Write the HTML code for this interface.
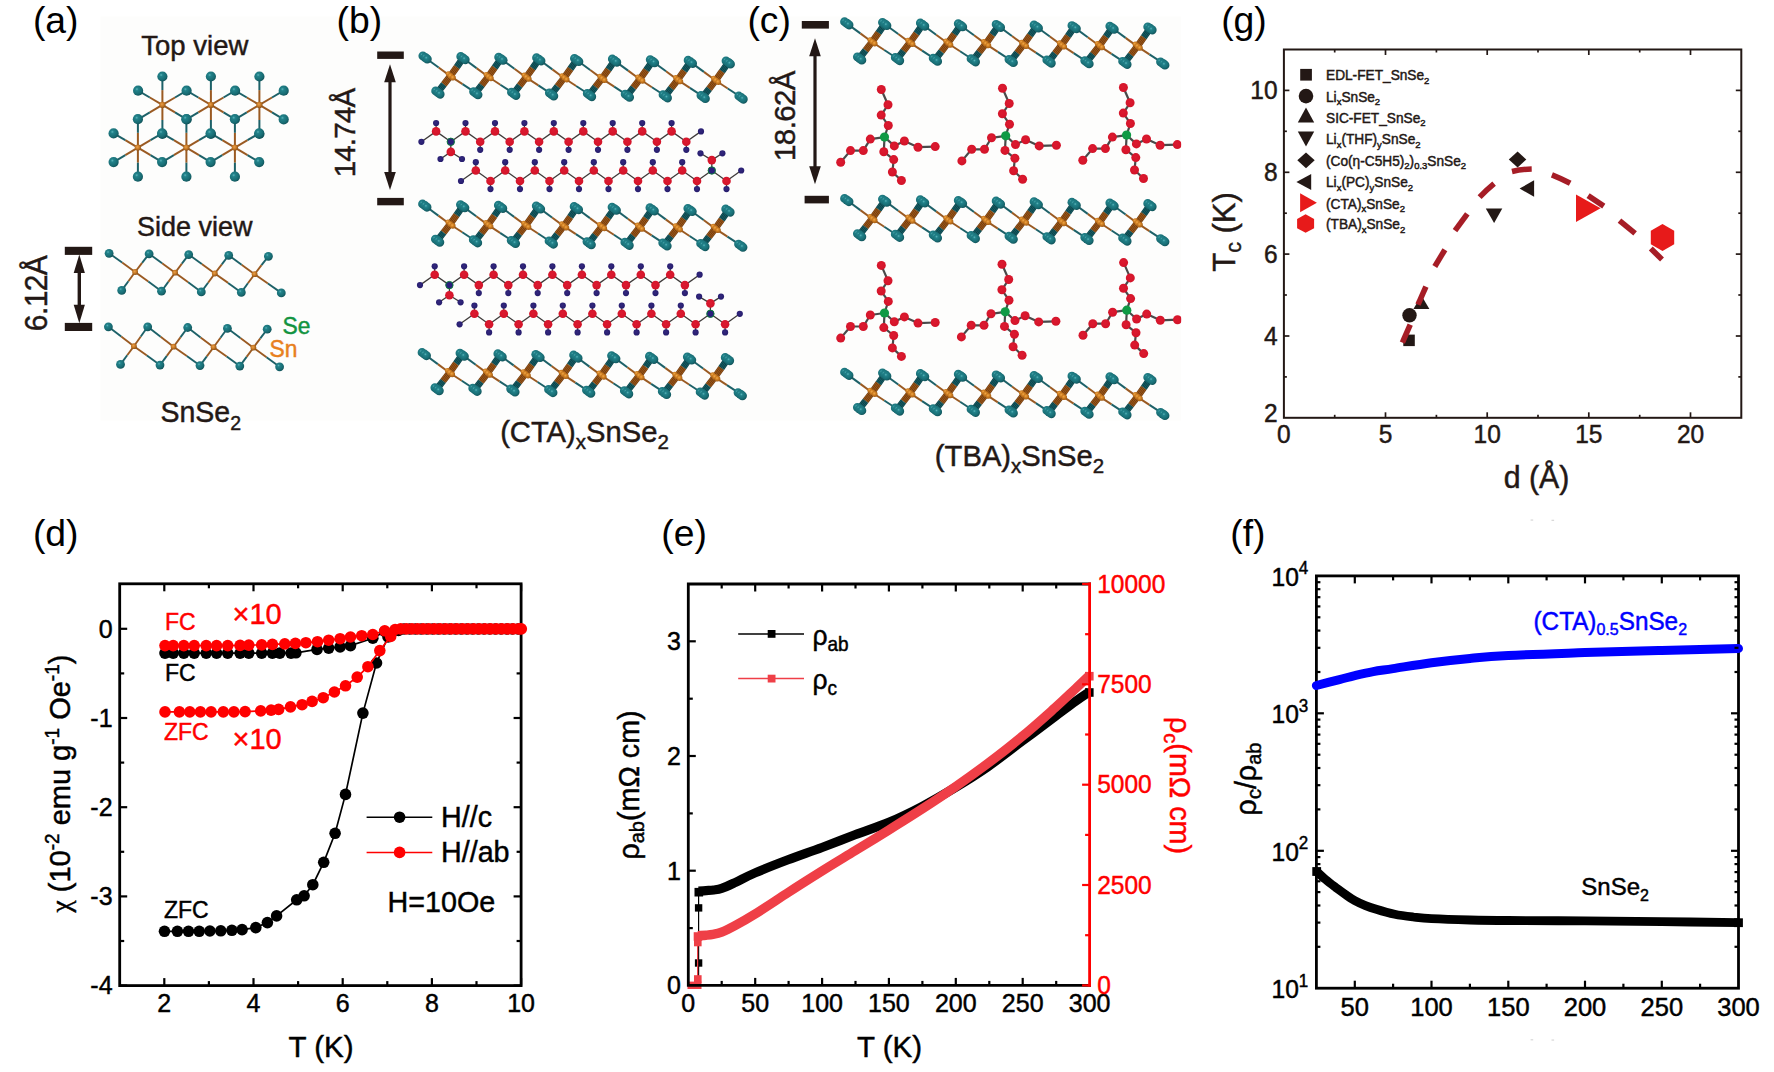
<!DOCTYPE html>
<html lang="en"><head><meta charset="utf-8"><title>Figure</title>
<style>
html,body{margin:0;padding:0;background:#fff;}
body{width:1774px;height:1072px;overflow:hidden;}
svg{display:block;font-family:"Liberation Sans",sans-serif;}
</style></head><body>
<svg width="1774" height="1072" viewBox="0 0 1774 1072">
<defs>
<radialGradient id="gSe" cx="0.38" cy="0.35" r="0.7"><stop offset="0" stop-color="#5ab4b9"/><stop offset="0.22" stop-color="#22828a"/><stop offset="0.7" stop-color="#186c73"/><stop offset="1" stop-color="#0f4e54"/></radialGradient>
<radialGradient id="gSn" cx="0.4" cy="0.38" r="0.7"><stop offset="0" stop-color="#f0a848"/><stop offset="0.4" stop-color="#d07f22"/><stop offset="1" stop-color="#9a5612"/></radialGradient>
<radialGradient id="gSn2" cx="0.42" cy="0.4" r="0.7"><stop offset="0" stop-color="#eaa04a"/><stop offset="0.45" stop-color="#c87a26"/><stop offset="1" stop-color="#7e4814"/></radialGradient>
<radialGradient id="gC" cx="0.45" cy="0.42" r="0.7"><stop offset="0" stop-color="#dc1a30"/><stop offset="0.8" stop-color="#d31429"/><stop offset="1" stop-color="#bd0f22"/></radialGradient>
<radialGradient id="gH" cx="0.45" cy="0.42" r="0.7"><stop offset="0" stop-color="#33287f"/><stop offset="1" stop-color="#231a68"/></radialGradient>
<clipPath id="clipABC"><rect x="100.5" y="16.5" width="1080.7" height="404"/></clipPath>
</defs>
<rect x="100.5" y="16.5" width="1080.7" height="404" fill="#fdfdfc"/>
<text class="pl" x="32.9" y="32.5" font-size="37.3" fill="#000">(a)</text>
<text class="pl" x="336.6" y="32.5" font-size="37.3" fill="#000">(b)</text>
<text class="pl" x="747.4" y="32.5" font-size="37.3" fill="#000">(c)</text>
<g id="a-top">
<line x1="162.4" y1="104.9" x2="162.4" y2="90.1" stroke="#9a5a22" stroke-width="2.0"/>
<line x1="162.4" y1="90.1" x2="162.4" y2="76.5" stroke="#1d6168" stroke-width="2.0"/>
<line x1="162.4" y1="104.9" x2="162.4" y2="120" stroke="#9a5a22" stroke-width="2.0"/>
<line x1="162.4" y1="120" x2="162.4" y2="134" stroke="#1d6168" stroke-width="2.0"/>
<line x1="162.4" y1="104.9" x2="149.8" y2="97.5" stroke="#9a5a22" stroke-width="2.0"/>
<line x1="149.8" y1="97.5" x2="138.1" y2="90.7" stroke="#1d6168" stroke-width="2.0"/>
<line x1="162.4" y1="104.9" x2="175" y2="97.5" stroke="#9a5a22" stroke-width="2.0"/>
<line x1="175" y1="97.5" x2="186.7" y2="90.7" stroke="#1d6168" stroke-width="2.0"/>
<line x1="162.4" y1="104.9" x2="149.8" y2="112.4" stroke="#9a5a22" stroke-width="2.0"/>
<line x1="149.8" y1="112.4" x2="138.1" y2="119.4" stroke="#1d6168" stroke-width="2.0"/>
<line x1="162.4" y1="104.9" x2="175" y2="112.4" stroke="#9a5a22" stroke-width="2.0"/>
<line x1="175" y1="112.4" x2="186.7" y2="119.4" stroke="#1d6168" stroke-width="2.0"/>
<line x1="210.9" y1="104.9" x2="210.9" y2="90.1" stroke="#9a5a22" stroke-width="2.0"/>
<line x1="210.9" y1="90.1" x2="210.9" y2="76.5" stroke="#1d6168" stroke-width="2.0"/>
<line x1="210.9" y1="104.9" x2="210.9" y2="120" stroke="#9a5a22" stroke-width="2.0"/>
<line x1="210.9" y1="120" x2="210.9" y2="134" stroke="#1d6168" stroke-width="2.0"/>
<line x1="210.9" y1="104.9" x2="198.3" y2="97.5" stroke="#9a5a22" stroke-width="2.0"/>
<line x1="198.3" y1="97.5" x2="186.6" y2="90.7" stroke="#1d6168" stroke-width="2.0"/>
<line x1="210.9" y1="104.9" x2="223.5" y2="97.5" stroke="#9a5a22" stroke-width="2.0"/>
<line x1="223.5" y1="97.5" x2="235.2" y2="90.7" stroke="#1d6168" stroke-width="2.0"/>
<line x1="210.9" y1="104.9" x2="198.3" y2="112.4" stroke="#9a5a22" stroke-width="2.0"/>
<line x1="198.3" y1="112.4" x2="186.6" y2="119.4" stroke="#1d6168" stroke-width="2.0"/>
<line x1="210.9" y1="104.9" x2="223.5" y2="112.4" stroke="#9a5a22" stroke-width="2.0"/>
<line x1="223.5" y1="112.4" x2="235.2" y2="119.4" stroke="#1d6168" stroke-width="2.0"/>
<line x1="259.4" y1="104.9" x2="259.4" y2="90.1" stroke="#9a5a22" stroke-width="2.0"/>
<line x1="259.4" y1="90.1" x2="259.4" y2="76.5" stroke="#1d6168" stroke-width="2.0"/>
<line x1="259.4" y1="104.9" x2="259.4" y2="120" stroke="#9a5a22" stroke-width="2.0"/>
<line x1="259.4" y1="120" x2="259.4" y2="134" stroke="#1d6168" stroke-width="2.0"/>
<line x1="259.4" y1="104.9" x2="246.8" y2="97.5" stroke="#9a5a22" stroke-width="2.0"/>
<line x1="246.8" y1="97.5" x2="235.1" y2="90.7" stroke="#1d6168" stroke-width="2.0"/>
<line x1="259.4" y1="104.9" x2="272" y2="97.5" stroke="#9a5a22" stroke-width="2.0"/>
<line x1="272" y1="97.5" x2="283.7" y2="90.7" stroke="#1d6168" stroke-width="2.0"/>
<line x1="259.4" y1="104.9" x2="246.8" y2="112.4" stroke="#9a5a22" stroke-width="2.0"/>
<line x1="246.8" y1="112.4" x2="235.1" y2="119.4" stroke="#1d6168" stroke-width="2.0"/>
<line x1="259.4" y1="104.9" x2="272" y2="112.4" stroke="#9a5a22" stroke-width="2.0"/>
<line x1="272" y1="112.4" x2="283.7" y2="119.4" stroke="#1d6168" stroke-width="2.0"/>
<line x1="137.9" y1="147.6" x2="137.9" y2="132.8" stroke="#9a5a22" stroke-width="2.0"/>
<line x1="137.9" y1="132.8" x2="137.9" y2="119.2" stroke="#1d6168" stroke-width="2.0"/>
<line x1="137.9" y1="147.6" x2="137.9" y2="162.7" stroke="#9a5a22" stroke-width="2.0"/>
<line x1="137.9" y1="162.7" x2="137.9" y2="176.7" stroke="#1d6168" stroke-width="2.0"/>
<line x1="137.9" y1="147.6" x2="125.3" y2="140.2" stroke="#9a5a22" stroke-width="2.0"/>
<line x1="125.3" y1="140.2" x2="113.6" y2="133.4" stroke="#1d6168" stroke-width="2.0"/>
<line x1="137.9" y1="147.6" x2="150.5" y2="140.2" stroke="#9a5a22" stroke-width="2.0"/>
<line x1="150.5" y1="140.2" x2="162.2" y2="133.4" stroke="#1d6168" stroke-width="2.0"/>
<line x1="137.9" y1="147.6" x2="125.3" y2="155.1" stroke="#9a5a22" stroke-width="2.0"/>
<line x1="125.3" y1="155.1" x2="113.6" y2="162.1" stroke="#1d6168" stroke-width="2.0"/>
<line x1="137.9" y1="147.6" x2="150.5" y2="155.1" stroke="#9a5a22" stroke-width="2.0"/>
<line x1="150.5" y1="155.1" x2="162.2" y2="162.1" stroke="#1d6168" stroke-width="2.0"/>
<line x1="186.4" y1="147.6" x2="186.4" y2="132.8" stroke="#9a5a22" stroke-width="2.0"/>
<line x1="186.4" y1="132.8" x2="186.4" y2="119.2" stroke="#1d6168" stroke-width="2.0"/>
<line x1="186.4" y1="147.6" x2="186.4" y2="162.7" stroke="#9a5a22" stroke-width="2.0"/>
<line x1="186.4" y1="162.7" x2="186.4" y2="176.7" stroke="#1d6168" stroke-width="2.0"/>
<line x1="186.4" y1="147.6" x2="173.8" y2="140.2" stroke="#9a5a22" stroke-width="2.0"/>
<line x1="173.8" y1="140.2" x2="162.1" y2="133.4" stroke="#1d6168" stroke-width="2.0"/>
<line x1="186.4" y1="147.6" x2="199" y2="140.2" stroke="#9a5a22" stroke-width="2.0"/>
<line x1="199" y1="140.2" x2="210.7" y2="133.4" stroke="#1d6168" stroke-width="2.0"/>
<line x1="186.4" y1="147.6" x2="173.8" y2="155.1" stroke="#9a5a22" stroke-width="2.0"/>
<line x1="173.8" y1="155.1" x2="162.1" y2="162.1" stroke="#1d6168" stroke-width="2.0"/>
<line x1="186.4" y1="147.6" x2="199" y2="155.1" stroke="#9a5a22" stroke-width="2.0"/>
<line x1="199" y1="155.1" x2="210.7" y2="162.1" stroke="#1d6168" stroke-width="2.0"/>
<line x1="234.9" y1="147.6" x2="234.9" y2="132.8" stroke="#9a5a22" stroke-width="2.0"/>
<line x1="234.9" y1="132.8" x2="234.9" y2="119.2" stroke="#1d6168" stroke-width="2.0"/>
<line x1="234.9" y1="147.6" x2="234.9" y2="162.7" stroke="#9a5a22" stroke-width="2.0"/>
<line x1="234.9" y1="162.7" x2="234.9" y2="176.7" stroke="#1d6168" stroke-width="2.0"/>
<line x1="234.9" y1="147.6" x2="222.3" y2="140.2" stroke="#9a5a22" stroke-width="2.0"/>
<line x1="222.3" y1="140.2" x2="210.6" y2="133.4" stroke="#1d6168" stroke-width="2.0"/>
<line x1="234.9" y1="147.6" x2="247.5" y2="140.2" stroke="#9a5a22" stroke-width="2.0"/>
<line x1="247.5" y1="140.2" x2="259.2" y2="133.4" stroke="#1d6168" stroke-width="2.0"/>
<line x1="234.9" y1="147.6" x2="222.3" y2="155.1" stroke="#9a5a22" stroke-width="2.0"/>
<line x1="222.3" y1="155.1" x2="210.6" y2="162.1" stroke="#1d6168" stroke-width="2.0"/>
<line x1="234.9" y1="147.6" x2="247.5" y2="155.1" stroke="#9a5a22" stroke-width="2.0"/>
<line x1="247.5" y1="155.1" x2="259.2" y2="162.1" stroke="#1d6168" stroke-width="2.0"/>
<circle cx="162.4" cy="76.5" r="5.1" fill="url(#gSe)"/>
<circle cx="162.4" cy="134" r="5.1" fill="url(#gSe)"/>
<circle cx="138.1" cy="90.7" r="5.1" fill="url(#gSe)"/>
<circle cx="186.6" cy="90.7" r="5.1" fill="url(#gSe)"/>
<circle cx="137.9" cy="119.2" r="5.1" fill="url(#gSe)"/>
<circle cx="186.6" cy="119.4" r="5.1" fill="url(#gSe)"/>
<circle cx="210.9" cy="76.5" r="5.1" fill="url(#gSe)"/>
<circle cx="210.9" cy="134" r="5.1" fill="url(#gSe)"/>
<circle cx="235.1" cy="90.7" r="5.1" fill="url(#gSe)"/>
<circle cx="234.9" cy="119.2" r="5.1" fill="url(#gSe)"/>
<circle cx="259.4" cy="76.5" r="5.1" fill="url(#gSe)"/>
<circle cx="259.4" cy="134" r="5.1" fill="url(#gSe)"/>
<circle cx="283.7" cy="90.7" r="5.1" fill="url(#gSe)"/>
<circle cx="283.7" cy="119.4" r="5.1" fill="url(#gSe)"/>
<circle cx="137.9" cy="176.7" r="5.1" fill="url(#gSe)"/>
<circle cx="113.6" cy="133.4" r="5.1" fill="url(#gSe)"/>
<circle cx="162.1" cy="133.4" r="5.1" fill="url(#gSe)"/>
<circle cx="113.6" cy="162.1" r="5.1" fill="url(#gSe)"/>
<circle cx="162.1" cy="162.1" r="5.1" fill="url(#gSe)"/>
<circle cx="186.4" cy="119.2" r="5.1" fill="url(#gSe)"/>
<circle cx="186.4" cy="176.7" r="5.1" fill="url(#gSe)"/>
<circle cx="210.6" cy="133.4" r="5.1" fill="url(#gSe)"/>
<circle cx="210.6" cy="162.1" r="5.1" fill="url(#gSe)"/>
<circle cx="234.9" cy="176.7" r="5.1" fill="url(#gSe)"/>
<circle cx="259.2" cy="133.4" r="5.1" fill="url(#gSe)"/>
<circle cx="259.2" cy="162.1" r="5.1" fill="url(#gSe)"/>
<circle cx="162.4" cy="104.9" r="3.1" fill="url(#gSn2)"/>
<circle cx="210.9" cy="104.9" r="3.1" fill="url(#gSn2)"/>
<circle cx="259.4" cy="104.9" r="3.1" fill="url(#gSn2)"/>
<circle cx="137.9" cy="147.6" r="3.1" fill="url(#gSn2)"/>
<circle cx="186.4" cy="147.6" r="3.1" fill="url(#gSn2)"/>
<circle cx="234.9" cy="147.6" r="3.1" fill="url(#gSn2)"/>
</g>
<text transform="translate(194.8 55.2) scale(1 1.03)" font-size="27.5" fill="#231815" stroke="#231815" stroke-width="0.45" text-anchor="middle">Top view</text>
<text transform="translate(194.8 235.7) scale(1 1.03)" font-size="27" fill="#231815" stroke="#231815" stroke-width="0.45" text-anchor="middle">Side view</text>
<text transform="translate(160.5 422.2) scale(1 1.03)" font-size="28.5" fill="#231815" stroke="#231815" stroke-width="0.45" text-anchor="start">SnSe<tspan font-size="19.5" dy="7.5">2</tspan></text>
<text transform="translate(282.5 333.9) scale(1 1.03)" font-size="22.8" fill="#12933f" stroke="#12933f" stroke-width="0.45" text-anchor="start">Se</text>
<text transform="translate(269.5 357.3) scale(1 1.03)" font-size="22.8" fill="#e8801c" stroke="#e8801c" stroke-width="0.45" text-anchor="start">Sn</text>
<g id="a-side">
<line x1="135.1" y1="272" x2="122.1" y2="262.6" stroke="#9a5a22" stroke-width="1.9"/>
<line x1="122.1" y1="262.6" x2="109.1" y2="253.3" stroke="#1d6168" stroke-width="1.9"/>
<line x1="135.1" y1="272" x2="142.1" y2="262.9" stroke="#9a5a22" stroke-width="1.9"/>
<line x1="142.1" y1="262.9" x2="149.1" y2="253.8" stroke="#1d6168" stroke-width="1.9"/>
<line x1="135.1" y1="272" x2="128.4" y2="281.2" stroke="#9a5a22" stroke-width="1.9"/>
<line x1="128.4" y1="281.2" x2="121.7" y2="290.4" stroke="#1d6168" stroke-width="1.9"/>
<line x1="135.1" y1="272" x2="148.3" y2="281.6" stroke="#9a5a22" stroke-width="1.9"/>
<line x1="148.3" y1="281.6" x2="161.5" y2="291.2" stroke="#1d6168" stroke-width="1.9"/>
<line x1="175.1" y1="272.7" x2="162.1" y2="263.2" stroke="#9a5a22" stroke-width="1.9"/>
<line x1="162.1" y1="263.2" x2="149.1" y2="253.8" stroke="#1d6168" stroke-width="1.9"/>
<line x1="175.1" y1="272.7" x2="181.9" y2="263.6" stroke="#9a5a22" stroke-width="1.9"/>
<line x1="181.9" y1="263.6" x2="188.7" y2="254.6" stroke="#1d6168" stroke-width="1.9"/>
<line x1="175.1" y1="272.7" x2="168.3" y2="281.9" stroke="#9a5a22" stroke-width="1.9"/>
<line x1="168.3" y1="281.9" x2="161.5" y2="291.2" stroke="#1d6168" stroke-width="1.9"/>
<line x1="175.1" y1="272.7" x2="188.2" y2="282.3" stroke="#9a5a22" stroke-width="1.9"/>
<line x1="188.2" y1="282.3" x2="201.3" y2="291.9" stroke="#1d6168" stroke-width="1.9"/>
<line x1="214.8" y1="273.5" x2="201.8" y2="264.1" stroke="#9a5a22" stroke-width="1.9"/>
<line x1="201.8" y1="264.1" x2="188.7" y2="254.6" stroke="#1d6168" stroke-width="1.9"/>
<line x1="214.8" y1="273.5" x2="221.8" y2="264.4" stroke="#9a5a22" stroke-width="1.9"/>
<line x1="221.8" y1="264.4" x2="228.7" y2="255.3" stroke="#1d6168" stroke-width="1.9"/>
<line x1="214.8" y1="273.5" x2="208.1" y2="282.7" stroke="#9a5a22" stroke-width="1.9"/>
<line x1="208.1" y1="282.7" x2="201.3" y2="291.9" stroke="#1d6168" stroke-width="1.9"/>
<line x1="214.8" y1="273.5" x2="228.1" y2="282.9" stroke="#9a5a22" stroke-width="1.9"/>
<line x1="228.1" y1="282.9" x2="241.3" y2="292.4" stroke="#1d6168" stroke-width="1.9"/>
<line x1="254.6" y1="274.2" x2="241.6" y2="264.8" stroke="#9a5a22" stroke-width="1.9"/>
<line x1="241.6" y1="264.8" x2="228.7" y2="255.3" stroke="#1d6168" stroke-width="1.9"/>
<line x1="254.6" y1="274.2" x2="261.5" y2="265.2" stroke="#9a5a22" stroke-width="1.9"/>
<line x1="261.5" y1="265.2" x2="268.4" y2="256.3" stroke="#1d6168" stroke-width="1.9"/>
<line x1="254.6" y1="274.2" x2="247.9" y2="283.3" stroke="#9a5a22" stroke-width="1.9"/>
<line x1="247.9" y1="283.3" x2="241.3" y2="292.4" stroke="#1d6168" stroke-width="1.9"/>
<line x1="254.6" y1="274.2" x2="267.9" y2="283.5" stroke="#9a5a22" stroke-width="1.9"/>
<line x1="267.9" y1="283.5" x2="281.3" y2="292.9" stroke="#1d6168" stroke-width="1.9"/>
<circle cx="109.1" cy="253.3" r="4.4" fill="url(#gSe)"/>
<circle cx="149.1" cy="253.8" r="4.4" fill="url(#gSe)"/>
<circle cx="188.7" cy="254.6" r="4.4" fill="url(#gSe)"/>
<circle cx="228.7" cy="255.3" r="4.4" fill="url(#gSe)"/>
<circle cx="268.4" cy="256.3" r="4.4" fill="url(#gSe)"/>
<circle cx="121.7" cy="290.4" r="4.4" fill="url(#gSe)"/>
<circle cx="161.5" cy="291.2" r="4.4" fill="url(#gSe)"/>
<circle cx="201.3" cy="291.9" r="4.4" fill="url(#gSe)"/>
<circle cx="241.3" cy="292.4" r="4.4" fill="url(#gSe)"/>
<circle cx="281.3" cy="292.9" r="4.4" fill="url(#gSe)"/>
<circle cx="135.1" cy="272" r="2.9" fill="url(#gSn2)"/>
<circle cx="175.1" cy="272.7" r="2.9" fill="url(#gSn2)"/>
<circle cx="214.8" cy="273.5" r="2.9" fill="url(#gSn2)"/>
<circle cx="254.6" cy="274.2" r="2.9" fill="url(#gSn2)"/>
<line x1="133.9" y1="346.2" x2="121.2" y2="336.5" stroke="#9a5a22" stroke-width="1.9"/>
<line x1="121.2" y1="336.5" x2="108.4" y2="326.8" stroke="#1d6168" stroke-width="1.9"/>
<line x1="133.9" y1="346.2" x2="140.8" y2="336.5" stroke="#9a5a22" stroke-width="1.9"/>
<line x1="140.8" y1="336.5" x2="147.7" y2="326.8" stroke="#1d6168" stroke-width="1.9"/>
<line x1="133.9" y1="346.2" x2="127.2" y2="355.3" stroke="#9a5a22" stroke-width="1.9"/>
<line x1="127.2" y1="355.3" x2="120.5" y2="364.4" stroke="#1d6168" stroke-width="1.9"/>
<line x1="133.9" y1="346.2" x2="146.9" y2="355.6" stroke="#9a5a22" stroke-width="1.9"/>
<line x1="146.9" y1="355.6" x2="160" y2="365.1" stroke="#1d6168" stroke-width="1.9"/>
<line x1="173.6" y1="346.7" x2="160.6" y2="336.8" stroke="#9a5a22" stroke-width="1.9"/>
<line x1="160.6" y1="336.8" x2="147.7" y2="326.8" stroke="#1d6168" stroke-width="1.9"/>
<line x1="173.6" y1="346.7" x2="180.6" y2="337.1" stroke="#9a5a22" stroke-width="1.9"/>
<line x1="180.6" y1="337.1" x2="187.7" y2="327.5" stroke="#1d6168" stroke-width="1.9"/>
<line x1="173.6" y1="346.7" x2="166.8" y2="355.9" stroke="#9a5a22" stroke-width="1.9"/>
<line x1="166.8" y1="355.9" x2="160" y2="365.1" stroke="#1d6168" stroke-width="1.9"/>
<line x1="173.6" y1="346.7" x2="186.8" y2="356.1" stroke="#9a5a22" stroke-width="1.9"/>
<line x1="186.8" y1="356.1" x2="200" y2="365.6" stroke="#1d6168" stroke-width="1.9"/>
<line x1="213.6" y1="347.2" x2="200.6" y2="337.4" stroke="#9a5a22" stroke-width="1.9"/>
<line x1="200.6" y1="337.4" x2="187.7" y2="327.5" stroke="#1d6168" stroke-width="1.9"/>
<line x1="213.6" y1="347.2" x2="220.5" y2="337.8" stroke="#9a5a22" stroke-width="1.9"/>
<line x1="220.5" y1="337.8" x2="227.4" y2="328.3" stroke="#1d6168" stroke-width="1.9"/>
<line x1="213.6" y1="347.2" x2="206.8" y2="356.4" stroke="#9a5a22" stroke-width="1.9"/>
<line x1="206.8" y1="356.4" x2="200" y2="365.6" stroke="#1d6168" stroke-width="1.9"/>
<line x1="213.6" y1="347.2" x2="226.7" y2="356.6" stroke="#9a5a22" stroke-width="1.9"/>
<line x1="226.7" y1="356.6" x2="239.8" y2="366.1" stroke="#1d6168" stroke-width="1.9"/>
<line x1="253.4" y1="347.7" x2="240.4" y2="338" stroke="#9a5a22" stroke-width="1.9"/>
<line x1="240.4" y1="338" x2="227.4" y2="328.3" stroke="#1d6168" stroke-width="1.9"/>
<line x1="253.4" y1="347.7" x2="260.3" y2="338.4" stroke="#9a5a22" stroke-width="1.9"/>
<line x1="260.3" y1="338.4" x2="267.2" y2="329.2" stroke="#1d6168" stroke-width="1.9"/>
<line x1="253.4" y1="347.7" x2="246.6" y2="356.9" stroke="#9a5a22" stroke-width="1.9"/>
<line x1="246.6" y1="356.9" x2="239.8" y2="366.1" stroke="#1d6168" stroke-width="1.9"/>
<line x1="253.4" y1="347.7" x2="266.5" y2="357.2" stroke="#9a5a22" stroke-width="1.9"/>
<line x1="266.5" y1="357.2" x2="279.6" y2="366.8" stroke="#1d6168" stroke-width="1.9"/>
<circle cx="108.4" cy="326.8" r="4.4" fill="url(#gSe)"/>
<circle cx="147.7" cy="326.8" r="4.4" fill="url(#gSe)"/>
<circle cx="187.7" cy="327.5" r="4.4" fill="url(#gSe)"/>
<circle cx="227.4" cy="328.3" r="4.4" fill="url(#gSe)"/>
<circle cx="267.2" cy="329.2" r="4.4" fill="url(#gSe)"/>
<circle cx="120.5" cy="364.4" r="4.4" fill="url(#gSe)"/>
<circle cx="160" cy="365.1" r="4.4" fill="url(#gSe)"/>
<circle cx="200" cy="365.6" r="4.4" fill="url(#gSe)"/>
<circle cx="239.8" cy="366.1" r="4.4" fill="url(#gSe)"/>
<circle cx="279.6" cy="366.8" r="4.4" fill="url(#gSe)"/>
<circle cx="133.9" cy="346.2" r="2.9" fill="url(#gSn2)"/>
<circle cx="173.6" cy="346.7" r="2.9" fill="url(#gSn2)"/>
<circle cx="213.6" cy="347.2" r="2.9" fill="url(#gSn2)"/>
<circle cx="253.4" cy="347.7" r="2.9" fill="url(#gSn2)"/>
</g>
<rect x="64.8" y="246.8" width="27.4" height="8.1" fill="#231815"/>
<rect x="64.8" y="322.9" width="27.4" height="8.1" fill="#231815"/>
<line x1="79.3" y1="262.6" x2="79.3" y2="315.2" stroke="#231815" stroke-width="3.4"/>
<path d="M79.3 254.6 L73.7 273.1 L84.9 273.1 Z" fill="#231815"/>
<path d="M79.3 323.2 L73.7 304.7 L84.9 304.7 Z" fill="#231815"/>
<text transform="translate(46.5 293.5) rotate(-90) scale(1 1.03)" font-size="30" fill="#231815" stroke="#231815" stroke-width="0.45" text-anchor="middle" letter-spacing="-0.6">6.12Å</text>
<g id="b-l1" transform="translate(425,57.4) rotate(0.95)">
<line x1="25.6" y1="18.3" x2="13.8" y2="9.9" stroke="#9a5a22" stroke-width="2.0"/>
<line x1="13.8" y1="9.9" x2="2" y2="1.5" stroke="#1d6168" stroke-width="2.0"/>
<line x1="25.6" y1="18.3" x2="38" y2="26.1" stroke="#9a5a22" stroke-width="2.0"/>
<line x1="38" y1="26.1" x2="50.3" y2="33.9" stroke="#1d6168" stroke-width="2.0"/>
<line x1="63.5" y1="18.3" x2="51.7" y2="9.9" stroke="#9a5a22" stroke-width="2.0"/>
<line x1="51.7" y1="9.9" x2="39.9" y2="1.5" stroke="#1d6168" stroke-width="2.0"/>
<line x1="63.5" y1="18.3" x2="75.8" y2="26.1" stroke="#9a5a22" stroke-width="2.0"/>
<line x1="75.8" y1="26.1" x2="88.2" y2="33.9" stroke="#1d6168" stroke-width="2.0"/>
<line x1="101.4" y1="18.3" x2="89.6" y2="9.9" stroke="#9a5a22" stroke-width="2.0"/>
<line x1="89.6" y1="9.9" x2="77.8" y2="1.5" stroke="#1d6168" stroke-width="2.0"/>
<line x1="101.4" y1="18.3" x2="113.8" y2="26.1" stroke="#9a5a22" stroke-width="2.0"/>
<line x1="113.8" y1="26.1" x2="126.1" y2="33.9" stroke="#1d6168" stroke-width="2.0"/>
<line x1="139.3" y1="18.3" x2="127.5" y2="9.9" stroke="#9a5a22" stroke-width="2.0"/>
<line x1="127.5" y1="9.9" x2="115.7" y2="1.5" stroke="#1d6168" stroke-width="2.0"/>
<line x1="139.3" y1="18.3" x2="151.6" y2="26.1" stroke="#9a5a22" stroke-width="2.0"/>
<line x1="151.6" y1="26.1" x2="164" y2="33.9" stroke="#1d6168" stroke-width="2.0"/>
<line x1="177.2" y1="18.3" x2="165.4" y2="9.9" stroke="#9a5a22" stroke-width="2.0"/>
<line x1="165.4" y1="9.9" x2="153.6" y2="1.5" stroke="#1d6168" stroke-width="2.0"/>
<line x1="177.2" y1="18.3" x2="189.6" y2="26.1" stroke="#9a5a22" stroke-width="2.0"/>
<line x1="189.6" y1="26.1" x2="201.9" y2="33.9" stroke="#1d6168" stroke-width="2.0"/>
<line x1="215.1" y1="18.3" x2="203.3" y2="9.9" stroke="#9a5a22" stroke-width="2.0"/>
<line x1="203.3" y1="9.9" x2="191.5" y2="1.5" stroke="#1d6168" stroke-width="2.0"/>
<line x1="215.1" y1="18.3" x2="227.4" y2="26.1" stroke="#9a5a22" stroke-width="2.0"/>
<line x1="227.4" y1="26.1" x2="239.8" y2="33.9" stroke="#1d6168" stroke-width="2.0"/>
<line x1="253" y1="18.3" x2="241.2" y2="9.9" stroke="#9a5a22" stroke-width="2.0"/>
<line x1="241.2" y1="9.9" x2="229.4" y2="1.5" stroke="#1d6168" stroke-width="2.0"/>
<line x1="253" y1="18.3" x2="265.3" y2="26.1" stroke="#9a5a22" stroke-width="2.0"/>
<line x1="265.3" y1="26.1" x2="277.7" y2="33.9" stroke="#1d6168" stroke-width="2.0"/>
<line x1="290.9" y1="18.3" x2="279.1" y2="9.9" stroke="#9a5a22" stroke-width="2.0"/>
<line x1="279.1" y1="9.9" x2="267.3" y2="1.5" stroke="#1d6168" stroke-width="2.0"/>
<line x1="290.9" y1="18.3" x2="303.2" y2="26.1" stroke="#9a5a22" stroke-width="2.0"/>
<line x1="303.2" y1="26.1" x2="315.6" y2="33.9" stroke="#1d6168" stroke-width="2.0"/>
<line x1="25.6" y1="18.3" x2="32" y2="9" stroke="#6e3c10" stroke-width="6.8"/>
<line x1="32" y1="9" x2="37.4" y2="1" stroke="#0c4046" stroke-width="6.8"/>
<line x1="23.7" y1="17" x2="30.1" y2="7.7" stroke="#a85c18" stroke-width="0.85"/>
<line x1="30.1" y1="7.7" x2="35.5" y2="-0.3" stroke="#17646b" stroke-width="0.85"/>
<line x1="25" y1="17.9" x2="31.4" y2="8.5" stroke="#a85c18" stroke-width="0.85"/>
<line x1="31.4" y1="8.5" x2="36.8" y2="0.6" stroke="#17646b" stroke-width="0.85"/>
<line x1="26.2" y1="18.7" x2="32.6" y2="9.4" stroke="#a85c18" stroke-width="0.85"/>
<line x1="32.6" y1="9.4" x2="38" y2="1.4" stroke="#17646b" stroke-width="0.85"/>
<line x1="27.5" y1="19.6" x2="33.9" y2="10.3" stroke="#a85c18" stroke-width="0.85"/>
<line x1="33.9" y1="10.3" x2="39.3" y2="2.3" stroke="#17646b" stroke-width="0.85"/>
<line x1="25.6" y1="18.3" x2="19.3" y2="26.7" stroke="#6e3c10" stroke-width="6.8"/>
<line x1="19.3" y1="26.7" x2="13.9" y2="33.9" stroke="#0c4046" stroke-width="6.8"/>
<line x1="27.4" y1="19.7" x2="21.1" y2="28.1" stroke="#a85c18" stroke-width="0.85"/>
<line x1="21.1" y1="28.1" x2="15.7" y2="35.3" stroke="#17646b" stroke-width="0.85"/>
<line x1="26.2" y1="18.8" x2="19.9" y2="27.2" stroke="#a85c18" stroke-width="0.85"/>
<line x1="19.9" y1="27.2" x2="14.5" y2="34.4" stroke="#17646b" stroke-width="0.85"/>
<line x1="25" y1="17.9" x2="18.7" y2="26.3" stroke="#a85c18" stroke-width="0.85"/>
<line x1="18.7" y1="26.3" x2="13.3" y2="33.4" stroke="#17646b" stroke-width="0.85"/>
<line x1="23.8" y1="16.9" x2="17.4" y2="25.3" stroke="#a85c18" stroke-width="0.85"/>
<line x1="17.4" y1="25.3" x2="12.1" y2="32.5" stroke="#17646b" stroke-width="0.85"/>
<line x1="63.5" y1="18.3" x2="69.9" y2="9" stroke="#6e3c10" stroke-width="6.8"/>
<line x1="69.9" y1="9" x2="75.3" y2="1" stroke="#0c4046" stroke-width="6.8"/>
<line x1="61.6" y1="17" x2="68" y2="7.7" stroke="#a85c18" stroke-width="0.85"/>
<line x1="68" y1="7.7" x2="73.4" y2="-0.3" stroke="#17646b" stroke-width="0.85"/>
<line x1="62.9" y1="17.9" x2="69.3" y2="8.5" stroke="#a85c18" stroke-width="0.85"/>
<line x1="69.3" y1="8.5" x2="74.7" y2="0.6" stroke="#17646b" stroke-width="0.85"/>
<line x1="64.1" y1="18.7" x2="70.5" y2="9.4" stroke="#a85c18" stroke-width="0.85"/>
<line x1="70.5" y1="9.4" x2="75.9" y2="1.4" stroke="#17646b" stroke-width="0.85"/>
<line x1="65.4" y1="19.6" x2="71.8" y2="10.3" stroke="#a85c18" stroke-width="0.85"/>
<line x1="71.8" y1="10.3" x2="77.2" y2="2.3" stroke="#17646b" stroke-width="0.85"/>
<line x1="63.5" y1="18.3" x2="57.2" y2="26.7" stroke="#6e3c10" stroke-width="6.8"/>
<line x1="57.2" y1="26.7" x2="51.8" y2="33.9" stroke="#0c4046" stroke-width="6.8"/>
<line x1="65.3" y1="19.7" x2="59" y2="28.1" stroke="#a85c18" stroke-width="0.85"/>
<line x1="59" y1="28.1" x2="53.6" y2="35.3" stroke="#17646b" stroke-width="0.85"/>
<line x1="64.1" y1="18.8" x2="57.8" y2="27.2" stroke="#a85c18" stroke-width="0.85"/>
<line x1="57.8" y1="27.2" x2="52.4" y2="34.4" stroke="#17646b" stroke-width="0.85"/>
<line x1="62.9" y1="17.9" x2="56.6" y2="26.3" stroke="#a85c18" stroke-width="0.85"/>
<line x1="56.6" y1="26.3" x2="51.2" y2="33.4" stroke="#17646b" stroke-width="0.85"/>
<line x1="61.7" y1="16.9" x2="55.3" y2="25.3" stroke="#a85c18" stroke-width="0.85"/>
<line x1="55.3" y1="25.3" x2="50" y2="32.5" stroke="#17646b" stroke-width="0.85"/>
<line x1="101.4" y1="18.3" x2="107.8" y2="9" stroke="#6e3c10" stroke-width="6.8"/>
<line x1="107.8" y1="9" x2="113.2" y2="1" stroke="#0c4046" stroke-width="6.8"/>
<line x1="99.5" y1="17" x2="105.9" y2="7.7" stroke="#a85c18" stroke-width="0.85"/>
<line x1="105.9" y1="7.7" x2="111.3" y2="-0.3" stroke="#17646b" stroke-width="0.85"/>
<line x1="100.8" y1="17.9" x2="107.2" y2="8.5" stroke="#a85c18" stroke-width="0.85"/>
<line x1="107.2" y1="8.5" x2="112.6" y2="0.6" stroke="#17646b" stroke-width="0.85"/>
<line x1="102" y1="18.7" x2="108.4" y2="9.4" stroke="#a85c18" stroke-width="0.85"/>
<line x1="108.4" y1="9.4" x2="113.8" y2="1.4" stroke="#17646b" stroke-width="0.85"/>
<line x1="103.3" y1="19.6" x2="109.7" y2="10.3" stroke="#a85c18" stroke-width="0.85"/>
<line x1="109.7" y1="10.3" x2="115.1" y2="2.3" stroke="#17646b" stroke-width="0.85"/>
<line x1="101.4" y1="18.3" x2="95.1" y2="26.7" stroke="#6e3c10" stroke-width="6.8"/>
<line x1="95.1" y1="26.7" x2="89.7" y2="33.9" stroke="#0c4046" stroke-width="6.8"/>
<line x1="103.2" y1="19.7" x2="96.9" y2="28.1" stroke="#a85c18" stroke-width="0.85"/>
<line x1="96.9" y1="28.1" x2="91.5" y2="35.3" stroke="#17646b" stroke-width="0.85"/>
<line x1="102" y1="18.8" x2="95.7" y2="27.2" stroke="#a85c18" stroke-width="0.85"/>
<line x1="95.7" y1="27.2" x2="90.3" y2="34.4" stroke="#17646b" stroke-width="0.85"/>
<line x1="100.8" y1="17.9" x2="94.5" y2="26.3" stroke="#a85c18" stroke-width="0.85"/>
<line x1="94.5" y1="26.3" x2="89.1" y2="33.4" stroke="#17646b" stroke-width="0.85"/>
<line x1="99.6" y1="16.9" x2="93.2" y2="25.3" stroke="#a85c18" stroke-width="0.85"/>
<line x1="93.2" y1="25.3" x2="87.9" y2="32.5" stroke="#17646b" stroke-width="0.85"/>
<line x1="139.3" y1="18.3" x2="145.7" y2="9" stroke="#6e3c10" stroke-width="6.8"/>
<line x1="145.7" y1="9" x2="151.1" y2="1" stroke="#0c4046" stroke-width="6.8"/>
<line x1="137.4" y1="17" x2="143.8" y2="7.7" stroke="#a85c18" stroke-width="0.85"/>
<line x1="143.8" y1="7.7" x2="149.2" y2="-0.3" stroke="#17646b" stroke-width="0.85"/>
<line x1="138.7" y1="17.9" x2="145.1" y2="8.5" stroke="#a85c18" stroke-width="0.85"/>
<line x1="145.1" y1="8.5" x2="150.5" y2="0.6" stroke="#17646b" stroke-width="0.85"/>
<line x1="139.9" y1="18.7" x2="146.3" y2="9.4" stroke="#a85c18" stroke-width="0.85"/>
<line x1="146.3" y1="9.4" x2="151.7" y2="1.4" stroke="#17646b" stroke-width="0.85"/>
<line x1="141.2" y1="19.6" x2="147.6" y2="10.3" stroke="#a85c18" stroke-width="0.85"/>
<line x1="147.6" y1="10.3" x2="153" y2="2.3" stroke="#17646b" stroke-width="0.85"/>
<line x1="139.3" y1="18.3" x2="133" y2="26.7" stroke="#6e3c10" stroke-width="6.8"/>
<line x1="133" y1="26.7" x2="127.6" y2="33.9" stroke="#0c4046" stroke-width="6.8"/>
<line x1="141.1" y1="19.7" x2="134.8" y2="28.1" stroke="#a85c18" stroke-width="0.85"/>
<line x1="134.8" y1="28.1" x2="129.4" y2="35.3" stroke="#17646b" stroke-width="0.85"/>
<line x1="139.9" y1="18.8" x2="133.6" y2="27.2" stroke="#a85c18" stroke-width="0.85"/>
<line x1="133.6" y1="27.2" x2="128.2" y2="34.4" stroke="#17646b" stroke-width="0.85"/>
<line x1="138.7" y1="17.9" x2="132.4" y2="26.3" stroke="#a85c18" stroke-width="0.85"/>
<line x1="132.4" y1="26.3" x2="127" y2="33.4" stroke="#17646b" stroke-width="0.85"/>
<line x1="137.5" y1="16.9" x2="131.1" y2="25.3" stroke="#a85c18" stroke-width="0.85"/>
<line x1="131.1" y1="25.3" x2="125.8" y2="32.5" stroke="#17646b" stroke-width="0.85"/>
<line x1="177.2" y1="18.3" x2="183.6" y2="9" stroke="#6e3c10" stroke-width="6.8"/>
<line x1="183.6" y1="9" x2="189" y2="1" stroke="#0c4046" stroke-width="6.8"/>
<line x1="175.3" y1="17" x2="181.7" y2="7.7" stroke="#a85c18" stroke-width="0.85"/>
<line x1="181.7" y1="7.7" x2="187.1" y2="-0.3" stroke="#17646b" stroke-width="0.85"/>
<line x1="176.6" y1="17.9" x2="183" y2="8.5" stroke="#a85c18" stroke-width="0.85"/>
<line x1="183" y1="8.5" x2="188.4" y2="0.6" stroke="#17646b" stroke-width="0.85"/>
<line x1="177.8" y1="18.7" x2="184.2" y2="9.4" stroke="#a85c18" stroke-width="0.85"/>
<line x1="184.2" y1="9.4" x2="189.6" y2="1.4" stroke="#17646b" stroke-width="0.85"/>
<line x1="179.1" y1="19.6" x2="185.5" y2="10.3" stroke="#a85c18" stroke-width="0.85"/>
<line x1="185.5" y1="10.3" x2="190.9" y2="2.3" stroke="#17646b" stroke-width="0.85"/>
<line x1="177.2" y1="18.3" x2="170.9" y2="26.7" stroke="#6e3c10" stroke-width="6.8"/>
<line x1="170.9" y1="26.7" x2="165.5" y2="33.9" stroke="#0c4046" stroke-width="6.8"/>
<line x1="179" y1="19.7" x2="172.7" y2="28.1" stroke="#a85c18" stroke-width="0.85"/>
<line x1="172.7" y1="28.1" x2="167.3" y2="35.3" stroke="#17646b" stroke-width="0.85"/>
<line x1="177.8" y1="18.8" x2="171.5" y2="27.2" stroke="#a85c18" stroke-width="0.85"/>
<line x1="171.5" y1="27.2" x2="166.1" y2="34.4" stroke="#17646b" stroke-width="0.85"/>
<line x1="176.6" y1="17.9" x2="170.3" y2="26.3" stroke="#a85c18" stroke-width="0.85"/>
<line x1="170.3" y1="26.3" x2="164.9" y2="33.4" stroke="#17646b" stroke-width="0.85"/>
<line x1="175.4" y1="16.9" x2="169" y2="25.3" stroke="#a85c18" stroke-width="0.85"/>
<line x1="169" y1="25.3" x2="163.7" y2="32.5" stroke="#17646b" stroke-width="0.85"/>
<line x1="215.1" y1="18.3" x2="221.5" y2="9" stroke="#6e3c10" stroke-width="6.8"/>
<line x1="221.5" y1="9" x2="226.9" y2="1" stroke="#0c4046" stroke-width="6.8"/>
<line x1="213.2" y1="17" x2="219.6" y2="7.7" stroke="#a85c18" stroke-width="0.85"/>
<line x1="219.6" y1="7.7" x2="225" y2="-0.3" stroke="#17646b" stroke-width="0.85"/>
<line x1="214.5" y1="17.9" x2="220.9" y2="8.5" stroke="#a85c18" stroke-width="0.85"/>
<line x1="220.9" y1="8.5" x2="226.3" y2="0.6" stroke="#17646b" stroke-width="0.85"/>
<line x1="215.7" y1="18.7" x2="222.1" y2="9.4" stroke="#a85c18" stroke-width="0.85"/>
<line x1="222.1" y1="9.4" x2="227.5" y2="1.4" stroke="#17646b" stroke-width="0.85"/>
<line x1="217" y1="19.6" x2="223.4" y2="10.3" stroke="#a85c18" stroke-width="0.85"/>
<line x1="223.4" y1="10.3" x2="228.8" y2="2.3" stroke="#17646b" stroke-width="0.85"/>
<line x1="215.1" y1="18.3" x2="208.8" y2="26.7" stroke="#6e3c10" stroke-width="6.8"/>
<line x1="208.8" y1="26.7" x2="203.4" y2="33.9" stroke="#0c4046" stroke-width="6.8"/>
<line x1="216.9" y1="19.7" x2="210.6" y2="28.1" stroke="#a85c18" stroke-width="0.85"/>
<line x1="210.6" y1="28.1" x2="205.2" y2="35.3" stroke="#17646b" stroke-width="0.85"/>
<line x1="215.7" y1="18.8" x2="209.4" y2="27.2" stroke="#a85c18" stroke-width="0.85"/>
<line x1="209.4" y1="27.2" x2="204" y2="34.4" stroke="#17646b" stroke-width="0.85"/>
<line x1="214.5" y1="17.9" x2="208.2" y2="26.3" stroke="#a85c18" stroke-width="0.85"/>
<line x1="208.2" y1="26.3" x2="202.8" y2="33.4" stroke="#17646b" stroke-width="0.85"/>
<line x1="213.3" y1="16.9" x2="206.9" y2="25.3" stroke="#a85c18" stroke-width="0.85"/>
<line x1="206.9" y1="25.3" x2="201.6" y2="32.5" stroke="#17646b" stroke-width="0.85"/>
<line x1="253" y1="18.3" x2="259.4" y2="9" stroke="#6e3c10" stroke-width="6.8"/>
<line x1="259.4" y1="9" x2="264.8" y2="1" stroke="#0c4046" stroke-width="6.8"/>
<line x1="251.1" y1="17" x2="257.5" y2="7.7" stroke="#a85c18" stroke-width="0.85"/>
<line x1="257.5" y1="7.7" x2="262.9" y2="-0.3" stroke="#17646b" stroke-width="0.85"/>
<line x1="252.4" y1="17.9" x2="258.8" y2="8.5" stroke="#a85c18" stroke-width="0.85"/>
<line x1="258.8" y1="8.5" x2="264.2" y2="0.6" stroke="#17646b" stroke-width="0.85"/>
<line x1="253.6" y1="18.7" x2="260" y2="9.4" stroke="#a85c18" stroke-width="0.85"/>
<line x1="260" y1="9.4" x2="265.4" y2="1.4" stroke="#17646b" stroke-width="0.85"/>
<line x1="254.9" y1="19.6" x2="261.3" y2="10.3" stroke="#a85c18" stroke-width="0.85"/>
<line x1="261.3" y1="10.3" x2="266.7" y2="2.3" stroke="#17646b" stroke-width="0.85"/>
<line x1="253" y1="18.3" x2="246.7" y2="26.7" stroke="#6e3c10" stroke-width="6.8"/>
<line x1="246.7" y1="26.7" x2="241.3" y2="33.9" stroke="#0c4046" stroke-width="6.8"/>
<line x1="254.8" y1="19.7" x2="248.5" y2="28.1" stroke="#a85c18" stroke-width="0.85"/>
<line x1="248.5" y1="28.1" x2="243.1" y2="35.3" stroke="#17646b" stroke-width="0.85"/>
<line x1="253.6" y1="18.8" x2="247.3" y2="27.2" stroke="#a85c18" stroke-width="0.85"/>
<line x1="247.3" y1="27.2" x2="241.9" y2="34.4" stroke="#17646b" stroke-width="0.85"/>
<line x1="252.4" y1="17.9" x2="246.1" y2="26.3" stroke="#a85c18" stroke-width="0.85"/>
<line x1="246.1" y1="26.3" x2="240.7" y2="33.4" stroke="#17646b" stroke-width="0.85"/>
<line x1="251.2" y1="16.9" x2="244.8" y2="25.3" stroke="#a85c18" stroke-width="0.85"/>
<line x1="244.8" y1="25.3" x2="239.5" y2="32.5" stroke="#17646b" stroke-width="0.85"/>
<line x1="290.9" y1="18.3" x2="297.3" y2="9" stroke="#6e3c10" stroke-width="6.8"/>
<line x1="297.3" y1="9" x2="302.7" y2="1" stroke="#0c4046" stroke-width="6.8"/>
<line x1="289" y1="17" x2="295.4" y2="7.7" stroke="#a85c18" stroke-width="0.85"/>
<line x1="295.4" y1="7.7" x2="300.8" y2="-0.3" stroke="#17646b" stroke-width="0.85"/>
<line x1="290.3" y1="17.9" x2="296.7" y2="8.5" stroke="#a85c18" stroke-width="0.85"/>
<line x1="296.7" y1="8.5" x2="302.1" y2="0.6" stroke="#17646b" stroke-width="0.85"/>
<line x1="291.5" y1="18.7" x2="297.9" y2="9.4" stroke="#a85c18" stroke-width="0.85"/>
<line x1="297.9" y1="9.4" x2="303.3" y2="1.4" stroke="#17646b" stroke-width="0.85"/>
<line x1="292.8" y1="19.6" x2="299.2" y2="10.3" stroke="#a85c18" stroke-width="0.85"/>
<line x1="299.2" y1="10.3" x2="304.6" y2="2.3" stroke="#17646b" stroke-width="0.85"/>
<line x1="290.9" y1="18.3" x2="284.6" y2="26.7" stroke="#6e3c10" stroke-width="6.8"/>
<line x1="284.6" y1="26.7" x2="279.2" y2="33.9" stroke="#0c4046" stroke-width="6.8"/>
<line x1="292.7" y1="19.7" x2="286.4" y2="28.1" stroke="#a85c18" stroke-width="0.85"/>
<line x1="286.4" y1="28.1" x2="281" y2="35.3" stroke="#17646b" stroke-width="0.85"/>
<line x1="291.5" y1="18.8" x2="285.2" y2="27.2" stroke="#a85c18" stroke-width="0.85"/>
<line x1="285.2" y1="27.2" x2="279.8" y2="34.4" stroke="#17646b" stroke-width="0.85"/>
<line x1="290.3" y1="17.8" x2="284" y2="26.3" stroke="#a85c18" stroke-width="0.85"/>
<line x1="284" y1="26.3" x2="278.6" y2="33.4" stroke="#17646b" stroke-width="0.85"/>
<line x1="289.1" y1="16.9" x2="282.7" y2="25.3" stroke="#a85c18" stroke-width="0.85"/>
<line x1="282.7" y1="25.3" x2="277.4" y2="32.5" stroke="#17646b" stroke-width="0.85"/>
<circle cx="-2.2" cy="-1.5" r="4.4" fill="url(#gSe)"/>
<circle cx="0.2" cy="0.1" r="4.6" fill="url(#gSe)"/>
<circle cx="2.3" cy="1.6" r="4.5" fill="url(#gSe)"/>
<circle cx="35.7" cy="-1.5" r="4.4" fill="url(#gSe)"/>
<circle cx="38.1" cy="0.1" r="4.6" fill="url(#gSe)"/>
<circle cx="40.2" cy="1.6" r="4.5" fill="url(#gSe)"/>
<circle cx="73.6" cy="-1.5" r="4.4" fill="url(#gSe)"/>
<circle cx="76" cy="0.1" r="4.6" fill="url(#gSe)"/>
<circle cx="78.1" cy="1.6" r="4.5" fill="url(#gSe)"/>
<circle cx="111.5" cy="-1.5" r="4.4" fill="url(#gSe)"/>
<circle cx="113.9" cy="0.1" r="4.6" fill="url(#gSe)"/>
<circle cx="116" cy="1.6" r="4.5" fill="url(#gSe)"/>
<circle cx="149.4" cy="-1.5" r="4.4" fill="url(#gSe)"/>
<circle cx="151.8" cy="0.1" r="4.6" fill="url(#gSe)"/>
<circle cx="153.9" cy="1.6" r="4.5" fill="url(#gSe)"/>
<circle cx="187.3" cy="-1.5" r="4.4" fill="url(#gSe)"/>
<circle cx="189.7" cy="0.1" r="4.6" fill="url(#gSe)"/>
<circle cx="191.8" cy="1.6" r="4.5" fill="url(#gSe)"/>
<circle cx="225.2" cy="-1.5" r="4.4" fill="url(#gSe)"/>
<circle cx="227.6" cy="0.1" r="4.6" fill="url(#gSe)"/>
<circle cx="229.7" cy="1.6" r="4.5" fill="url(#gSe)"/>
<circle cx="263.1" cy="-1.5" r="4.4" fill="url(#gSe)"/>
<circle cx="265.5" cy="0.1" r="4.6" fill="url(#gSe)"/>
<circle cx="267.6" cy="1.6" r="4.5" fill="url(#gSe)"/>
<circle cx="301" cy="-1.5" r="4.4" fill="url(#gSe)"/>
<circle cx="303.4" cy="0.1" r="4.6" fill="url(#gSe)"/>
<circle cx="305.5" cy="1.6" r="4.5" fill="url(#gSe)"/>
<circle cx="11.2" cy="33.4" r="4.4" fill="url(#gSe)"/>
<circle cx="13.6" cy="35" r="4.6" fill="url(#gSe)"/>
<circle cx="15.7" cy="36.5" r="4.5" fill="url(#gSe)"/>
<circle cx="49.1" cy="33.4" r="4.4" fill="url(#gSe)"/>
<circle cx="51.5" cy="35" r="4.6" fill="url(#gSe)"/>
<circle cx="53.6" cy="36.5" r="4.5" fill="url(#gSe)"/>
<circle cx="87" cy="33.4" r="4.4" fill="url(#gSe)"/>
<circle cx="89.4" cy="35" r="4.6" fill="url(#gSe)"/>
<circle cx="91.5" cy="36.5" r="4.5" fill="url(#gSe)"/>
<circle cx="124.9" cy="33.4" r="4.4" fill="url(#gSe)"/>
<circle cx="127.3" cy="35" r="4.6" fill="url(#gSe)"/>
<circle cx="129.4" cy="36.5" r="4.5" fill="url(#gSe)"/>
<circle cx="162.8" cy="33.4" r="4.4" fill="url(#gSe)"/>
<circle cx="165.2" cy="35" r="4.6" fill="url(#gSe)"/>
<circle cx="167.3" cy="36.5" r="4.5" fill="url(#gSe)"/>
<circle cx="200.7" cy="33.4" r="4.4" fill="url(#gSe)"/>
<circle cx="203.1" cy="35" r="4.6" fill="url(#gSe)"/>
<circle cx="205.2" cy="36.5" r="4.5" fill="url(#gSe)"/>
<circle cx="238.6" cy="33.4" r="4.4" fill="url(#gSe)"/>
<circle cx="241" cy="35" r="4.6" fill="url(#gSe)"/>
<circle cx="243.1" cy="36.5" r="4.5" fill="url(#gSe)"/>
<circle cx="276.5" cy="33.4" r="4.4" fill="url(#gSe)"/>
<circle cx="278.9" cy="35" r="4.6" fill="url(#gSe)"/>
<circle cx="281" cy="36.5" r="4.5" fill="url(#gSe)"/>
<circle cx="314.4" cy="33.4" r="4.4" fill="url(#gSe)"/>
<circle cx="316.8" cy="35" r="4.6" fill="url(#gSe)"/>
<circle cx="318.9" cy="36.5" r="4.5" fill="url(#gSe)"/>
<circle cx="23.6" cy="16.1" r="2.6" fill="url(#gSn)"/>
<circle cx="25.9" cy="18.1" r="2.9" fill="url(#gSn)"/>
<circle cx="28.4" cy="19.9" r="2.8" fill="url(#gSn)"/>
<circle cx="61.5" cy="16.1" r="2.6" fill="url(#gSn)"/>
<circle cx="63.8" cy="18.1" r="2.9" fill="url(#gSn)"/>
<circle cx="66.3" cy="19.9" r="2.8" fill="url(#gSn)"/>
<circle cx="99.4" cy="16.1" r="2.6" fill="url(#gSn)"/>
<circle cx="101.7" cy="18.1" r="2.9" fill="url(#gSn)"/>
<circle cx="104.2" cy="19.9" r="2.8" fill="url(#gSn)"/>
<circle cx="137.3" cy="16.1" r="2.6" fill="url(#gSn)"/>
<circle cx="139.6" cy="18.1" r="2.9" fill="url(#gSn)"/>
<circle cx="142.1" cy="19.9" r="2.8" fill="url(#gSn)"/>
<circle cx="175.2" cy="16.1" r="2.6" fill="url(#gSn)"/>
<circle cx="177.5" cy="18.1" r="2.9" fill="url(#gSn)"/>
<circle cx="180" cy="19.9" r="2.8" fill="url(#gSn)"/>
<circle cx="213.1" cy="16.1" r="2.6" fill="url(#gSn)"/>
<circle cx="215.4" cy="18.1" r="2.9" fill="url(#gSn)"/>
<circle cx="217.9" cy="19.9" r="2.8" fill="url(#gSn)"/>
<circle cx="251" cy="16.1" r="2.6" fill="url(#gSn)"/>
<circle cx="253.3" cy="18.1" r="2.9" fill="url(#gSn)"/>
<circle cx="255.8" cy="19.9" r="2.8" fill="url(#gSn)"/>
<circle cx="288.9" cy="16.1" r="2.6" fill="url(#gSn)"/>
<circle cx="291.2" cy="18.1" r="2.9" fill="url(#gSn)"/>
<circle cx="293.7" cy="19.9" r="2.8" fill="url(#gSn)"/>
</g>
<g id="b-l2" transform="translate(424.7,205.5) rotate(0.95)">
<line x1="25.6" y1="18.3" x2="13.8" y2="9.9" stroke="#9a5a22" stroke-width="2.0"/>
<line x1="13.8" y1="9.9" x2="2" y2="1.5" stroke="#1d6168" stroke-width="2.0"/>
<line x1="25.6" y1="18.3" x2="38" y2="26.1" stroke="#9a5a22" stroke-width="2.0"/>
<line x1="38" y1="26.1" x2="50.3" y2="33.9" stroke="#1d6168" stroke-width="2.0"/>
<line x1="63.5" y1="18.3" x2="51.7" y2="9.9" stroke="#9a5a22" stroke-width="2.0"/>
<line x1="51.7" y1="9.9" x2="39.9" y2="1.5" stroke="#1d6168" stroke-width="2.0"/>
<line x1="63.5" y1="18.3" x2="75.8" y2="26.1" stroke="#9a5a22" stroke-width="2.0"/>
<line x1="75.8" y1="26.1" x2="88.2" y2="33.9" stroke="#1d6168" stroke-width="2.0"/>
<line x1="101.4" y1="18.3" x2="89.6" y2="9.9" stroke="#9a5a22" stroke-width="2.0"/>
<line x1="89.6" y1="9.9" x2="77.8" y2="1.5" stroke="#1d6168" stroke-width="2.0"/>
<line x1="101.4" y1="18.3" x2="113.8" y2="26.1" stroke="#9a5a22" stroke-width="2.0"/>
<line x1="113.8" y1="26.1" x2="126.1" y2="33.9" stroke="#1d6168" stroke-width="2.0"/>
<line x1="139.3" y1="18.3" x2="127.5" y2="9.9" stroke="#9a5a22" stroke-width="2.0"/>
<line x1="127.5" y1="9.9" x2="115.7" y2="1.5" stroke="#1d6168" stroke-width="2.0"/>
<line x1="139.3" y1="18.3" x2="151.6" y2="26.1" stroke="#9a5a22" stroke-width="2.0"/>
<line x1="151.6" y1="26.1" x2="164" y2="33.9" stroke="#1d6168" stroke-width="2.0"/>
<line x1="177.2" y1="18.3" x2="165.4" y2="9.9" stroke="#9a5a22" stroke-width="2.0"/>
<line x1="165.4" y1="9.9" x2="153.6" y2="1.5" stroke="#1d6168" stroke-width="2.0"/>
<line x1="177.2" y1="18.3" x2="189.6" y2="26.1" stroke="#9a5a22" stroke-width="2.0"/>
<line x1="189.6" y1="26.1" x2="201.9" y2="33.9" stroke="#1d6168" stroke-width="2.0"/>
<line x1="215.1" y1="18.3" x2="203.3" y2="9.9" stroke="#9a5a22" stroke-width="2.0"/>
<line x1="203.3" y1="9.9" x2="191.5" y2="1.5" stroke="#1d6168" stroke-width="2.0"/>
<line x1="215.1" y1="18.3" x2="227.4" y2="26.1" stroke="#9a5a22" stroke-width="2.0"/>
<line x1="227.4" y1="26.1" x2="239.8" y2="33.9" stroke="#1d6168" stroke-width="2.0"/>
<line x1="253" y1="18.3" x2="241.2" y2="9.9" stroke="#9a5a22" stroke-width="2.0"/>
<line x1="241.2" y1="9.9" x2="229.4" y2="1.5" stroke="#1d6168" stroke-width="2.0"/>
<line x1="253" y1="18.3" x2="265.3" y2="26.1" stroke="#9a5a22" stroke-width="2.0"/>
<line x1="265.3" y1="26.1" x2="277.7" y2="33.9" stroke="#1d6168" stroke-width="2.0"/>
<line x1="290.9" y1="18.3" x2="279.1" y2="9.9" stroke="#9a5a22" stroke-width="2.0"/>
<line x1="279.1" y1="9.9" x2="267.3" y2="1.5" stroke="#1d6168" stroke-width="2.0"/>
<line x1="290.9" y1="18.3" x2="303.2" y2="26.1" stroke="#9a5a22" stroke-width="2.0"/>
<line x1="303.2" y1="26.1" x2="315.6" y2="33.9" stroke="#1d6168" stroke-width="2.0"/>
<line x1="25.6" y1="18.3" x2="32" y2="9" stroke="#6e3c10" stroke-width="6.8"/>
<line x1="32" y1="9" x2="37.4" y2="1" stroke="#0c4046" stroke-width="6.8"/>
<line x1="23.7" y1="17" x2="30.1" y2="7.7" stroke="#a85c18" stroke-width="0.85"/>
<line x1="30.1" y1="7.7" x2="35.5" y2="-0.3" stroke="#17646b" stroke-width="0.85"/>
<line x1="25" y1="17.9" x2="31.4" y2="8.5" stroke="#a85c18" stroke-width="0.85"/>
<line x1="31.4" y1="8.5" x2="36.8" y2="0.6" stroke="#17646b" stroke-width="0.85"/>
<line x1="26.2" y1="18.7" x2="32.6" y2="9.4" stroke="#a85c18" stroke-width="0.85"/>
<line x1="32.6" y1="9.4" x2="38" y2="1.4" stroke="#17646b" stroke-width="0.85"/>
<line x1="27.5" y1="19.6" x2="33.9" y2="10.3" stroke="#a85c18" stroke-width="0.85"/>
<line x1="33.9" y1="10.3" x2="39.3" y2="2.3" stroke="#17646b" stroke-width="0.85"/>
<line x1="25.6" y1="18.3" x2="19.3" y2="26.7" stroke="#6e3c10" stroke-width="6.8"/>
<line x1="19.3" y1="26.7" x2="13.9" y2="33.9" stroke="#0c4046" stroke-width="6.8"/>
<line x1="27.4" y1="19.7" x2="21.1" y2="28.1" stroke="#a85c18" stroke-width="0.85"/>
<line x1="21.1" y1="28.1" x2="15.7" y2="35.3" stroke="#17646b" stroke-width="0.85"/>
<line x1="26.2" y1="18.8" x2="19.9" y2="27.2" stroke="#a85c18" stroke-width="0.85"/>
<line x1="19.9" y1="27.2" x2="14.5" y2="34.4" stroke="#17646b" stroke-width="0.85"/>
<line x1="25" y1="17.9" x2="18.7" y2="26.3" stroke="#a85c18" stroke-width="0.85"/>
<line x1="18.7" y1="26.3" x2="13.3" y2="33.4" stroke="#17646b" stroke-width="0.85"/>
<line x1="23.8" y1="16.9" x2="17.4" y2="25.3" stroke="#a85c18" stroke-width="0.85"/>
<line x1="17.4" y1="25.3" x2="12.1" y2="32.5" stroke="#17646b" stroke-width="0.85"/>
<line x1="63.5" y1="18.3" x2="69.9" y2="9" stroke="#6e3c10" stroke-width="6.8"/>
<line x1="69.9" y1="9" x2="75.3" y2="1" stroke="#0c4046" stroke-width="6.8"/>
<line x1="61.6" y1="17" x2="68" y2="7.7" stroke="#a85c18" stroke-width="0.85"/>
<line x1="68" y1="7.7" x2="73.4" y2="-0.3" stroke="#17646b" stroke-width="0.85"/>
<line x1="62.9" y1="17.9" x2="69.3" y2="8.5" stroke="#a85c18" stroke-width="0.85"/>
<line x1="69.3" y1="8.5" x2="74.7" y2="0.6" stroke="#17646b" stroke-width="0.85"/>
<line x1="64.1" y1="18.7" x2="70.5" y2="9.4" stroke="#a85c18" stroke-width="0.85"/>
<line x1="70.5" y1="9.4" x2="75.9" y2="1.4" stroke="#17646b" stroke-width="0.85"/>
<line x1="65.4" y1="19.6" x2="71.8" y2="10.3" stroke="#a85c18" stroke-width="0.85"/>
<line x1="71.8" y1="10.3" x2="77.2" y2="2.3" stroke="#17646b" stroke-width="0.85"/>
<line x1="63.5" y1="18.3" x2="57.2" y2="26.7" stroke="#6e3c10" stroke-width="6.8"/>
<line x1="57.2" y1="26.7" x2="51.8" y2="33.9" stroke="#0c4046" stroke-width="6.8"/>
<line x1="65.3" y1="19.7" x2="59" y2="28.1" stroke="#a85c18" stroke-width="0.85"/>
<line x1="59" y1="28.1" x2="53.6" y2="35.3" stroke="#17646b" stroke-width="0.85"/>
<line x1="64.1" y1="18.8" x2="57.8" y2="27.2" stroke="#a85c18" stroke-width="0.85"/>
<line x1="57.8" y1="27.2" x2="52.4" y2="34.4" stroke="#17646b" stroke-width="0.85"/>
<line x1="62.9" y1="17.9" x2="56.6" y2="26.3" stroke="#a85c18" stroke-width="0.85"/>
<line x1="56.6" y1="26.3" x2="51.2" y2="33.4" stroke="#17646b" stroke-width="0.85"/>
<line x1="61.7" y1="16.9" x2="55.3" y2="25.3" stroke="#a85c18" stroke-width="0.85"/>
<line x1="55.3" y1="25.3" x2="50" y2="32.5" stroke="#17646b" stroke-width="0.85"/>
<line x1="101.4" y1="18.3" x2="107.8" y2="9" stroke="#6e3c10" stroke-width="6.8"/>
<line x1="107.8" y1="9" x2="113.2" y2="1" stroke="#0c4046" stroke-width="6.8"/>
<line x1="99.5" y1="17" x2="105.9" y2="7.7" stroke="#a85c18" stroke-width="0.85"/>
<line x1="105.9" y1="7.7" x2="111.3" y2="-0.3" stroke="#17646b" stroke-width="0.85"/>
<line x1="100.8" y1="17.9" x2="107.2" y2="8.5" stroke="#a85c18" stroke-width="0.85"/>
<line x1="107.2" y1="8.5" x2="112.6" y2="0.6" stroke="#17646b" stroke-width="0.85"/>
<line x1="102" y1="18.7" x2="108.4" y2="9.4" stroke="#a85c18" stroke-width="0.85"/>
<line x1="108.4" y1="9.4" x2="113.8" y2="1.4" stroke="#17646b" stroke-width="0.85"/>
<line x1="103.3" y1="19.6" x2="109.7" y2="10.3" stroke="#a85c18" stroke-width="0.85"/>
<line x1="109.7" y1="10.3" x2="115.1" y2="2.3" stroke="#17646b" stroke-width="0.85"/>
<line x1="101.4" y1="18.3" x2="95.1" y2="26.7" stroke="#6e3c10" stroke-width="6.8"/>
<line x1="95.1" y1="26.7" x2="89.7" y2="33.9" stroke="#0c4046" stroke-width="6.8"/>
<line x1="103.2" y1="19.7" x2="96.9" y2="28.1" stroke="#a85c18" stroke-width="0.85"/>
<line x1="96.9" y1="28.1" x2="91.5" y2="35.3" stroke="#17646b" stroke-width="0.85"/>
<line x1="102" y1="18.8" x2="95.7" y2="27.2" stroke="#a85c18" stroke-width="0.85"/>
<line x1="95.7" y1="27.2" x2="90.3" y2="34.4" stroke="#17646b" stroke-width="0.85"/>
<line x1="100.8" y1="17.9" x2="94.5" y2="26.3" stroke="#a85c18" stroke-width="0.85"/>
<line x1="94.5" y1="26.3" x2="89.1" y2="33.4" stroke="#17646b" stroke-width="0.85"/>
<line x1="99.6" y1="16.9" x2="93.2" y2="25.3" stroke="#a85c18" stroke-width="0.85"/>
<line x1="93.2" y1="25.3" x2="87.9" y2="32.5" stroke="#17646b" stroke-width="0.85"/>
<line x1="139.3" y1="18.3" x2="145.7" y2="9" stroke="#6e3c10" stroke-width="6.8"/>
<line x1="145.7" y1="9" x2="151.1" y2="1" stroke="#0c4046" stroke-width="6.8"/>
<line x1="137.4" y1="17" x2="143.8" y2="7.7" stroke="#a85c18" stroke-width="0.85"/>
<line x1="143.8" y1="7.7" x2="149.2" y2="-0.3" stroke="#17646b" stroke-width="0.85"/>
<line x1="138.7" y1="17.9" x2="145.1" y2="8.5" stroke="#a85c18" stroke-width="0.85"/>
<line x1="145.1" y1="8.5" x2="150.5" y2="0.6" stroke="#17646b" stroke-width="0.85"/>
<line x1="139.9" y1="18.7" x2="146.3" y2="9.4" stroke="#a85c18" stroke-width="0.85"/>
<line x1="146.3" y1="9.4" x2="151.7" y2="1.4" stroke="#17646b" stroke-width="0.85"/>
<line x1="141.2" y1="19.6" x2="147.6" y2="10.3" stroke="#a85c18" stroke-width="0.85"/>
<line x1="147.6" y1="10.3" x2="153" y2="2.3" stroke="#17646b" stroke-width="0.85"/>
<line x1="139.3" y1="18.3" x2="133" y2="26.7" stroke="#6e3c10" stroke-width="6.8"/>
<line x1="133" y1="26.7" x2="127.6" y2="33.9" stroke="#0c4046" stroke-width="6.8"/>
<line x1="141.1" y1="19.7" x2="134.8" y2="28.1" stroke="#a85c18" stroke-width="0.85"/>
<line x1="134.8" y1="28.1" x2="129.4" y2="35.3" stroke="#17646b" stroke-width="0.85"/>
<line x1="139.9" y1="18.8" x2="133.6" y2="27.2" stroke="#a85c18" stroke-width="0.85"/>
<line x1="133.6" y1="27.2" x2="128.2" y2="34.4" stroke="#17646b" stroke-width="0.85"/>
<line x1="138.7" y1="17.9" x2="132.4" y2="26.3" stroke="#a85c18" stroke-width="0.85"/>
<line x1="132.4" y1="26.3" x2="127" y2="33.4" stroke="#17646b" stroke-width="0.85"/>
<line x1="137.5" y1="16.9" x2="131.1" y2="25.3" stroke="#a85c18" stroke-width="0.85"/>
<line x1="131.1" y1="25.3" x2="125.8" y2="32.5" stroke="#17646b" stroke-width="0.85"/>
<line x1="177.2" y1="18.3" x2="183.6" y2="9" stroke="#6e3c10" stroke-width="6.8"/>
<line x1="183.6" y1="9" x2="189" y2="1" stroke="#0c4046" stroke-width="6.8"/>
<line x1="175.3" y1="17" x2="181.7" y2="7.7" stroke="#a85c18" stroke-width="0.85"/>
<line x1="181.7" y1="7.7" x2="187.1" y2="-0.3" stroke="#17646b" stroke-width="0.85"/>
<line x1="176.6" y1="17.9" x2="183" y2="8.5" stroke="#a85c18" stroke-width="0.85"/>
<line x1="183" y1="8.5" x2="188.4" y2="0.6" stroke="#17646b" stroke-width="0.85"/>
<line x1="177.8" y1="18.7" x2="184.2" y2="9.4" stroke="#a85c18" stroke-width="0.85"/>
<line x1="184.2" y1="9.4" x2="189.6" y2="1.4" stroke="#17646b" stroke-width="0.85"/>
<line x1="179.1" y1="19.6" x2="185.5" y2="10.3" stroke="#a85c18" stroke-width="0.85"/>
<line x1="185.5" y1="10.3" x2="190.9" y2="2.3" stroke="#17646b" stroke-width="0.85"/>
<line x1="177.2" y1="18.3" x2="170.9" y2="26.7" stroke="#6e3c10" stroke-width="6.8"/>
<line x1="170.9" y1="26.7" x2="165.5" y2="33.9" stroke="#0c4046" stroke-width="6.8"/>
<line x1="179" y1="19.7" x2="172.7" y2="28.1" stroke="#a85c18" stroke-width="0.85"/>
<line x1="172.7" y1="28.1" x2="167.3" y2="35.3" stroke="#17646b" stroke-width="0.85"/>
<line x1="177.8" y1="18.8" x2="171.5" y2="27.2" stroke="#a85c18" stroke-width="0.85"/>
<line x1="171.5" y1="27.2" x2="166.1" y2="34.4" stroke="#17646b" stroke-width="0.85"/>
<line x1="176.6" y1="17.9" x2="170.3" y2="26.3" stroke="#a85c18" stroke-width="0.85"/>
<line x1="170.3" y1="26.3" x2="164.9" y2="33.4" stroke="#17646b" stroke-width="0.85"/>
<line x1="175.4" y1="16.9" x2="169" y2="25.3" stroke="#a85c18" stroke-width="0.85"/>
<line x1="169" y1="25.3" x2="163.7" y2="32.5" stroke="#17646b" stroke-width="0.85"/>
<line x1="215.1" y1="18.3" x2="221.5" y2="9" stroke="#6e3c10" stroke-width="6.8"/>
<line x1="221.5" y1="9" x2="226.9" y2="1" stroke="#0c4046" stroke-width="6.8"/>
<line x1="213.2" y1="17" x2="219.6" y2="7.7" stroke="#a85c18" stroke-width="0.85"/>
<line x1="219.6" y1="7.7" x2="225" y2="-0.3" stroke="#17646b" stroke-width="0.85"/>
<line x1="214.5" y1="17.9" x2="220.9" y2="8.5" stroke="#a85c18" stroke-width="0.85"/>
<line x1="220.9" y1="8.5" x2="226.3" y2="0.6" stroke="#17646b" stroke-width="0.85"/>
<line x1="215.7" y1="18.7" x2="222.1" y2="9.4" stroke="#a85c18" stroke-width="0.85"/>
<line x1="222.1" y1="9.4" x2="227.5" y2="1.4" stroke="#17646b" stroke-width="0.85"/>
<line x1="217" y1="19.6" x2="223.4" y2="10.3" stroke="#a85c18" stroke-width="0.85"/>
<line x1="223.4" y1="10.3" x2="228.8" y2="2.3" stroke="#17646b" stroke-width="0.85"/>
<line x1="215.1" y1="18.3" x2="208.8" y2="26.7" stroke="#6e3c10" stroke-width="6.8"/>
<line x1="208.8" y1="26.7" x2="203.4" y2="33.9" stroke="#0c4046" stroke-width="6.8"/>
<line x1="216.9" y1="19.7" x2="210.6" y2="28.1" stroke="#a85c18" stroke-width="0.85"/>
<line x1="210.6" y1="28.1" x2="205.2" y2="35.3" stroke="#17646b" stroke-width="0.85"/>
<line x1="215.7" y1="18.8" x2="209.4" y2="27.2" stroke="#a85c18" stroke-width="0.85"/>
<line x1="209.4" y1="27.2" x2="204" y2="34.4" stroke="#17646b" stroke-width="0.85"/>
<line x1="214.5" y1="17.9" x2="208.2" y2="26.3" stroke="#a85c18" stroke-width="0.85"/>
<line x1="208.2" y1="26.3" x2="202.8" y2="33.4" stroke="#17646b" stroke-width="0.85"/>
<line x1="213.3" y1="16.9" x2="206.9" y2="25.3" stroke="#a85c18" stroke-width="0.85"/>
<line x1="206.9" y1="25.3" x2="201.6" y2="32.5" stroke="#17646b" stroke-width="0.85"/>
<line x1="253" y1="18.3" x2="259.4" y2="9" stroke="#6e3c10" stroke-width="6.8"/>
<line x1="259.4" y1="9" x2="264.8" y2="1" stroke="#0c4046" stroke-width="6.8"/>
<line x1="251.1" y1="17" x2="257.5" y2="7.7" stroke="#a85c18" stroke-width="0.85"/>
<line x1="257.5" y1="7.7" x2="262.9" y2="-0.3" stroke="#17646b" stroke-width="0.85"/>
<line x1="252.4" y1="17.9" x2="258.8" y2="8.5" stroke="#a85c18" stroke-width="0.85"/>
<line x1="258.8" y1="8.5" x2="264.2" y2="0.6" stroke="#17646b" stroke-width="0.85"/>
<line x1="253.6" y1="18.7" x2="260" y2="9.4" stroke="#a85c18" stroke-width="0.85"/>
<line x1="260" y1="9.4" x2="265.4" y2="1.4" stroke="#17646b" stroke-width="0.85"/>
<line x1="254.9" y1="19.6" x2="261.3" y2="10.3" stroke="#a85c18" stroke-width="0.85"/>
<line x1="261.3" y1="10.3" x2="266.7" y2="2.3" stroke="#17646b" stroke-width="0.85"/>
<line x1="253" y1="18.3" x2="246.7" y2="26.7" stroke="#6e3c10" stroke-width="6.8"/>
<line x1="246.7" y1="26.7" x2="241.3" y2="33.9" stroke="#0c4046" stroke-width="6.8"/>
<line x1="254.8" y1="19.7" x2="248.5" y2="28.1" stroke="#a85c18" stroke-width="0.85"/>
<line x1="248.5" y1="28.1" x2="243.1" y2="35.3" stroke="#17646b" stroke-width="0.85"/>
<line x1="253.6" y1="18.8" x2="247.3" y2="27.2" stroke="#a85c18" stroke-width="0.85"/>
<line x1="247.3" y1="27.2" x2="241.9" y2="34.4" stroke="#17646b" stroke-width="0.85"/>
<line x1="252.4" y1="17.9" x2="246.1" y2="26.3" stroke="#a85c18" stroke-width="0.85"/>
<line x1="246.1" y1="26.3" x2="240.7" y2="33.4" stroke="#17646b" stroke-width="0.85"/>
<line x1="251.2" y1="16.9" x2="244.8" y2="25.3" stroke="#a85c18" stroke-width="0.85"/>
<line x1="244.8" y1="25.3" x2="239.5" y2="32.5" stroke="#17646b" stroke-width="0.85"/>
<line x1="290.9" y1="18.3" x2="297.3" y2="9" stroke="#6e3c10" stroke-width="6.8"/>
<line x1="297.3" y1="9" x2="302.7" y2="1" stroke="#0c4046" stroke-width="6.8"/>
<line x1="289" y1="17" x2="295.4" y2="7.7" stroke="#a85c18" stroke-width="0.85"/>
<line x1="295.4" y1="7.7" x2="300.8" y2="-0.3" stroke="#17646b" stroke-width="0.85"/>
<line x1="290.3" y1="17.9" x2="296.7" y2="8.5" stroke="#a85c18" stroke-width="0.85"/>
<line x1="296.7" y1="8.5" x2="302.1" y2="0.6" stroke="#17646b" stroke-width="0.85"/>
<line x1="291.5" y1="18.7" x2="297.9" y2="9.4" stroke="#a85c18" stroke-width="0.85"/>
<line x1="297.9" y1="9.4" x2="303.3" y2="1.4" stroke="#17646b" stroke-width="0.85"/>
<line x1="292.8" y1="19.6" x2="299.2" y2="10.3" stroke="#a85c18" stroke-width="0.85"/>
<line x1="299.2" y1="10.3" x2="304.6" y2="2.3" stroke="#17646b" stroke-width="0.85"/>
<line x1="290.9" y1="18.3" x2="284.6" y2="26.7" stroke="#6e3c10" stroke-width="6.8"/>
<line x1="284.6" y1="26.7" x2="279.2" y2="33.9" stroke="#0c4046" stroke-width="6.8"/>
<line x1="292.7" y1="19.7" x2="286.4" y2="28.1" stroke="#a85c18" stroke-width="0.85"/>
<line x1="286.4" y1="28.1" x2="281" y2="35.3" stroke="#17646b" stroke-width="0.85"/>
<line x1="291.5" y1="18.8" x2="285.2" y2="27.2" stroke="#a85c18" stroke-width="0.85"/>
<line x1="285.2" y1="27.2" x2="279.8" y2="34.4" stroke="#17646b" stroke-width="0.85"/>
<line x1="290.3" y1="17.8" x2="284" y2="26.3" stroke="#a85c18" stroke-width="0.85"/>
<line x1="284" y1="26.3" x2="278.6" y2="33.4" stroke="#17646b" stroke-width="0.85"/>
<line x1="289.1" y1="16.9" x2="282.7" y2="25.3" stroke="#a85c18" stroke-width="0.85"/>
<line x1="282.7" y1="25.3" x2="277.4" y2="32.5" stroke="#17646b" stroke-width="0.85"/>
<circle cx="-2.2" cy="-1.5" r="4.4" fill="url(#gSe)"/>
<circle cx="0.2" cy="0.1" r="4.6" fill="url(#gSe)"/>
<circle cx="2.3" cy="1.6" r="4.5" fill="url(#gSe)"/>
<circle cx="35.7" cy="-1.5" r="4.4" fill="url(#gSe)"/>
<circle cx="38.1" cy="0.1" r="4.6" fill="url(#gSe)"/>
<circle cx="40.2" cy="1.6" r="4.5" fill="url(#gSe)"/>
<circle cx="73.6" cy="-1.5" r="4.4" fill="url(#gSe)"/>
<circle cx="76" cy="0.1" r="4.6" fill="url(#gSe)"/>
<circle cx="78.1" cy="1.6" r="4.5" fill="url(#gSe)"/>
<circle cx="111.5" cy="-1.5" r="4.4" fill="url(#gSe)"/>
<circle cx="113.9" cy="0.1" r="4.6" fill="url(#gSe)"/>
<circle cx="116" cy="1.6" r="4.5" fill="url(#gSe)"/>
<circle cx="149.4" cy="-1.5" r="4.4" fill="url(#gSe)"/>
<circle cx="151.8" cy="0.1" r="4.6" fill="url(#gSe)"/>
<circle cx="153.9" cy="1.6" r="4.5" fill="url(#gSe)"/>
<circle cx="187.3" cy="-1.5" r="4.4" fill="url(#gSe)"/>
<circle cx="189.7" cy="0.1" r="4.6" fill="url(#gSe)"/>
<circle cx="191.8" cy="1.6" r="4.5" fill="url(#gSe)"/>
<circle cx="225.2" cy="-1.5" r="4.4" fill="url(#gSe)"/>
<circle cx="227.6" cy="0.1" r="4.6" fill="url(#gSe)"/>
<circle cx="229.7" cy="1.6" r="4.5" fill="url(#gSe)"/>
<circle cx="263.1" cy="-1.5" r="4.4" fill="url(#gSe)"/>
<circle cx="265.5" cy="0.1" r="4.6" fill="url(#gSe)"/>
<circle cx="267.6" cy="1.6" r="4.5" fill="url(#gSe)"/>
<circle cx="301" cy="-1.5" r="4.4" fill="url(#gSe)"/>
<circle cx="303.4" cy="0.1" r="4.6" fill="url(#gSe)"/>
<circle cx="305.5" cy="1.6" r="4.5" fill="url(#gSe)"/>
<circle cx="11.2" cy="33.4" r="4.4" fill="url(#gSe)"/>
<circle cx="13.6" cy="35" r="4.6" fill="url(#gSe)"/>
<circle cx="15.7" cy="36.5" r="4.5" fill="url(#gSe)"/>
<circle cx="49.1" cy="33.4" r="4.4" fill="url(#gSe)"/>
<circle cx="51.5" cy="35" r="4.6" fill="url(#gSe)"/>
<circle cx="53.6" cy="36.5" r="4.5" fill="url(#gSe)"/>
<circle cx="87" cy="33.4" r="4.4" fill="url(#gSe)"/>
<circle cx="89.4" cy="35" r="4.6" fill="url(#gSe)"/>
<circle cx="91.5" cy="36.5" r="4.5" fill="url(#gSe)"/>
<circle cx="124.9" cy="33.4" r="4.4" fill="url(#gSe)"/>
<circle cx="127.3" cy="35" r="4.6" fill="url(#gSe)"/>
<circle cx="129.4" cy="36.5" r="4.5" fill="url(#gSe)"/>
<circle cx="162.8" cy="33.4" r="4.4" fill="url(#gSe)"/>
<circle cx="165.2" cy="35" r="4.6" fill="url(#gSe)"/>
<circle cx="167.3" cy="36.5" r="4.5" fill="url(#gSe)"/>
<circle cx="200.7" cy="33.4" r="4.4" fill="url(#gSe)"/>
<circle cx="203.1" cy="35" r="4.6" fill="url(#gSe)"/>
<circle cx="205.2" cy="36.5" r="4.5" fill="url(#gSe)"/>
<circle cx="238.6" cy="33.4" r="4.4" fill="url(#gSe)"/>
<circle cx="241" cy="35" r="4.6" fill="url(#gSe)"/>
<circle cx="243.1" cy="36.5" r="4.5" fill="url(#gSe)"/>
<circle cx="276.5" cy="33.4" r="4.4" fill="url(#gSe)"/>
<circle cx="278.9" cy="35" r="4.6" fill="url(#gSe)"/>
<circle cx="281" cy="36.5" r="4.5" fill="url(#gSe)"/>
<circle cx="314.4" cy="33.4" r="4.4" fill="url(#gSe)"/>
<circle cx="316.8" cy="35" r="4.6" fill="url(#gSe)"/>
<circle cx="318.9" cy="36.5" r="4.5" fill="url(#gSe)"/>
<circle cx="23.6" cy="16.1" r="2.6" fill="url(#gSn)"/>
<circle cx="25.9" cy="18.1" r="2.9" fill="url(#gSn)"/>
<circle cx="28.4" cy="19.9" r="2.8" fill="url(#gSn)"/>
<circle cx="61.5" cy="16.1" r="2.6" fill="url(#gSn)"/>
<circle cx="63.8" cy="18.1" r="2.9" fill="url(#gSn)"/>
<circle cx="66.3" cy="19.9" r="2.8" fill="url(#gSn)"/>
<circle cx="99.4" cy="16.1" r="2.6" fill="url(#gSn)"/>
<circle cx="101.7" cy="18.1" r="2.9" fill="url(#gSn)"/>
<circle cx="104.2" cy="19.9" r="2.8" fill="url(#gSn)"/>
<circle cx="137.3" cy="16.1" r="2.6" fill="url(#gSn)"/>
<circle cx="139.6" cy="18.1" r="2.9" fill="url(#gSn)"/>
<circle cx="142.1" cy="19.9" r="2.8" fill="url(#gSn)"/>
<circle cx="175.2" cy="16.1" r="2.6" fill="url(#gSn)"/>
<circle cx="177.5" cy="18.1" r="2.9" fill="url(#gSn)"/>
<circle cx="180" cy="19.9" r="2.8" fill="url(#gSn)"/>
<circle cx="213.1" cy="16.1" r="2.6" fill="url(#gSn)"/>
<circle cx="215.4" cy="18.1" r="2.9" fill="url(#gSn)"/>
<circle cx="217.9" cy="19.9" r="2.8" fill="url(#gSn)"/>
<circle cx="251" cy="16.1" r="2.6" fill="url(#gSn)"/>
<circle cx="253.3" cy="18.1" r="2.9" fill="url(#gSn)"/>
<circle cx="255.8" cy="19.9" r="2.8" fill="url(#gSn)"/>
<circle cx="288.9" cy="16.1" r="2.6" fill="url(#gSn)"/>
<circle cx="291.2" cy="18.1" r="2.9" fill="url(#gSn)"/>
<circle cx="293.7" cy="19.9" r="2.8" fill="url(#gSn)"/>
</g>
<g id="b-l3" transform="translate(424.2,354) rotate(0.95)">
<line x1="25.6" y1="18.3" x2="13.8" y2="9.9" stroke="#9a5a22" stroke-width="2.0"/>
<line x1="13.8" y1="9.9" x2="2" y2="1.5" stroke="#1d6168" stroke-width="2.0"/>
<line x1="25.6" y1="18.3" x2="38" y2="26.1" stroke="#9a5a22" stroke-width="2.0"/>
<line x1="38" y1="26.1" x2="50.3" y2="33.9" stroke="#1d6168" stroke-width="2.0"/>
<line x1="63.5" y1="18.3" x2="51.7" y2="9.9" stroke="#9a5a22" stroke-width="2.0"/>
<line x1="51.7" y1="9.9" x2="39.9" y2="1.5" stroke="#1d6168" stroke-width="2.0"/>
<line x1="63.5" y1="18.3" x2="75.8" y2="26.1" stroke="#9a5a22" stroke-width="2.0"/>
<line x1="75.8" y1="26.1" x2="88.2" y2="33.9" stroke="#1d6168" stroke-width="2.0"/>
<line x1="101.4" y1="18.3" x2="89.6" y2="9.9" stroke="#9a5a22" stroke-width="2.0"/>
<line x1="89.6" y1="9.9" x2="77.8" y2="1.5" stroke="#1d6168" stroke-width="2.0"/>
<line x1="101.4" y1="18.3" x2="113.8" y2="26.1" stroke="#9a5a22" stroke-width="2.0"/>
<line x1="113.8" y1="26.1" x2="126.1" y2="33.9" stroke="#1d6168" stroke-width="2.0"/>
<line x1="139.3" y1="18.3" x2="127.5" y2="9.9" stroke="#9a5a22" stroke-width="2.0"/>
<line x1="127.5" y1="9.9" x2="115.7" y2="1.5" stroke="#1d6168" stroke-width="2.0"/>
<line x1="139.3" y1="18.3" x2="151.6" y2="26.1" stroke="#9a5a22" stroke-width="2.0"/>
<line x1="151.6" y1="26.1" x2="164" y2="33.9" stroke="#1d6168" stroke-width="2.0"/>
<line x1="177.2" y1="18.3" x2="165.4" y2="9.9" stroke="#9a5a22" stroke-width="2.0"/>
<line x1="165.4" y1="9.9" x2="153.6" y2="1.5" stroke="#1d6168" stroke-width="2.0"/>
<line x1="177.2" y1="18.3" x2="189.6" y2="26.1" stroke="#9a5a22" stroke-width="2.0"/>
<line x1="189.6" y1="26.1" x2="201.9" y2="33.9" stroke="#1d6168" stroke-width="2.0"/>
<line x1="215.1" y1="18.3" x2="203.3" y2="9.9" stroke="#9a5a22" stroke-width="2.0"/>
<line x1="203.3" y1="9.9" x2="191.5" y2="1.5" stroke="#1d6168" stroke-width="2.0"/>
<line x1="215.1" y1="18.3" x2="227.4" y2="26.1" stroke="#9a5a22" stroke-width="2.0"/>
<line x1="227.4" y1="26.1" x2="239.8" y2="33.9" stroke="#1d6168" stroke-width="2.0"/>
<line x1="253" y1="18.3" x2="241.2" y2="9.9" stroke="#9a5a22" stroke-width="2.0"/>
<line x1="241.2" y1="9.9" x2="229.4" y2="1.5" stroke="#1d6168" stroke-width="2.0"/>
<line x1="253" y1="18.3" x2="265.3" y2="26.1" stroke="#9a5a22" stroke-width="2.0"/>
<line x1="265.3" y1="26.1" x2="277.7" y2="33.9" stroke="#1d6168" stroke-width="2.0"/>
<line x1="290.9" y1="18.3" x2="279.1" y2="9.9" stroke="#9a5a22" stroke-width="2.0"/>
<line x1="279.1" y1="9.9" x2="267.3" y2="1.5" stroke="#1d6168" stroke-width="2.0"/>
<line x1="290.9" y1="18.3" x2="303.2" y2="26.1" stroke="#9a5a22" stroke-width="2.0"/>
<line x1="303.2" y1="26.1" x2="315.6" y2="33.9" stroke="#1d6168" stroke-width="2.0"/>
<line x1="25.6" y1="18.3" x2="32" y2="9" stroke="#6e3c10" stroke-width="6.8"/>
<line x1="32" y1="9" x2="37.4" y2="1" stroke="#0c4046" stroke-width="6.8"/>
<line x1="23.7" y1="17" x2="30.1" y2="7.7" stroke="#a85c18" stroke-width="0.85"/>
<line x1="30.1" y1="7.7" x2="35.5" y2="-0.3" stroke="#17646b" stroke-width="0.85"/>
<line x1="25" y1="17.9" x2="31.4" y2="8.5" stroke="#a85c18" stroke-width="0.85"/>
<line x1="31.4" y1="8.5" x2="36.8" y2="0.6" stroke="#17646b" stroke-width="0.85"/>
<line x1="26.2" y1="18.7" x2="32.6" y2="9.4" stroke="#a85c18" stroke-width="0.85"/>
<line x1="32.6" y1="9.4" x2="38" y2="1.4" stroke="#17646b" stroke-width="0.85"/>
<line x1="27.5" y1="19.6" x2="33.9" y2="10.3" stroke="#a85c18" stroke-width="0.85"/>
<line x1="33.9" y1="10.3" x2="39.3" y2="2.3" stroke="#17646b" stroke-width="0.85"/>
<line x1="25.6" y1="18.3" x2="19.3" y2="26.7" stroke="#6e3c10" stroke-width="6.8"/>
<line x1="19.3" y1="26.7" x2="13.9" y2="33.9" stroke="#0c4046" stroke-width="6.8"/>
<line x1="27.4" y1="19.7" x2="21.1" y2="28.1" stroke="#a85c18" stroke-width="0.85"/>
<line x1="21.1" y1="28.1" x2="15.7" y2="35.3" stroke="#17646b" stroke-width="0.85"/>
<line x1="26.2" y1="18.8" x2="19.9" y2="27.2" stroke="#a85c18" stroke-width="0.85"/>
<line x1="19.9" y1="27.2" x2="14.5" y2="34.4" stroke="#17646b" stroke-width="0.85"/>
<line x1="25" y1="17.9" x2="18.7" y2="26.3" stroke="#a85c18" stroke-width="0.85"/>
<line x1="18.7" y1="26.3" x2="13.3" y2="33.4" stroke="#17646b" stroke-width="0.85"/>
<line x1="23.8" y1="16.9" x2="17.4" y2="25.3" stroke="#a85c18" stroke-width="0.85"/>
<line x1="17.4" y1="25.3" x2="12.1" y2="32.5" stroke="#17646b" stroke-width="0.85"/>
<line x1="63.5" y1="18.3" x2="69.9" y2="9" stroke="#6e3c10" stroke-width="6.8"/>
<line x1="69.9" y1="9" x2="75.3" y2="1" stroke="#0c4046" stroke-width="6.8"/>
<line x1="61.6" y1="17" x2="68" y2="7.7" stroke="#a85c18" stroke-width="0.85"/>
<line x1="68" y1="7.7" x2="73.4" y2="-0.3" stroke="#17646b" stroke-width="0.85"/>
<line x1="62.9" y1="17.9" x2="69.3" y2="8.5" stroke="#a85c18" stroke-width="0.85"/>
<line x1="69.3" y1="8.5" x2="74.7" y2="0.6" stroke="#17646b" stroke-width="0.85"/>
<line x1="64.1" y1="18.7" x2="70.5" y2="9.4" stroke="#a85c18" stroke-width="0.85"/>
<line x1="70.5" y1="9.4" x2="75.9" y2="1.4" stroke="#17646b" stroke-width="0.85"/>
<line x1="65.4" y1="19.6" x2="71.8" y2="10.3" stroke="#a85c18" stroke-width="0.85"/>
<line x1="71.8" y1="10.3" x2="77.2" y2="2.3" stroke="#17646b" stroke-width="0.85"/>
<line x1="63.5" y1="18.3" x2="57.2" y2="26.7" stroke="#6e3c10" stroke-width="6.8"/>
<line x1="57.2" y1="26.7" x2="51.8" y2="33.9" stroke="#0c4046" stroke-width="6.8"/>
<line x1="65.3" y1="19.7" x2="59" y2="28.1" stroke="#a85c18" stroke-width="0.85"/>
<line x1="59" y1="28.1" x2="53.6" y2="35.3" stroke="#17646b" stroke-width="0.85"/>
<line x1="64.1" y1="18.8" x2="57.8" y2="27.2" stroke="#a85c18" stroke-width="0.85"/>
<line x1="57.8" y1="27.2" x2="52.4" y2="34.4" stroke="#17646b" stroke-width="0.85"/>
<line x1="62.9" y1="17.9" x2="56.6" y2="26.3" stroke="#a85c18" stroke-width="0.85"/>
<line x1="56.6" y1="26.3" x2="51.2" y2="33.4" stroke="#17646b" stroke-width="0.85"/>
<line x1="61.7" y1="16.9" x2="55.3" y2="25.3" stroke="#a85c18" stroke-width="0.85"/>
<line x1="55.3" y1="25.3" x2="50" y2="32.5" stroke="#17646b" stroke-width="0.85"/>
<line x1="101.4" y1="18.3" x2="107.8" y2="9" stroke="#6e3c10" stroke-width="6.8"/>
<line x1="107.8" y1="9" x2="113.2" y2="1" stroke="#0c4046" stroke-width="6.8"/>
<line x1="99.5" y1="17" x2="105.9" y2="7.7" stroke="#a85c18" stroke-width="0.85"/>
<line x1="105.9" y1="7.7" x2="111.3" y2="-0.3" stroke="#17646b" stroke-width="0.85"/>
<line x1="100.8" y1="17.9" x2="107.2" y2="8.5" stroke="#a85c18" stroke-width="0.85"/>
<line x1="107.2" y1="8.5" x2="112.6" y2="0.6" stroke="#17646b" stroke-width="0.85"/>
<line x1="102" y1="18.7" x2="108.4" y2="9.4" stroke="#a85c18" stroke-width="0.85"/>
<line x1="108.4" y1="9.4" x2="113.8" y2="1.4" stroke="#17646b" stroke-width="0.85"/>
<line x1="103.3" y1="19.6" x2="109.7" y2="10.3" stroke="#a85c18" stroke-width="0.85"/>
<line x1="109.7" y1="10.3" x2="115.1" y2="2.3" stroke="#17646b" stroke-width="0.85"/>
<line x1="101.4" y1="18.3" x2="95.1" y2="26.7" stroke="#6e3c10" stroke-width="6.8"/>
<line x1="95.1" y1="26.7" x2="89.7" y2="33.9" stroke="#0c4046" stroke-width="6.8"/>
<line x1="103.2" y1="19.7" x2="96.9" y2="28.1" stroke="#a85c18" stroke-width="0.85"/>
<line x1="96.9" y1="28.1" x2="91.5" y2="35.3" stroke="#17646b" stroke-width="0.85"/>
<line x1="102" y1="18.8" x2="95.7" y2="27.2" stroke="#a85c18" stroke-width="0.85"/>
<line x1="95.7" y1="27.2" x2="90.3" y2="34.4" stroke="#17646b" stroke-width="0.85"/>
<line x1="100.8" y1="17.9" x2="94.5" y2="26.3" stroke="#a85c18" stroke-width="0.85"/>
<line x1="94.5" y1="26.3" x2="89.1" y2="33.4" stroke="#17646b" stroke-width="0.85"/>
<line x1="99.6" y1="16.9" x2="93.2" y2="25.3" stroke="#a85c18" stroke-width="0.85"/>
<line x1="93.2" y1="25.3" x2="87.9" y2="32.5" stroke="#17646b" stroke-width="0.85"/>
<line x1="139.3" y1="18.3" x2="145.7" y2="9" stroke="#6e3c10" stroke-width="6.8"/>
<line x1="145.7" y1="9" x2="151.1" y2="1" stroke="#0c4046" stroke-width="6.8"/>
<line x1="137.4" y1="17" x2="143.8" y2="7.7" stroke="#a85c18" stroke-width="0.85"/>
<line x1="143.8" y1="7.7" x2="149.2" y2="-0.3" stroke="#17646b" stroke-width="0.85"/>
<line x1="138.7" y1="17.9" x2="145.1" y2="8.5" stroke="#a85c18" stroke-width="0.85"/>
<line x1="145.1" y1="8.5" x2="150.5" y2="0.6" stroke="#17646b" stroke-width="0.85"/>
<line x1="139.9" y1="18.7" x2="146.3" y2="9.4" stroke="#a85c18" stroke-width="0.85"/>
<line x1="146.3" y1="9.4" x2="151.7" y2="1.4" stroke="#17646b" stroke-width="0.85"/>
<line x1="141.2" y1="19.6" x2="147.6" y2="10.3" stroke="#a85c18" stroke-width="0.85"/>
<line x1="147.6" y1="10.3" x2="153" y2="2.3" stroke="#17646b" stroke-width="0.85"/>
<line x1="139.3" y1="18.3" x2="133" y2="26.7" stroke="#6e3c10" stroke-width="6.8"/>
<line x1="133" y1="26.7" x2="127.6" y2="33.9" stroke="#0c4046" stroke-width="6.8"/>
<line x1="141.1" y1="19.7" x2="134.8" y2="28.1" stroke="#a85c18" stroke-width="0.85"/>
<line x1="134.8" y1="28.1" x2="129.4" y2="35.3" stroke="#17646b" stroke-width="0.85"/>
<line x1="139.9" y1="18.8" x2="133.6" y2="27.2" stroke="#a85c18" stroke-width="0.85"/>
<line x1="133.6" y1="27.2" x2="128.2" y2="34.4" stroke="#17646b" stroke-width="0.85"/>
<line x1="138.7" y1="17.9" x2="132.4" y2="26.3" stroke="#a85c18" stroke-width="0.85"/>
<line x1="132.4" y1="26.3" x2="127" y2="33.4" stroke="#17646b" stroke-width="0.85"/>
<line x1="137.5" y1="16.9" x2="131.1" y2="25.3" stroke="#a85c18" stroke-width="0.85"/>
<line x1="131.1" y1="25.3" x2="125.8" y2="32.5" stroke="#17646b" stroke-width="0.85"/>
<line x1="177.2" y1="18.3" x2="183.6" y2="9" stroke="#6e3c10" stroke-width="6.8"/>
<line x1="183.6" y1="9" x2="189" y2="1" stroke="#0c4046" stroke-width="6.8"/>
<line x1="175.3" y1="17" x2="181.7" y2="7.7" stroke="#a85c18" stroke-width="0.85"/>
<line x1="181.7" y1="7.7" x2="187.1" y2="-0.3" stroke="#17646b" stroke-width="0.85"/>
<line x1="176.6" y1="17.9" x2="183" y2="8.5" stroke="#a85c18" stroke-width="0.85"/>
<line x1="183" y1="8.5" x2="188.4" y2="0.6" stroke="#17646b" stroke-width="0.85"/>
<line x1="177.8" y1="18.7" x2="184.2" y2="9.4" stroke="#a85c18" stroke-width="0.85"/>
<line x1="184.2" y1="9.4" x2="189.6" y2="1.4" stroke="#17646b" stroke-width="0.85"/>
<line x1="179.1" y1="19.6" x2="185.5" y2="10.3" stroke="#a85c18" stroke-width="0.85"/>
<line x1="185.5" y1="10.3" x2="190.9" y2="2.3" stroke="#17646b" stroke-width="0.85"/>
<line x1="177.2" y1="18.3" x2="170.9" y2="26.7" stroke="#6e3c10" stroke-width="6.8"/>
<line x1="170.9" y1="26.7" x2="165.5" y2="33.9" stroke="#0c4046" stroke-width="6.8"/>
<line x1="179" y1="19.7" x2="172.7" y2="28.1" stroke="#a85c18" stroke-width="0.85"/>
<line x1="172.7" y1="28.1" x2="167.3" y2="35.3" stroke="#17646b" stroke-width="0.85"/>
<line x1="177.8" y1="18.8" x2="171.5" y2="27.2" stroke="#a85c18" stroke-width="0.85"/>
<line x1="171.5" y1="27.2" x2="166.1" y2="34.4" stroke="#17646b" stroke-width="0.85"/>
<line x1="176.6" y1="17.9" x2="170.3" y2="26.3" stroke="#a85c18" stroke-width="0.85"/>
<line x1="170.3" y1="26.3" x2="164.9" y2="33.4" stroke="#17646b" stroke-width="0.85"/>
<line x1="175.4" y1="16.9" x2="169" y2="25.3" stroke="#a85c18" stroke-width="0.85"/>
<line x1="169" y1="25.3" x2="163.7" y2="32.5" stroke="#17646b" stroke-width="0.85"/>
<line x1="215.1" y1="18.3" x2="221.5" y2="9" stroke="#6e3c10" stroke-width="6.8"/>
<line x1="221.5" y1="9" x2="226.9" y2="1" stroke="#0c4046" stroke-width="6.8"/>
<line x1="213.2" y1="17" x2="219.6" y2="7.7" stroke="#a85c18" stroke-width="0.85"/>
<line x1="219.6" y1="7.7" x2="225" y2="-0.3" stroke="#17646b" stroke-width="0.85"/>
<line x1="214.5" y1="17.9" x2="220.9" y2="8.5" stroke="#a85c18" stroke-width="0.85"/>
<line x1="220.9" y1="8.5" x2="226.3" y2="0.6" stroke="#17646b" stroke-width="0.85"/>
<line x1="215.7" y1="18.7" x2="222.1" y2="9.4" stroke="#a85c18" stroke-width="0.85"/>
<line x1="222.1" y1="9.4" x2="227.5" y2="1.4" stroke="#17646b" stroke-width="0.85"/>
<line x1="217" y1="19.6" x2="223.4" y2="10.3" stroke="#a85c18" stroke-width="0.85"/>
<line x1="223.4" y1="10.3" x2="228.8" y2="2.3" stroke="#17646b" stroke-width="0.85"/>
<line x1="215.1" y1="18.3" x2="208.8" y2="26.7" stroke="#6e3c10" stroke-width="6.8"/>
<line x1="208.8" y1="26.7" x2="203.4" y2="33.9" stroke="#0c4046" stroke-width="6.8"/>
<line x1="216.9" y1="19.7" x2="210.6" y2="28.1" stroke="#a85c18" stroke-width="0.85"/>
<line x1="210.6" y1="28.1" x2="205.2" y2="35.3" stroke="#17646b" stroke-width="0.85"/>
<line x1="215.7" y1="18.8" x2="209.4" y2="27.2" stroke="#a85c18" stroke-width="0.85"/>
<line x1="209.4" y1="27.2" x2="204" y2="34.4" stroke="#17646b" stroke-width="0.85"/>
<line x1="214.5" y1="17.9" x2="208.2" y2="26.3" stroke="#a85c18" stroke-width="0.85"/>
<line x1="208.2" y1="26.3" x2="202.8" y2="33.4" stroke="#17646b" stroke-width="0.85"/>
<line x1="213.3" y1="16.9" x2="206.9" y2="25.3" stroke="#a85c18" stroke-width="0.85"/>
<line x1="206.9" y1="25.3" x2="201.6" y2="32.5" stroke="#17646b" stroke-width="0.85"/>
<line x1="253" y1="18.3" x2="259.4" y2="9" stroke="#6e3c10" stroke-width="6.8"/>
<line x1="259.4" y1="9" x2="264.8" y2="1" stroke="#0c4046" stroke-width="6.8"/>
<line x1="251.1" y1="17" x2="257.5" y2="7.7" stroke="#a85c18" stroke-width="0.85"/>
<line x1="257.5" y1="7.7" x2="262.9" y2="-0.3" stroke="#17646b" stroke-width="0.85"/>
<line x1="252.4" y1="17.9" x2="258.8" y2="8.5" stroke="#a85c18" stroke-width="0.85"/>
<line x1="258.8" y1="8.5" x2="264.2" y2="0.6" stroke="#17646b" stroke-width="0.85"/>
<line x1="253.6" y1="18.7" x2="260" y2="9.4" stroke="#a85c18" stroke-width="0.85"/>
<line x1="260" y1="9.4" x2="265.4" y2="1.4" stroke="#17646b" stroke-width="0.85"/>
<line x1="254.9" y1="19.6" x2="261.3" y2="10.3" stroke="#a85c18" stroke-width="0.85"/>
<line x1="261.3" y1="10.3" x2="266.7" y2="2.3" stroke="#17646b" stroke-width="0.85"/>
<line x1="253" y1="18.3" x2="246.7" y2="26.7" stroke="#6e3c10" stroke-width="6.8"/>
<line x1="246.7" y1="26.7" x2="241.3" y2="33.9" stroke="#0c4046" stroke-width="6.8"/>
<line x1="254.8" y1="19.7" x2="248.5" y2="28.1" stroke="#a85c18" stroke-width="0.85"/>
<line x1="248.5" y1="28.1" x2="243.1" y2="35.3" stroke="#17646b" stroke-width="0.85"/>
<line x1="253.6" y1="18.8" x2="247.3" y2="27.2" stroke="#a85c18" stroke-width="0.85"/>
<line x1="247.3" y1="27.2" x2="241.9" y2="34.4" stroke="#17646b" stroke-width="0.85"/>
<line x1="252.4" y1="17.9" x2="246.1" y2="26.3" stroke="#a85c18" stroke-width="0.85"/>
<line x1="246.1" y1="26.3" x2="240.7" y2="33.4" stroke="#17646b" stroke-width="0.85"/>
<line x1="251.2" y1="16.9" x2="244.8" y2="25.3" stroke="#a85c18" stroke-width="0.85"/>
<line x1="244.8" y1="25.3" x2="239.5" y2="32.5" stroke="#17646b" stroke-width="0.85"/>
<line x1="290.9" y1="18.3" x2="297.3" y2="9" stroke="#6e3c10" stroke-width="6.8"/>
<line x1="297.3" y1="9" x2="302.7" y2="1" stroke="#0c4046" stroke-width="6.8"/>
<line x1="289" y1="17" x2="295.4" y2="7.7" stroke="#a85c18" stroke-width="0.85"/>
<line x1="295.4" y1="7.7" x2="300.8" y2="-0.3" stroke="#17646b" stroke-width="0.85"/>
<line x1="290.3" y1="17.9" x2="296.7" y2="8.5" stroke="#a85c18" stroke-width="0.85"/>
<line x1="296.7" y1="8.5" x2="302.1" y2="0.6" stroke="#17646b" stroke-width="0.85"/>
<line x1="291.5" y1="18.7" x2="297.9" y2="9.4" stroke="#a85c18" stroke-width="0.85"/>
<line x1="297.9" y1="9.4" x2="303.3" y2="1.4" stroke="#17646b" stroke-width="0.85"/>
<line x1="292.8" y1="19.6" x2="299.2" y2="10.3" stroke="#a85c18" stroke-width="0.85"/>
<line x1="299.2" y1="10.3" x2="304.6" y2="2.3" stroke="#17646b" stroke-width="0.85"/>
<line x1="290.9" y1="18.3" x2="284.6" y2="26.7" stroke="#6e3c10" stroke-width="6.8"/>
<line x1="284.6" y1="26.7" x2="279.2" y2="33.9" stroke="#0c4046" stroke-width="6.8"/>
<line x1="292.7" y1="19.7" x2="286.4" y2="28.1" stroke="#a85c18" stroke-width="0.85"/>
<line x1="286.4" y1="28.1" x2="281" y2="35.3" stroke="#17646b" stroke-width="0.85"/>
<line x1="291.5" y1="18.8" x2="285.2" y2="27.2" stroke="#a85c18" stroke-width="0.85"/>
<line x1="285.2" y1="27.2" x2="279.8" y2="34.4" stroke="#17646b" stroke-width="0.85"/>
<line x1="290.3" y1="17.8" x2="284" y2="26.3" stroke="#a85c18" stroke-width="0.85"/>
<line x1="284" y1="26.3" x2="278.6" y2="33.4" stroke="#17646b" stroke-width="0.85"/>
<line x1="289.1" y1="16.9" x2="282.7" y2="25.3" stroke="#a85c18" stroke-width="0.85"/>
<line x1="282.7" y1="25.3" x2="277.4" y2="32.5" stroke="#17646b" stroke-width="0.85"/>
<circle cx="-2.2" cy="-1.5" r="4.4" fill="url(#gSe)"/>
<circle cx="0.2" cy="0.1" r="4.6" fill="url(#gSe)"/>
<circle cx="2.3" cy="1.6" r="4.5" fill="url(#gSe)"/>
<circle cx="35.7" cy="-1.5" r="4.4" fill="url(#gSe)"/>
<circle cx="38.1" cy="0.1" r="4.6" fill="url(#gSe)"/>
<circle cx="40.2" cy="1.6" r="4.5" fill="url(#gSe)"/>
<circle cx="73.6" cy="-1.5" r="4.4" fill="url(#gSe)"/>
<circle cx="76" cy="0.1" r="4.6" fill="url(#gSe)"/>
<circle cx="78.1" cy="1.6" r="4.5" fill="url(#gSe)"/>
<circle cx="111.5" cy="-1.5" r="4.4" fill="url(#gSe)"/>
<circle cx="113.9" cy="0.1" r="4.6" fill="url(#gSe)"/>
<circle cx="116" cy="1.6" r="4.5" fill="url(#gSe)"/>
<circle cx="149.4" cy="-1.5" r="4.4" fill="url(#gSe)"/>
<circle cx="151.8" cy="0.1" r="4.6" fill="url(#gSe)"/>
<circle cx="153.9" cy="1.6" r="4.5" fill="url(#gSe)"/>
<circle cx="187.3" cy="-1.5" r="4.4" fill="url(#gSe)"/>
<circle cx="189.7" cy="0.1" r="4.6" fill="url(#gSe)"/>
<circle cx="191.8" cy="1.6" r="4.5" fill="url(#gSe)"/>
<circle cx="225.2" cy="-1.5" r="4.4" fill="url(#gSe)"/>
<circle cx="227.6" cy="0.1" r="4.6" fill="url(#gSe)"/>
<circle cx="229.7" cy="1.6" r="4.5" fill="url(#gSe)"/>
<circle cx="263.1" cy="-1.5" r="4.4" fill="url(#gSe)"/>
<circle cx="265.5" cy="0.1" r="4.6" fill="url(#gSe)"/>
<circle cx="267.6" cy="1.6" r="4.5" fill="url(#gSe)"/>
<circle cx="301" cy="-1.5" r="4.4" fill="url(#gSe)"/>
<circle cx="303.4" cy="0.1" r="4.6" fill="url(#gSe)"/>
<circle cx="305.5" cy="1.6" r="4.5" fill="url(#gSe)"/>
<circle cx="11.2" cy="33.4" r="4.4" fill="url(#gSe)"/>
<circle cx="13.6" cy="35" r="4.6" fill="url(#gSe)"/>
<circle cx="15.7" cy="36.5" r="4.5" fill="url(#gSe)"/>
<circle cx="49.1" cy="33.4" r="4.4" fill="url(#gSe)"/>
<circle cx="51.5" cy="35" r="4.6" fill="url(#gSe)"/>
<circle cx="53.6" cy="36.5" r="4.5" fill="url(#gSe)"/>
<circle cx="87" cy="33.4" r="4.4" fill="url(#gSe)"/>
<circle cx="89.4" cy="35" r="4.6" fill="url(#gSe)"/>
<circle cx="91.5" cy="36.5" r="4.5" fill="url(#gSe)"/>
<circle cx="124.9" cy="33.4" r="4.4" fill="url(#gSe)"/>
<circle cx="127.3" cy="35" r="4.6" fill="url(#gSe)"/>
<circle cx="129.4" cy="36.5" r="4.5" fill="url(#gSe)"/>
<circle cx="162.8" cy="33.4" r="4.4" fill="url(#gSe)"/>
<circle cx="165.2" cy="35" r="4.6" fill="url(#gSe)"/>
<circle cx="167.3" cy="36.5" r="4.5" fill="url(#gSe)"/>
<circle cx="200.7" cy="33.4" r="4.4" fill="url(#gSe)"/>
<circle cx="203.1" cy="35" r="4.6" fill="url(#gSe)"/>
<circle cx="205.2" cy="36.5" r="4.5" fill="url(#gSe)"/>
<circle cx="238.6" cy="33.4" r="4.4" fill="url(#gSe)"/>
<circle cx="241" cy="35" r="4.6" fill="url(#gSe)"/>
<circle cx="243.1" cy="36.5" r="4.5" fill="url(#gSe)"/>
<circle cx="276.5" cy="33.4" r="4.4" fill="url(#gSe)"/>
<circle cx="278.9" cy="35" r="4.6" fill="url(#gSe)"/>
<circle cx="281" cy="36.5" r="4.5" fill="url(#gSe)"/>
<circle cx="314.4" cy="33.4" r="4.4" fill="url(#gSe)"/>
<circle cx="316.8" cy="35" r="4.6" fill="url(#gSe)"/>
<circle cx="318.9" cy="36.5" r="4.5" fill="url(#gSe)"/>
<circle cx="23.6" cy="16.1" r="2.6" fill="url(#gSn)"/>
<circle cx="25.9" cy="18.1" r="2.9" fill="url(#gSn)"/>
<circle cx="28.4" cy="19.9" r="2.8" fill="url(#gSn)"/>
<circle cx="61.5" cy="16.1" r="2.6" fill="url(#gSn)"/>
<circle cx="63.8" cy="18.1" r="2.9" fill="url(#gSn)"/>
<circle cx="66.3" cy="19.9" r="2.8" fill="url(#gSn)"/>
<circle cx="99.4" cy="16.1" r="2.6" fill="url(#gSn)"/>
<circle cx="101.7" cy="18.1" r="2.9" fill="url(#gSn)"/>
<circle cx="104.2" cy="19.9" r="2.8" fill="url(#gSn)"/>
<circle cx="137.3" cy="16.1" r="2.6" fill="url(#gSn)"/>
<circle cx="139.6" cy="18.1" r="2.9" fill="url(#gSn)"/>
<circle cx="142.1" cy="19.9" r="2.8" fill="url(#gSn)"/>
<circle cx="175.2" cy="16.1" r="2.6" fill="url(#gSn)"/>
<circle cx="177.5" cy="18.1" r="2.9" fill="url(#gSn)"/>
<circle cx="180" cy="19.9" r="2.8" fill="url(#gSn)"/>
<circle cx="213.1" cy="16.1" r="2.6" fill="url(#gSn)"/>
<circle cx="215.4" cy="18.1" r="2.9" fill="url(#gSn)"/>
<circle cx="217.9" cy="19.9" r="2.8" fill="url(#gSn)"/>
<circle cx="251" cy="16.1" r="2.6" fill="url(#gSn)"/>
<circle cx="253.3" cy="18.1" r="2.9" fill="url(#gSn)"/>
<circle cx="255.8" cy="19.9" r="2.8" fill="url(#gSn)"/>
<circle cx="288.9" cy="16.1" r="2.6" fill="url(#gSn)"/>
<circle cx="291.2" cy="18.1" r="2.9" fill="url(#gSn)"/>
<circle cx="293.7" cy="19.9" r="2.8" fill="url(#gSn)"/>
</g>
<g id="cta1" transform="translate(0,0)">
<line x1="421.4" y1="141.8" x2="436.1" y2="131.4" stroke="#3e3a39" stroke-width="1.3"/>
<line x1="436.1" y1="131.4" x2="450.8" y2="141.8" stroke="#3e3a39" stroke-width="1.3"/>
<line x1="450.8" y1="141.8" x2="465.5" y2="131.4" stroke="#3e3a39" stroke-width="1.3"/>
<line x1="465.5" y1="131.4" x2="480.2" y2="141.8" stroke="#3e3a39" stroke-width="1.3"/>
<line x1="480.2" y1="141.8" x2="495" y2="131.4" stroke="#3e3a39" stroke-width="1.3"/>
<line x1="495" y1="131.4" x2="509.7" y2="141.8" stroke="#3e3a39" stroke-width="1.3"/>
<line x1="509.7" y1="141.8" x2="524.4" y2="131.4" stroke="#3e3a39" stroke-width="1.3"/>
<line x1="524.4" y1="131.4" x2="539.1" y2="141.8" stroke="#3e3a39" stroke-width="1.3"/>
<line x1="539.1" y1="141.8" x2="553.8" y2="131.4" stroke="#3e3a39" stroke-width="1.3"/>
<line x1="553.8" y1="131.4" x2="568.6" y2="141.8" stroke="#3e3a39" stroke-width="1.3"/>
<line x1="568.6" y1="141.8" x2="583.3" y2="131.4" stroke="#3e3a39" stroke-width="1.3"/>
<line x1="583.3" y1="131.4" x2="598" y2="141.8" stroke="#3e3a39" stroke-width="1.3"/>
<line x1="598" y1="141.8" x2="612.7" y2="131.4" stroke="#3e3a39" stroke-width="1.3"/>
<line x1="612.7" y1="131.4" x2="627.4" y2="141.8" stroke="#3e3a39" stroke-width="1.3"/>
<line x1="627.4" y1="141.8" x2="642.2" y2="131.4" stroke="#3e3a39" stroke-width="1.3"/>
<line x1="642.2" y1="131.4" x2="656.9" y2="141.8" stroke="#3e3a39" stroke-width="1.3"/>
<line x1="656.9" y1="141.8" x2="671.6" y2="131.4" stroke="#3e3a39" stroke-width="1.3"/>
<line x1="671.6" y1="131.4" x2="686.3" y2="141.8" stroke="#3e3a39" stroke-width="1.3"/>
<line x1="686.3" y1="141.8" x2="701" y2="131.4" stroke="#3e3a39" stroke-width="1.3"/>
<line x1="436.1" y1="131.4" x2="436.1" y2="123" stroke="#3e3a39" stroke-width="1.3"/>
<line x1="465.5" y1="131.4" x2="465.5" y2="123" stroke="#3e3a39" stroke-width="1.3"/>
<line x1="480.2" y1="141.8" x2="480.2" y2="149.8" stroke="#3e3a39" stroke-width="1.3"/>
<line x1="495" y1="131.4" x2="495" y2="123" stroke="#3e3a39" stroke-width="1.3"/>
<line x1="509.7" y1="141.8" x2="509.7" y2="149.8" stroke="#3e3a39" stroke-width="1.3"/>
<line x1="524.4" y1="131.4" x2="524.4" y2="123" stroke="#3e3a39" stroke-width="1.3"/>
<line x1="539.1" y1="141.8" x2="539.1" y2="149.8" stroke="#3e3a39" stroke-width="1.3"/>
<line x1="553.8" y1="131.4" x2="553.8" y2="123" stroke="#3e3a39" stroke-width="1.3"/>
<line x1="568.6" y1="141.8" x2="568.6" y2="149.8" stroke="#3e3a39" stroke-width="1.3"/>
<line x1="583.3" y1="131.4" x2="583.3" y2="123" stroke="#3e3a39" stroke-width="1.3"/>
<line x1="598" y1="141.8" x2="598" y2="149.8" stroke="#3e3a39" stroke-width="1.3"/>
<line x1="612.7" y1="131.4" x2="612.7" y2="123" stroke="#3e3a39" stroke-width="1.3"/>
<line x1="627.4" y1="141.8" x2="627.4" y2="149.8" stroke="#3e3a39" stroke-width="1.3"/>
<line x1="642.2" y1="131.4" x2="642.2" y2="123" stroke="#3e3a39" stroke-width="1.3"/>
<line x1="656.9" y1="141.8" x2="656.9" y2="149.8" stroke="#3e3a39" stroke-width="1.3"/>
<line x1="671.6" y1="131.4" x2="671.6" y2="123" stroke="#3e3a39" stroke-width="1.3"/>
<line x1="686.3" y1="141.8" x2="686.3" y2="149.8" stroke="#3e3a39" stroke-width="1.3"/>
<line x1="450.8" y1="141.8" x2="450.8" y2="151.9" stroke="#3e3a39" stroke-width="1.3"/>
<line x1="450.8" y1="151.9" x2="440.5" y2="159" stroke="#3e3a39" stroke-width="1.3"/>
<line x1="450.8" y1="151.9" x2="462" y2="159" stroke="#3e3a39" stroke-width="1.3"/>
<line x1="461" y1="181" x2="475.8" y2="170.5" stroke="#3e3a39" stroke-width="1.3"/>
<line x1="475.8" y1="170.5" x2="490.5" y2="181" stroke="#3e3a39" stroke-width="1.3"/>
<line x1="490.5" y1="181" x2="505.2" y2="170.5" stroke="#3e3a39" stroke-width="1.3"/>
<line x1="505.2" y1="170.5" x2="520" y2="181" stroke="#3e3a39" stroke-width="1.3"/>
<line x1="520" y1="181" x2="534.8" y2="170.5" stroke="#3e3a39" stroke-width="1.3"/>
<line x1="534.8" y1="170.5" x2="549.5" y2="181" stroke="#3e3a39" stroke-width="1.3"/>
<line x1="549.5" y1="181" x2="564.2" y2="170.5" stroke="#3e3a39" stroke-width="1.3"/>
<line x1="564.2" y1="170.5" x2="579" y2="181" stroke="#3e3a39" stroke-width="1.3"/>
<line x1="579" y1="181" x2="593.8" y2="170.5" stroke="#3e3a39" stroke-width="1.3"/>
<line x1="593.8" y1="170.5" x2="608.5" y2="181" stroke="#3e3a39" stroke-width="1.3"/>
<line x1="608.5" y1="181" x2="623.2" y2="170.5" stroke="#3e3a39" stroke-width="1.3"/>
<line x1="623.2" y1="170.5" x2="638" y2="181" stroke="#3e3a39" stroke-width="1.3"/>
<line x1="638" y1="181" x2="652.8" y2="170.5" stroke="#3e3a39" stroke-width="1.3"/>
<line x1="652.8" y1="170.5" x2="667.5" y2="181" stroke="#3e3a39" stroke-width="1.3"/>
<line x1="667.5" y1="181" x2="682.2" y2="170.5" stroke="#3e3a39" stroke-width="1.3"/>
<line x1="682.2" y1="170.5" x2="697" y2="181" stroke="#3e3a39" stroke-width="1.3"/>
<line x1="697" y1="181" x2="711.8" y2="170.5" stroke="#3e3a39" stroke-width="1.3"/>
<line x1="711.8" y1="170.5" x2="726.5" y2="181" stroke="#3e3a39" stroke-width="1.3"/>
<line x1="726.5" y1="181" x2="741.2" y2="170.5" stroke="#3e3a39" stroke-width="1.3"/>
<line x1="475.8" y1="170.5" x2="475.8" y2="162.2" stroke="#3e3a39" stroke-width="1.3"/>
<line x1="490.5" y1="181" x2="490.5" y2="189.1" stroke="#3e3a39" stroke-width="1.3"/>
<line x1="505.2" y1="170.5" x2="505.2" y2="162.2" stroke="#3e3a39" stroke-width="1.3"/>
<line x1="520" y1="181" x2="520" y2="189.1" stroke="#3e3a39" stroke-width="1.3"/>
<line x1="534.8" y1="170.5" x2="534.8" y2="162.2" stroke="#3e3a39" stroke-width="1.3"/>
<line x1="549.5" y1="181" x2="549.5" y2="189.1" stroke="#3e3a39" stroke-width="1.3"/>
<line x1="564.2" y1="170.5" x2="564.2" y2="162.2" stroke="#3e3a39" stroke-width="1.3"/>
<line x1="579" y1="181" x2="579" y2="189.1" stroke="#3e3a39" stroke-width="1.3"/>
<line x1="593.8" y1="170.5" x2="593.8" y2="162.2" stroke="#3e3a39" stroke-width="1.3"/>
<line x1="608.5" y1="181" x2="608.5" y2="189.1" stroke="#3e3a39" stroke-width="1.3"/>
<line x1="623.2" y1="170.5" x2="623.2" y2="162.2" stroke="#3e3a39" stroke-width="1.3"/>
<line x1="638" y1="181" x2="638" y2="189.1" stroke="#3e3a39" stroke-width="1.3"/>
<line x1="652.8" y1="170.5" x2="652.8" y2="162.2" stroke="#3e3a39" stroke-width="1.3"/>
<line x1="667.5" y1="181" x2="667.5" y2="189.1" stroke="#3e3a39" stroke-width="1.3"/>
<line x1="682.2" y1="170.5" x2="682.2" y2="162.2" stroke="#3e3a39" stroke-width="1.3"/>
<line x1="697" y1="181" x2="697" y2="189.1" stroke="#3e3a39" stroke-width="1.3"/>
<line x1="726.5" y1="181" x2="726.5" y2="189.1" stroke="#3e3a39" stroke-width="1.3"/>
<line x1="711.8" y1="170.5" x2="711.8" y2="160.1" stroke="#3e3a39" stroke-width="1.3"/>
<line x1="711.8" y1="160.1" x2="700.5" y2="153.3" stroke="#3e3a39" stroke-width="1.3"/>
<line x1="711.8" y1="160.1" x2="722.4" y2="153.3" stroke="#3e3a39" stroke-width="1.3"/>
<circle cx="436.1" cy="123" r="3.1" fill="url(#gH)"/>
<circle cx="465.5" cy="123" r="3.1" fill="url(#gH)"/>
<circle cx="480.2" cy="149.8" r="3.1" fill="url(#gH)"/>
<circle cx="495" cy="123" r="3.1" fill="url(#gH)"/>
<circle cx="509.7" cy="149.8" r="3.1" fill="url(#gH)"/>
<circle cx="524.4" cy="123" r="3.1" fill="url(#gH)"/>
<circle cx="539.1" cy="149.8" r="3.1" fill="url(#gH)"/>
<circle cx="553.8" cy="123" r="3.1" fill="url(#gH)"/>
<circle cx="568.6" cy="149.8" r="3.1" fill="url(#gH)"/>
<circle cx="583.3" cy="123" r="3.1" fill="url(#gH)"/>
<circle cx="598" cy="149.8" r="3.1" fill="url(#gH)"/>
<circle cx="612.7" cy="123" r="3.1" fill="url(#gH)"/>
<circle cx="627.4" cy="149.8" r="3.1" fill="url(#gH)"/>
<circle cx="642.2" cy="123" r="3.1" fill="url(#gH)"/>
<circle cx="656.9" cy="149.8" r="3.1" fill="url(#gH)"/>
<circle cx="671.6" cy="123" r="3.1" fill="url(#gH)"/>
<circle cx="686.3" cy="149.8" r="3.1" fill="url(#gH)"/>
<circle cx="421.4" cy="141.8" r="3.1" fill="url(#gH)"/>
<circle cx="701" cy="131.4" r="3.1" fill="url(#gH)"/>
<circle cx="440.5" cy="159" r="3.1" fill="url(#gH)"/>
<circle cx="462" cy="159" r="3.1" fill="url(#gH)"/>
<circle cx="475.8" cy="162.2" r="3.1" fill="url(#gH)"/>
<circle cx="490.5" cy="189.1" r="3.1" fill="url(#gH)"/>
<circle cx="505.2" cy="162.2" r="3.1" fill="url(#gH)"/>
<circle cx="520" cy="189.1" r="3.1" fill="url(#gH)"/>
<circle cx="534.8" cy="162.2" r="3.1" fill="url(#gH)"/>
<circle cx="549.5" cy="189.1" r="3.1" fill="url(#gH)"/>
<circle cx="564.2" cy="162.2" r="3.1" fill="url(#gH)"/>
<circle cx="579" cy="189.1" r="3.1" fill="url(#gH)"/>
<circle cx="593.8" cy="162.2" r="3.1" fill="url(#gH)"/>
<circle cx="608.5" cy="189.1" r="3.1" fill="url(#gH)"/>
<circle cx="623.2" cy="162.2" r="3.1" fill="url(#gH)"/>
<circle cx="638" cy="189.1" r="3.1" fill="url(#gH)"/>
<circle cx="652.8" cy="162.2" r="3.1" fill="url(#gH)"/>
<circle cx="667.5" cy="189.1" r="3.1" fill="url(#gH)"/>
<circle cx="682.2" cy="162.2" r="3.1" fill="url(#gH)"/>
<circle cx="697" cy="189.1" r="3.1" fill="url(#gH)"/>
<circle cx="726.5" cy="189.1" r="3.1" fill="url(#gH)"/>
<circle cx="461" cy="181" r="3.1" fill="url(#gH)"/>
<circle cx="741.2" cy="170.5" r="3.1" fill="url(#gH)"/>
<circle cx="700.5" cy="153.3" r="3.1" fill="url(#gH)"/>
<circle cx="722.4" cy="153.3" r="3.1" fill="url(#gH)"/>
<circle cx="436.1" cy="131.4" r="4.3" fill="url(#gC)"/>
<circle cx="465.5" cy="131.4" r="4.3" fill="url(#gC)"/>
<circle cx="480.2" cy="141.8" r="4.3" fill="url(#gC)"/>
<circle cx="495" cy="131.4" r="4.3" fill="url(#gC)"/>
<circle cx="509.7" cy="141.8" r="4.3" fill="url(#gC)"/>
<circle cx="524.4" cy="131.4" r="4.3" fill="url(#gC)"/>
<circle cx="539.1" cy="141.8" r="4.3" fill="url(#gC)"/>
<circle cx="553.8" cy="131.4" r="4.3" fill="url(#gC)"/>
<circle cx="568.6" cy="141.8" r="4.3" fill="url(#gC)"/>
<circle cx="583.3" cy="131.4" r="4.3" fill="url(#gC)"/>
<circle cx="598" cy="141.8" r="4.3" fill="url(#gC)"/>
<circle cx="612.7" cy="131.4" r="4.3" fill="url(#gC)"/>
<circle cx="627.4" cy="141.8" r="4.3" fill="url(#gC)"/>
<circle cx="642.2" cy="131.4" r="4.3" fill="url(#gC)"/>
<circle cx="656.9" cy="141.8" r="4.3" fill="url(#gC)"/>
<circle cx="671.6" cy="131.4" r="4.3" fill="url(#gC)"/>
<circle cx="686.3" cy="141.8" r="4.3" fill="url(#gC)"/>
<circle cx="450.8" cy="151.9" r="4.3" fill="url(#gC)"/>
<circle cx="475.8" cy="170.5" r="4.3" fill="url(#gC)"/>
<circle cx="490.5" cy="181" r="4.3" fill="url(#gC)"/>
<circle cx="505.2" cy="170.5" r="4.3" fill="url(#gC)"/>
<circle cx="520" cy="181" r="4.3" fill="url(#gC)"/>
<circle cx="534.8" cy="170.5" r="4.3" fill="url(#gC)"/>
<circle cx="549.5" cy="181" r="4.3" fill="url(#gC)"/>
<circle cx="564.2" cy="170.5" r="4.3" fill="url(#gC)"/>
<circle cx="579" cy="181" r="4.3" fill="url(#gC)"/>
<circle cx="593.8" cy="170.5" r="4.3" fill="url(#gC)"/>
<circle cx="608.5" cy="181" r="4.3" fill="url(#gC)"/>
<circle cx="623.2" cy="170.5" r="4.3" fill="url(#gC)"/>
<circle cx="638" cy="181" r="4.3" fill="url(#gC)"/>
<circle cx="652.8" cy="170.5" r="4.3" fill="url(#gC)"/>
<circle cx="667.5" cy="181" r="4.3" fill="url(#gC)"/>
<circle cx="682.2" cy="170.5" r="4.3" fill="url(#gC)"/>
<circle cx="697" cy="181" r="4.3" fill="url(#gC)"/>
<circle cx="726.5" cy="181" r="4.3" fill="url(#gC)"/>
<circle cx="711.8" cy="160.1" r="4.3" fill="url(#gC)"/>
<circle cx="450.8" cy="141.8" r="3.7" fill="#2a1f7c" stroke="#0a7a3a" stroke-width="1"/>
<circle cx="711.8" cy="170.5" r="3.7" fill="#2a1f7c" stroke="#0a7a3a" stroke-width="1"/>
</g>
<g id="cta2" transform="translate(-1.4,143.3)">
<line x1="421.4" y1="141.8" x2="436.1" y2="131.4" stroke="#3e3a39" stroke-width="1.3"/>
<line x1="436.1" y1="131.4" x2="450.8" y2="141.8" stroke="#3e3a39" stroke-width="1.3"/>
<line x1="450.8" y1="141.8" x2="465.5" y2="131.4" stroke="#3e3a39" stroke-width="1.3"/>
<line x1="465.5" y1="131.4" x2="480.2" y2="141.8" stroke="#3e3a39" stroke-width="1.3"/>
<line x1="480.2" y1="141.8" x2="495" y2="131.4" stroke="#3e3a39" stroke-width="1.3"/>
<line x1="495" y1="131.4" x2="509.7" y2="141.8" stroke="#3e3a39" stroke-width="1.3"/>
<line x1="509.7" y1="141.8" x2="524.4" y2="131.4" stroke="#3e3a39" stroke-width="1.3"/>
<line x1="524.4" y1="131.4" x2="539.1" y2="141.8" stroke="#3e3a39" stroke-width="1.3"/>
<line x1="539.1" y1="141.8" x2="553.8" y2="131.4" stroke="#3e3a39" stroke-width="1.3"/>
<line x1="553.8" y1="131.4" x2="568.6" y2="141.8" stroke="#3e3a39" stroke-width="1.3"/>
<line x1="568.6" y1="141.8" x2="583.3" y2="131.4" stroke="#3e3a39" stroke-width="1.3"/>
<line x1="583.3" y1="131.4" x2="598" y2="141.8" stroke="#3e3a39" stroke-width="1.3"/>
<line x1="598" y1="141.8" x2="612.7" y2="131.4" stroke="#3e3a39" stroke-width="1.3"/>
<line x1="612.7" y1="131.4" x2="627.4" y2="141.8" stroke="#3e3a39" stroke-width="1.3"/>
<line x1="627.4" y1="141.8" x2="642.2" y2="131.4" stroke="#3e3a39" stroke-width="1.3"/>
<line x1="642.2" y1="131.4" x2="656.9" y2="141.8" stroke="#3e3a39" stroke-width="1.3"/>
<line x1="656.9" y1="141.8" x2="671.6" y2="131.4" stroke="#3e3a39" stroke-width="1.3"/>
<line x1="671.6" y1="131.4" x2="686.3" y2="141.8" stroke="#3e3a39" stroke-width="1.3"/>
<line x1="686.3" y1="141.8" x2="701" y2="131.4" stroke="#3e3a39" stroke-width="1.3"/>
<line x1="436.1" y1="131.4" x2="436.1" y2="123" stroke="#3e3a39" stroke-width="1.3"/>
<line x1="465.5" y1="131.4" x2="465.5" y2="123" stroke="#3e3a39" stroke-width="1.3"/>
<line x1="480.2" y1="141.8" x2="480.2" y2="149.8" stroke="#3e3a39" stroke-width="1.3"/>
<line x1="495" y1="131.4" x2="495" y2="123" stroke="#3e3a39" stroke-width="1.3"/>
<line x1="509.7" y1="141.8" x2="509.7" y2="149.8" stroke="#3e3a39" stroke-width="1.3"/>
<line x1="524.4" y1="131.4" x2="524.4" y2="123" stroke="#3e3a39" stroke-width="1.3"/>
<line x1="539.1" y1="141.8" x2="539.1" y2="149.8" stroke="#3e3a39" stroke-width="1.3"/>
<line x1="553.8" y1="131.4" x2="553.8" y2="123" stroke="#3e3a39" stroke-width="1.3"/>
<line x1="568.6" y1="141.8" x2="568.6" y2="149.8" stroke="#3e3a39" stroke-width="1.3"/>
<line x1="583.3" y1="131.4" x2="583.3" y2="123" stroke="#3e3a39" stroke-width="1.3"/>
<line x1="598" y1="141.8" x2="598" y2="149.8" stroke="#3e3a39" stroke-width="1.3"/>
<line x1="612.7" y1="131.4" x2="612.7" y2="123" stroke="#3e3a39" stroke-width="1.3"/>
<line x1="627.4" y1="141.8" x2="627.4" y2="149.8" stroke="#3e3a39" stroke-width="1.3"/>
<line x1="642.2" y1="131.4" x2="642.2" y2="123" stroke="#3e3a39" stroke-width="1.3"/>
<line x1="656.9" y1="141.8" x2="656.9" y2="149.8" stroke="#3e3a39" stroke-width="1.3"/>
<line x1="671.6" y1="131.4" x2="671.6" y2="123" stroke="#3e3a39" stroke-width="1.3"/>
<line x1="686.3" y1="141.8" x2="686.3" y2="149.8" stroke="#3e3a39" stroke-width="1.3"/>
<line x1="450.8" y1="141.8" x2="450.8" y2="151.9" stroke="#3e3a39" stroke-width="1.3"/>
<line x1="450.8" y1="151.9" x2="440.5" y2="159" stroke="#3e3a39" stroke-width="1.3"/>
<line x1="450.8" y1="151.9" x2="462" y2="159" stroke="#3e3a39" stroke-width="1.3"/>
<line x1="461" y1="181" x2="475.8" y2="170.5" stroke="#3e3a39" stroke-width="1.3"/>
<line x1="475.8" y1="170.5" x2="490.5" y2="181" stroke="#3e3a39" stroke-width="1.3"/>
<line x1="490.5" y1="181" x2="505.2" y2="170.5" stroke="#3e3a39" stroke-width="1.3"/>
<line x1="505.2" y1="170.5" x2="520" y2="181" stroke="#3e3a39" stroke-width="1.3"/>
<line x1="520" y1="181" x2="534.8" y2="170.5" stroke="#3e3a39" stroke-width="1.3"/>
<line x1="534.8" y1="170.5" x2="549.5" y2="181" stroke="#3e3a39" stroke-width="1.3"/>
<line x1="549.5" y1="181" x2="564.2" y2="170.5" stroke="#3e3a39" stroke-width="1.3"/>
<line x1="564.2" y1="170.5" x2="579" y2="181" stroke="#3e3a39" stroke-width="1.3"/>
<line x1="579" y1="181" x2="593.8" y2="170.5" stroke="#3e3a39" stroke-width="1.3"/>
<line x1="593.8" y1="170.5" x2="608.5" y2="181" stroke="#3e3a39" stroke-width="1.3"/>
<line x1="608.5" y1="181" x2="623.2" y2="170.5" stroke="#3e3a39" stroke-width="1.3"/>
<line x1="623.2" y1="170.5" x2="638" y2="181" stroke="#3e3a39" stroke-width="1.3"/>
<line x1="638" y1="181" x2="652.8" y2="170.5" stroke="#3e3a39" stroke-width="1.3"/>
<line x1="652.8" y1="170.5" x2="667.5" y2="181" stroke="#3e3a39" stroke-width="1.3"/>
<line x1="667.5" y1="181" x2="682.2" y2="170.5" stroke="#3e3a39" stroke-width="1.3"/>
<line x1="682.2" y1="170.5" x2="697" y2="181" stroke="#3e3a39" stroke-width="1.3"/>
<line x1="697" y1="181" x2="711.8" y2="170.5" stroke="#3e3a39" stroke-width="1.3"/>
<line x1="711.8" y1="170.5" x2="726.5" y2="181" stroke="#3e3a39" stroke-width="1.3"/>
<line x1="726.5" y1="181" x2="741.2" y2="170.5" stroke="#3e3a39" stroke-width="1.3"/>
<line x1="475.8" y1="170.5" x2="475.8" y2="162.2" stroke="#3e3a39" stroke-width="1.3"/>
<line x1="490.5" y1="181" x2="490.5" y2="189.1" stroke="#3e3a39" stroke-width="1.3"/>
<line x1="505.2" y1="170.5" x2="505.2" y2="162.2" stroke="#3e3a39" stroke-width="1.3"/>
<line x1="520" y1="181" x2="520" y2="189.1" stroke="#3e3a39" stroke-width="1.3"/>
<line x1="534.8" y1="170.5" x2="534.8" y2="162.2" stroke="#3e3a39" stroke-width="1.3"/>
<line x1="549.5" y1="181" x2="549.5" y2="189.1" stroke="#3e3a39" stroke-width="1.3"/>
<line x1="564.2" y1="170.5" x2="564.2" y2="162.2" stroke="#3e3a39" stroke-width="1.3"/>
<line x1="579" y1="181" x2="579" y2="189.1" stroke="#3e3a39" stroke-width="1.3"/>
<line x1="593.8" y1="170.5" x2="593.8" y2="162.2" stroke="#3e3a39" stroke-width="1.3"/>
<line x1="608.5" y1="181" x2="608.5" y2="189.1" stroke="#3e3a39" stroke-width="1.3"/>
<line x1="623.2" y1="170.5" x2="623.2" y2="162.2" stroke="#3e3a39" stroke-width="1.3"/>
<line x1="638" y1="181" x2="638" y2="189.1" stroke="#3e3a39" stroke-width="1.3"/>
<line x1="652.8" y1="170.5" x2="652.8" y2="162.2" stroke="#3e3a39" stroke-width="1.3"/>
<line x1="667.5" y1="181" x2="667.5" y2="189.1" stroke="#3e3a39" stroke-width="1.3"/>
<line x1="682.2" y1="170.5" x2="682.2" y2="162.2" stroke="#3e3a39" stroke-width="1.3"/>
<line x1="697" y1="181" x2="697" y2="189.1" stroke="#3e3a39" stroke-width="1.3"/>
<line x1="726.5" y1="181" x2="726.5" y2="189.1" stroke="#3e3a39" stroke-width="1.3"/>
<line x1="711.8" y1="170.5" x2="711.8" y2="160.1" stroke="#3e3a39" stroke-width="1.3"/>
<line x1="711.8" y1="160.1" x2="700.5" y2="153.3" stroke="#3e3a39" stroke-width="1.3"/>
<line x1="711.8" y1="160.1" x2="722.4" y2="153.3" stroke="#3e3a39" stroke-width="1.3"/>
<circle cx="436.1" cy="123" r="3.1" fill="url(#gH)"/>
<circle cx="465.5" cy="123" r="3.1" fill="url(#gH)"/>
<circle cx="480.2" cy="149.8" r="3.1" fill="url(#gH)"/>
<circle cx="495" cy="123" r="3.1" fill="url(#gH)"/>
<circle cx="509.7" cy="149.8" r="3.1" fill="url(#gH)"/>
<circle cx="524.4" cy="123" r="3.1" fill="url(#gH)"/>
<circle cx="539.1" cy="149.8" r="3.1" fill="url(#gH)"/>
<circle cx="553.8" cy="123" r="3.1" fill="url(#gH)"/>
<circle cx="568.6" cy="149.8" r="3.1" fill="url(#gH)"/>
<circle cx="583.3" cy="123" r="3.1" fill="url(#gH)"/>
<circle cx="598" cy="149.8" r="3.1" fill="url(#gH)"/>
<circle cx="612.7" cy="123" r="3.1" fill="url(#gH)"/>
<circle cx="627.4" cy="149.8" r="3.1" fill="url(#gH)"/>
<circle cx="642.2" cy="123" r="3.1" fill="url(#gH)"/>
<circle cx="656.9" cy="149.8" r="3.1" fill="url(#gH)"/>
<circle cx="671.6" cy="123" r="3.1" fill="url(#gH)"/>
<circle cx="686.3" cy="149.8" r="3.1" fill="url(#gH)"/>
<circle cx="421.4" cy="141.8" r="3.1" fill="url(#gH)"/>
<circle cx="701" cy="131.4" r="3.1" fill="url(#gH)"/>
<circle cx="440.5" cy="159" r="3.1" fill="url(#gH)"/>
<circle cx="462" cy="159" r="3.1" fill="url(#gH)"/>
<circle cx="475.8" cy="162.2" r="3.1" fill="url(#gH)"/>
<circle cx="490.5" cy="189.1" r="3.1" fill="url(#gH)"/>
<circle cx="505.2" cy="162.2" r="3.1" fill="url(#gH)"/>
<circle cx="520" cy="189.1" r="3.1" fill="url(#gH)"/>
<circle cx="534.8" cy="162.2" r="3.1" fill="url(#gH)"/>
<circle cx="549.5" cy="189.1" r="3.1" fill="url(#gH)"/>
<circle cx="564.2" cy="162.2" r="3.1" fill="url(#gH)"/>
<circle cx="579" cy="189.1" r="3.1" fill="url(#gH)"/>
<circle cx="593.8" cy="162.2" r="3.1" fill="url(#gH)"/>
<circle cx="608.5" cy="189.1" r="3.1" fill="url(#gH)"/>
<circle cx="623.2" cy="162.2" r="3.1" fill="url(#gH)"/>
<circle cx="638" cy="189.1" r="3.1" fill="url(#gH)"/>
<circle cx="652.8" cy="162.2" r="3.1" fill="url(#gH)"/>
<circle cx="667.5" cy="189.1" r="3.1" fill="url(#gH)"/>
<circle cx="682.2" cy="162.2" r="3.1" fill="url(#gH)"/>
<circle cx="697" cy="189.1" r="3.1" fill="url(#gH)"/>
<circle cx="726.5" cy="189.1" r="3.1" fill="url(#gH)"/>
<circle cx="461" cy="181" r="3.1" fill="url(#gH)"/>
<circle cx="741.2" cy="170.5" r="3.1" fill="url(#gH)"/>
<circle cx="700.5" cy="153.3" r="3.1" fill="url(#gH)"/>
<circle cx="722.4" cy="153.3" r="3.1" fill="url(#gH)"/>
<circle cx="436.1" cy="131.4" r="4.3" fill="url(#gC)"/>
<circle cx="465.5" cy="131.4" r="4.3" fill="url(#gC)"/>
<circle cx="480.2" cy="141.8" r="4.3" fill="url(#gC)"/>
<circle cx="495" cy="131.4" r="4.3" fill="url(#gC)"/>
<circle cx="509.7" cy="141.8" r="4.3" fill="url(#gC)"/>
<circle cx="524.4" cy="131.4" r="4.3" fill="url(#gC)"/>
<circle cx="539.1" cy="141.8" r="4.3" fill="url(#gC)"/>
<circle cx="553.8" cy="131.4" r="4.3" fill="url(#gC)"/>
<circle cx="568.6" cy="141.8" r="4.3" fill="url(#gC)"/>
<circle cx="583.3" cy="131.4" r="4.3" fill="url(#gC)"/>
<circle cx="598" cy="141.8" r="4.3" fill="url(#gC)"/>
<circle cx="612.7" cy="131.4" r="4.3" fill="url(#gC)"/>
<circle cx="627.4" cy="141.8" r="4.3" fill="url(#gC)"/>
<circle cx="642.2" cy="131.4" r="4.3" fill="url(#gC)"/>
<circle cx="656.9" cy="141.8" r="4.3" fill="url(#gC)"/>
<circle cx="671.6" cy="131.4" r="4.3" fill="url(#gC)"/>
<circle cx="686.3" cy="141.8" r="4.3" fill="url(#gC)"/>
<circle cx="450.8" cy="151.9" r="4.3" fill="url(#gC)"/>
<circle cx="475.8" cy="170.5" r="4.3" fill="url(#gC)"/>
<circle cx="490.5" cy="181" r="4.3" fill="url(#gC)"/>
<circle cx="505.2" cy="170.5" r="4.3" fill="url(#gC)"/>
<circle cx="520" cy="181" r="4.3" fill="url(#gC)"/>
<circle cx="534.8" cy="170.5" r="4.3" fill="url(#gC)"/>
<circle cx="549.5" cy="181" r="4.3" fill="url(#gC)"/>
<circle cx="564.2" cy="170.5" r="4.3" fill="url(#gC)"/>
<circle cx="579" cy="181" r="4.3" fill="url(#gC)"/>
<circle cx="593.8" cy="170.5" r="4.3" fill="url(#gC)"/>
<circle cx="608.5" cy="181" r="4.3" fill="url(#gC)"/>
<circle cx="623.2" cy="170.5" r="4.3" fill="url(#gC)"/>
<circle cx="638" cy="181" r="4.3" fill="url(#gC)"/>
<circle cx="652.8" cy="170.5" r="4.3" fill="url(#gC)"/>
<circle cx="667.5" cy="181" r="4.3" fill="url(#gC)"/>
<circle cx="682.2" cy="170.5" r="4.3" fill="url(#gC)"/>
<circle cx="697" cy="181" r="4.3" fill="url(#gC)"/>
<circle cx="726.5" cy="181" r="4.3" fill="url(#gC)"/>
<circle cx="711.8" cy="160.1" r="4.3" fill="url(#gC)"/>
<circle cx="450.8" cy="141.8" r="3.7" fill="#2a1f7c" stroke="#0a7a3a" stroke-width="1"/>
<circle cx="711.8" cy="170.5" r="3.7" fill="#2a1f7c" stroke="#0a7a3a" stroke-width="1"/>
</g>
<rect x="377.2" y="51.5" width="26.6" height="7.4" fill="#231815"/>
<rect x="377.2" y="197.9" width="26.6" height="7.4" fill="#231815"/>
<line x1="390" y1="74.2" x2="390" y2="180.1" stroke="#231815" stroke-width="3.2"/>
<path d="M390 64.2 L384.2 82.2 L395.8 82.2 Z" fill="#231815"/>
<path d="M390 190.1 L384.2 172.1 L395.8 172.1 Z" fill="#231815"/>
<text transform="translate(355.2 133) rotate(-90) scale(1 1.03)" font-size="29.5" fill="#231815" stroke="#231815" stroke-width="0.45" text-anchor="middle" letter-spacing="-0.8">14.74Å</text>
<text transform="translate(584.5 442.3) scale(1 1.03)" font-size="29.2" fill="#231815" stroke="#231815" stroke-width="0.45" text-anchor="middle">(CTA)<tspan font-size="20.5" dy="6.5">x</tspan><tspan dy="-6.5">SnSe</tspan><tspan font-size="20.5" dy="6.5">2</tspan></text>
<g id="c-l1" transform="translate(846.7,23.3) rotate(0.95)">
<line x1="25.6" y1="18.3" x2="13.8" y2="9.9" stroke="#9a5a22" stroke-width="2.0"/>
<line x1="13.8" y1="9.9" x2="2" y2="1.5" stroke="#1d6168" stroke-width="2.0"/>
<line x1="25.6" y1="18.3" x2="38" y2="26.1" stroke="#9a5a22" stroke-width="2.0"/>
<line x1="38" y1="26.1" x2="50.3" y2="33.9" stroke="#1d6168" stroke-width="2.0"/>
<line x1="63.5" y1="18.3" x2="51.7" y2="9.9" stroke="#9a5a22" stroke-width="2.0"/>
<line x1="51.7" y1="9.9" x2="39.9" y2="1.5" stroke="#1d6168" stroke-width="2.0"/>
<line x1="63.5" y1="18.3" x2="75.8" y2="26.1" stroke="#9a5a22" stroke-width="2.0"/>
<line x1="75.8" y1="26.1" x2="88.2" y2="33.9" stroke="#1d6168" stroke-width="2.0"/>
<line x1="101.4" y1="18.3" x2="89.6" y2="9.9" stroke="#9a5a22" stroke-width="2.0"/>
<line x1="89.6" y1="9.9" x2="77.8" y2="1.5" stroke="#1d6168" stroke-width="2.0"/>
<line x1="101.4" y1="18.3" x2="113.8" y2="26.1" stroke="#9a5a22" stroke-width="2.0"/>
<line x1="113.8" y1="26.1" x2="126.1" y2="33.9" stroke="#1d6168" stroke-width="2.0"/>
<line x1="139.3" y1="18.3" x2="127.5" y2="9.9" stroke="#9a5a22" stroke-width="2.0"/>
<line x1="127.5" y1="9.9" x2="115.7" y2="1.5" stroke="#1d6168" stroke-width="2.0"/>
<line x1="139.3" y1="18.3" x2="151.6" y2="26.1" stroke="#9a5a22" stroke-width="2.0"/>
<line x1="151.6" y1="26.1" x2="164" y2="33.9" stroke="#1d6168" stroke-width="2.0"/>
<line x1="177.2" y1="18.3" x2="165.4" y2="9.9" stroke="#9a5a22" stroke-width="2.0"/>
<line x1="165.4" y1="9.9" x2="153.6" y2="1.5" stroke="#1d6168" stroke-width="2.0"/>
<line x1="177.2" y1="18.3" x2="189.6" y2="26.1" stroke="#9a5a22" stroke-width="2.0"/>
<line x1="189.6" y1="26.1" x2="201.9" y2="33.9" stroke="#1d6168" stroke-width="2.0"/>
<line x1="215.1" y1="18.3" x2="203.3" y2="9.9" stroke="#9a5a22" stroke-width="2.0"/>
<line x1="203.3" y1="9.9" x2="191.5" y2="1.5" stroke="#1d6168" stroke-width="2.0"/>
<line x1="215.1" y1="18.3" x2="227.4" y2="26.1" stroke="#9a5a22" stroke-width="2.0"/>
<line x1="227.4" y1="26.1" x2="239.8" y2="33.9" stroke="#1d6168" stroke-width="2.0"/>
<line x1="253" y1="18.3" x2="241.2" y2="9.9" stroke="#9a5a22" stroke-width="2.0"/>
<line x1="241.2" y1="9.9" x2="229.4" y2="1.5" stroke="#1d6168" stroke-width="2.0"/>
<line x1="253" y1="18.3" x2="265.3" y2="26.1" stroke="#9a5a22" stroke-width="2.0"/>
<line x1="265.3" y1="26.1" x2="277.7" y2="33.9" stroke="#1d6168" stroke-width="2.0"/>
<line x1="290.9" y1="18.3" x2="279.1" y2="9.9" stroke="#9a5a22" stroke-width="2.0"/>
<line x1="279.1" y1="9.9" x2="267.3" y2="1.5" stroke="#1d6168" stroke-width="2.0"/>
<line x1="290.9" y1="18.3" x2="303.2" y2="26.1" stroke="#9a5a22" stroke-width="2.0"/>
<line x1="303.2" y1="26.1" x2="315.6" y2="33.9" stroke="#1d6168" stroke-width="2.0"/>
<line x1="25.6" y1="18.3" x2="32" y2="9" stroke="#6e3c10" stroke-width="6.8"/>
<line x1="32" y1="9" x2="37.4" y2="1" stroke="#0c4046" stroke-width="6.8"/>
<line x1="23.7" y1="17" x2="30.1" y2="7.7" stroke="#a85c18" stroke-width="0.85"/>
<line x1="30.1" y1="7.7" x2="35.5" y2="-0.3" stroke="#17646b" stroke-width="0.85"/>
<line x1="25" y1="17.9" x2="31.4" y2="8.5" stroke="#a85c18" stroke-width="0.85"/>
<line x1="31.4" y1="8.5" x2="36.8" y2="0.6" stroke="#17646b" stroke-width="0.85"/>
<line x1="26.2" y1="18.7" x2="32.6" y2="9.4" stroke="#a85c18" stroke-width="0.85"/>
<line x1="32.6" y1="9.4" x2="38" y2="1.4" stroke="#17646b" stroke-width="0.85"/>
<line x1="27.5" y1="19.6" x2="33.9" y2="10.3" stroke="#a85c18" stroke-width="0.85"/>
<line x1="33.9" y1="10.3" x2="39.3" y2="2.3" stroke="#17646b" stroke-width="0.85"/>
<line x1="25.6" y1="18.3" x2="19.3" y2="26.7" stroke="#6e3c10" stroke-width="6.8"/>
<line x1="19.3" y1="26.7" x2="13.9" y2="33.9" stroke="#0c4046" stroke-width="6.8"/>
<line x1="27.4" y1="19.7" x2="21.1" y2="28.1" stroke="#a85c18" stroke-width="0.85"/>
<line x1="21.1" y1="28.1" x2="15.7" y2="35.3" stroke="#17646b" stroke-width="0.85"/>
<line x1="26.2" y1="18.8" x2="19.9" y2="27.2" stroke="#a85c18" stroke-width="0.85"/>
<line x1="19.9" y1="27.2" x2="14.5" y2="34.4" stroke="#17646b" stroke-width="0.85"/>
<line x1="25" y1="17.9" x2="18.7" y2="26.3" stroke="#a85c18" stroke-width="0.85"/>
<line x1="18.7" y1="26.3" x2="13.3" y2="33.4" stroke="#17646b" stroke-width="0.85"/>
<line x1="23.8" y1="16.9" x2="17.4" y2="25.3" stroke="#a85c18" stroke-width="0.85"/>
<line x1="17.4" y1="25.3" x2="12.1" y2="32.5" stroke="#17646b" stroke-width="0.85"/>
<line x1="63.5" y1="18.3" x2="69.9" y2="9" stroke="#6e3c10" stroke-width="6.8"/>
<line x1="69.9" y1="9" x2="75.3" y2="1" stroke="#0c4046" stroke-width="6.8"/>
<line x1="61.6" y1="17" x2="68" y2="7.7" stroke="#a85c18" stroke-width="0.85"/>
<line x1="68" y1="7.7" x2="73.4" y2="-0.3" stroke="#17646b" stroke-width="0.85"/>
<line x1="62.9" y1="17.9" x2="69.3" y2="8.5" stroke="#a85c18" stroke-width="0.85"/>
<line x1="69.3" y1="8.5" x2="74.7" y2="0.6" stroke="#17646b" stroke-width="0.85"/>
<line x1="64.1" y1="18.7" x2="70.5" y2="9.4" stroke="#a85c18" stroke-width="0.85"/>
<line x1="70.5" y1="9.4" x2="75.9" y2="1.4" stroke="#17646b" stroke-width="0.85"/>
<line x1="65.4" y1="19.6" x2="71.8" y2="10.3" stroke="#a85c18" stroke-width="0.85"/>
<line x1="71.8" y1="10.3" x2="77.2" y2="2.3" stroke="#17646b" stroke-width="0.85"/>
<line x1="63.5" y1="18.3" x2="57.2" y2="26.7" stroke="#6e3c10" stroke-width="6.8"/>
<line x1="57.2" y1="26.7" x2="51.8" y2="33.9" stroke="#0c4046" stroke-width="6.8"/>
<line x1="65.3" y1="19.7" x2="59" y2="28.1" stroke="#a85c18" stroke-width="0.85"/>
<line x1="59" y1="28.1" x2="53.6" y2="35.3" stroke="#17646b" stroke-width="0.85"/>
<line x1="64.1" y1="18.8" x2="57.8" y2="27.2" stroke="#a85c18" stroke-width="0.85"/>
<line x1="57.8" y1="27.2" x2="52.4" y2="34.4" stroke="#17646b" stroke-width="0.85"/>
<line x1="62.9" y1="17.9" x2="56.6" y2="26.3" stroke="#a85c18" stroke-width="0.85"/>
<line x1="56.6" y1="26.3" x2="51.2" y2="33.4" stroke="#17646b" stroke-width="0.85"/>
<line x1="61.7" y1="16.9" x2="55.3" y2="25.3" stroke="#a85c18" stroke-width="0.85"/>
<line x1="55.3" y1="25.3" x2="50" y2="32.5" stroke="#17646b" stroke-width="0.85"/>
<line x1="101.4" y1="18.3" x2="107.8" y2="9" stroke="#6e3c10" stroke-width="6.8"/>
<line x1="107.8" y1="9" x2="113.2" y2="1" stroke="#0c4046" stroke-width="6.8"/>
<line x1="99.5" y1="17" x2="105.9" y2="7.7" stroke="#a85c18" stroke-width="0.85"/>
<line x1="105.9" y1="7.7" x2="111.3" y2="-0.3" stroke="#17646b" stroke-width="0.85"/>
<line x1="100.8" y1="17.9" x2="107.2" y2="8.5" stroke="#a85c18" stroke-width="0.85"/>
<line x1="107.2" y1="8.5" x2="112.6" y2="0.6" stroke="#17646b" stroke-width="0.85"/>
<line x1="102" y1="18.7" x2="108.4" y2="9.4" stroke="#a85c18" stroke-width="0.85"/>
<line x1="108.4" y1="9.4" x2="113.8" y2="1.4" stroke="#17646b" stroke-width="0.85"/>
<line x1="103.3" y1="19.6" x2="109.7" y2="10.3" stroke="#a85c18" stroke-width="0.85"/>
<line x1="109.7" y1="10.3" x2="115.1" y2="2.3" stroke="#17646b" stroke-width="0.85"/>
<line x1="101.4" y1="18.3" x2="95.1" y2="26.7" stroke="#6e3c10" stroke-width="6.8"/>
<line x1="95.1" y1="26.7" x2="89.7" y2="33.9" stroke="#0c4046" stroke-width="6.8"/>
<line x1="103.2" y1="19.7" x2="96.9" y2="28.1" stroke="#a85c18" stroke-width="0.85"/>
<line x1="96.9" y1="28.1" x2="91.5" y2="35.3" stroke="#17646b" stroke-width="0.85"/>
<line x1="102" y1="18.8" x2="95.7" y2="27.2" stroke="#a85c18" stroke-width="0.85"/>
<line x1="95.7" y1="27.2" x2="90.3" y2="34.4" stroke="#17646b" stroke-width="0.85"/>
<line x1="100.8" y1="17.9" x2="94.5" y2="26.3" stroke="#a85c18" stroke-width="0.85"/>
<line x1="94.5" y1="26.3" x2="89.1" y2="33.4" stroke="#17646b" stroke-width="0.85"/>
<line x1="99.6" y1="16.9" x2="93.2" y2="25.3" stroke="#a85c18" stroke-width="0.85"/>
<line x1="93.2" y1="25.3" x2="87.9" y2="32.5" stroke="#17646b" stroke-width="0.85"/>
<line x1="139.3" y1="18.3" x2="145.7" y2="9" stroke="#6e3c10" stroke-width="6.8"/>
<line x1="145.7" y1="9" x2="151.1" y2="1" stroke="#0c4046" stroke-width="6.8"/>
<line x1="137.4" y1="17" x2="143.8" y2="7.7" stroke="#a85c18" stroke-width="0.85"/>
<line x1="143.8" y1="7.7" x2="149.2" y2="-0.3" stroke="#17646b" stroke-width="0.85"/>
<line x1="138.7" y1="17.9" x2="145.1" y2="8.5" stroke="#a85c18" stroke-width="0.85"/>
<line x1="145.1" y1="8.5" x2="150.5" y2="0.6" stroke="#17646b" stroke-width="0.85"/>
<line x1="139.9" y1="18.7" x2="146.3" y2="9.4" stroke="#a85c18" stroke-width="0.85"/>
<line x1="146.3" y1="9.4" x2="151.7" y2="1.4" stroke="#17646b" stroke-width="0.85"/>
<line x1="141.2" y1="19.6" x2="147.6" y2="10.3" stroke="#a85c18" stroke-width="0.85"/>
<line x1="147.6" y1="10.3" x2="153" y2="2.3" stroke="#17646b" stroke-width="0.85"/>
<line x1="139.3" y1="18.3" x2="133" y2="26.7" stroke="#6e3c10" stroke-width="6.8"/>
<line x1="133" y1="26.7" x2="127.6" y2="33.9" stroke="#0c4046" stroke-width="6.8"/>
<line x1="141.1" y1="19.7" x2="134.8" y2="28.1" stroke="#a85c18" stroke-width="0.85"/>
<line x1="134.8" y1="28.1" x2="129.4" y2="35.3" stroke="#17646b" stroke-width="0.85"/>
<line x1="139.9" y1="18.8" x2="133.6" y2="27.2" stroke="#a85c18" stroke-width="0.85"/>
<line x1="133.6" y1="27.2" x2="128.2" y2="34.4" stroke="#17646b" stroke-width="0.85"/>
<line x1="138.7" y1="17.9" x2="132.4" y2="26.3" stroke="#a85c18" stroke-width="0.85"/>
<line x1="132.4" y1="26.3" x2="127" y2="33.4" stroke="#17646b" stroke-width="0.85"/>
<line x1="137.5" y1="16.9" x2="131.1" y2="25.3" stroke="#a85c18" stroke-width="0.85"/>
<line x1="131.1" y1="25.3" x2="125.8" y2="32.5" stroke="#17646b" stroke-width="0.85"/>
<line x1="177.2" y1="18.3" x2="183.6" y2="9" stroke="#6e3c10" stroke-width="6.8"/>
<line x1="183.6" y1="9" x2="189" y2="1" stroke="#0c4046" stroke-width="6.8"/>
<line x1="175.3" y1="17" x2="181.7" y2="7.7" stroke="#a85c18" stroke-width="0.85"/>
<line x1="181.7" y1="7.7" x2="187.1" y2="-0.3" stroke="#17646b" stroke-width="0.85"/>
<line x1="176.6" y1="17.9" x2="183" y2="8.5" stroke="#a85c18" stroke-width="0.85"/>
<line x1="183" y1="8.5" x2="188.4" y2="0.6" stroke="#17646b" stroke-width="0.85"/>
<line x1="177.8" y1="18.7" x2="184.2" y2="9.4" stroke="#a85c18" stroke-width="0.85"/>
<line x1="184.2" y1="9.4" x2="189.6" y2="1.4" stroke="#17646b" stroke-width="0.85"/>
<line x1="179.1" y1="19.6" x2="185.5" y2="10.3" stroke="#a85c18" stroke-width="0.85"/>
<line x1="185.5" y1="10.3" x2="190.9" y2="2.3" stroke="#17646b" stroke-width="0.85"/>
<line x1="177.2" y1="18.3" x2="170.9" y2="26.7" stroke="#6e3c10" stroke-width="6.8"/>
<line x1="170.9" y1="26.7" x2="165.5" y2="33.9" stroke="#0c4046" stroke-width="6.8"/>
<line x1="179" y1="19.7" x2="172.7" y2="28.1" stroke="#a85c18" stroke-width="0.85"/>
<line x1="172.7" y1="28.1" x2="167.3" y2="35.3" stroke="#17646b" stroke-width="0.85"/>
<line x1="177.8" y1="18.8" x2="171.5" y2="27.2" stroke="#a85c18" stroke-width="0.85"/>
<line x1="171.5" y1="27.2" x2="166.1" y2="34.4" stroke="#17646b" stroke-width="0.85"/>
<line x1="176.6" y1="17.9" x2="170.3" y2="26.3" stroke="#a85c18" stroke-width="0.85"/>
<line x1="170.3" y1="26.3" x2="164.9" y2="33.4" stroke="#17646b" stroke-width="0.85"/>
<line x1="175.4" y1="16.9" x2="169" y2="25.3" stroke="#a85c18" stroke-width="0.85"/>
<line x1="169" y1="25.3" x2="163.7" y2="32.5" stroke="#17646b" stroke-width="0.85"/>
<line x1="215.1" y1="18.3" x2="221.5" y2="9" stroke="#6e3c10" stroke-width="6.8"/>
<line x1="221.5" y1="9" x2="226.9" y2="1" stroke="#0c4046" stroke-width="6.8"/>
<line x1="213.2" y1="17" x2="219.6" y2="7.7" stroke="#a85c18" stroke-width="0.85"/>
<line x1="219.6" y1="7.7" x2="225" y2="-0.3" stroke="#17646b" stroke-width="0.85"/>
<line x1="214.5" y1="17.9" x2="220.9" y2="8.5" stroke="#a85c18" stroke-width="0.85"/>
<line x1="220.9" y1="8.5" x2="226.3" y2="0.6" stroke="#17646b" stroke-width="0.85"/>
<line x1="215.7" y1="18.7" x2="222.1" y2="9.4" stroke="#a85c18" stroke-width="0.85"/>
<line x1="222.1" y1="9.4" x2="227.5" y2="1.4" stroke="#17646b" stroke-width="0.85"/>
<line x1="217" y1="19.6" x2="223.4" y2="10.3" stroke="#a85c18" stroke-width="0.85"/>
<line x1="223.4" y1="10.3" x2="228.8" y2="2.3" stroke="#17646b" stroke-width="0.85"/>
<line x1="215.1" y1="18.3" x2="208.8" y2="26.7" stroke="#6e3c10" stroke-width="6.8"/>
<line x1="208.8" y1="26.7" x2="203.4" y2="33.9" stroke="#0c4046" stroke-width="6.8"/>
<line x1="216.9" y1="19.7" x2="210.6" y2="28.1" stroke="#a85c18" stroke-width="0.85"/>
<line x1="210.6" y1="28.1" x2="205.2" y2="35.3" stroke="#17646b" stroke-width="0.85"/>
<line x1="215.7" y1="18.8" x2="209.4" y2="27.2" stroke="#a85c18" stroke-width="0.85"/>
<line x1="209.4" y1="27.2" x2="204" y2="34.4" stroke="#17646b" stroke-width="0.85"/>
<line x1="214.5" y1="17.9" x2="208.2" y2="26.3" stroke="#a85c18" stroke-width="0.85"/>
<line x1="208.2" y1="26.3" x2="202.8" y2="33.4" stroke="#17646b" stroke-width="0.85"/>
<line x1="213.3" y1="16.9" x2="206.9" y2="25.3" stroke="#a85c18" stroke-width="0.85"/>
<line x1="206.9" y1="25.3" x2="201.6" y2="32.5" stroke="#17646b" stroke-width="0.85"/>
<line x1="253" y1="18.3" x2="259.4" y2="9" stroke="#6e3c10" stroke-width="6.8"/>
<line x1="259.4" y1="9" x2="264.8" y2="1" stroke="#0c4046" stroke-width="6.8"/>
<line x1="251.1" y1="17" x2="257.5" y2="7.7" stroke="#a85c18" stroke-width="0.85"/>
<line x1="257.5" y1="7.7" x2="262.9" y2="-0.3" stroke="#17646b" stroke-width="0.85"/>
<line x1="252.4" y1="17.9" x2="258.8" y2="8.5" stroke="#a85c18" stroke-width="0.85"/>
<line x1="258.8" y1="8.5" x2="264.2" y2="0.6" stroke="#17646b" stroke-width="0.85"/>
<line x1="253.6" y1="18.7" x2="260" y2="9.4" stroke="#a85c18" stroke-width="0.85"/>
<line x1="260" y1="9.4" x2="265.4" y2="1.4" stroke="#17646b" stroke-width="0.85"/>
<line x1="254.9" y1="19.6" x2="261.3" y2="10.3" stroke="#a85c18" stroke-width="0.85"/>
<line x1="261.3" y1="10.3" x2="266.7" y2="2.3" stroke="#17646b" stroke-width="0.85"/>
<line x1="253" y1="18.3" x2="246.7" y2="26.7" stroke="#6e3c10" stroke-width="6.8"/>
<line x1="246.7" y1="26.7" x2="241.3" y2="33.9" stroke="#0c4046" stroke-width="6.8"/>
<line x1="254.8" y1="19.7" x2="248.5" y2="28.1" stroke="#a85c18" stroke-width="0.85"/>
<line x1="248.5" y1="28.1" x2="243.1" y2="35.3" stroke="#17646b" stroke-width="0.85"/>
<line x1="253.6" y1="18.8" x2="247.3" y2="27.2" stroke="#a85c18" stroke-width="0.85"/>
<line x1="247.3" y1="27.2" x2="241.9" y2="34.4" stroke="#17646b" stroke-width="0.85"/>
<line x1="252.4" y1="17.9" x2="246.1" y2="26.3" stroke="#a85c18" stroke-width="0.85"/>
<line x1="246.1" y1="26.3" x2="240.7" y2="33.4" stroke="#17646b" stroke-width="0.85"/>
<line x1="251.2" y1="16.9" x2="244.8" y2="25.3" stroke="#a85c18" stroke-width="0.85"/>
<line x1="244.8" y1="25.3" x2="239.5" y2="32.5" stroke="#17646b" stroke-width="0.85"/>
<line x1="290.9" y1="18.3" x2="297.3" y2="9" stroke="#6e3c10" stroke-width="6.8"/>
<line x1="297.3" y1="9" x2="302.7" y2="1" stroke="#0c4046" stroke-width="6.8"/>
<line x1="289" y1="17" x2="295.4" y2="7.7" stroke="#a85c18" stroke-width="0.85"/>
<line x1="295.4" y1="7.7" x2="300.8" y2="-0.3" stroke="#17646b" stroke-width="0.85"/>
<line x1="290.3" y1="17.9" x2="296.7" y2="8.5" stroke="#a85c18" stroke-width="0.85"/>
<line x1="296.7" y1="8.5" x2="302.1" y2="0.6" stroke="#17646b" stroke-width="0.85"/>
<line x1="291.5" y1="18.7" x2="297.9" y2="9.4" stroke="#a85c18" stroke-width="0.85"/>
<line x1="297.9" y1="9.4" x2="303.3" y2="1.4" stroke="#17646b" stroke-width="0.85"/>
<line x1="292.8" y1="19.6" x2="299.2" y2="10.3" stroke="#a85c18" stroke-width="0.85"/>
<line x1="299.2" y1="10.3" x2="304.6" y2="2.3" stroke="#17646b" stroke-width="0.85"/>
<line x1="290.9" y1="18.3" x2="284.6" y2="26.7" stroke="#6e3c10" stroke-width="6.8"/>
<line x1="284.6" y1="26.7" x2="279.2" y2="33.9" stroke="#0c4046" stroke-width="6.8"/>
<line x1="292.7" y1="19.7" x2="286.4" y2="28.1" stroke="#a85c18" stroke-width="0.85"/>
<line x1="286.4" y1="28.1" x2="281" y2="35.3" stroke="#17646b" stroke-width="0.85"/>
<line x1="291.5" y1="18.8" x2="285.2" y2="27.2" stroke="#a85c18" stroke-width="0.85"/>
<line x1="285.2" y1="27.2" x2="279.8" y2="34.4" stroke="#17646b" stroke-width="0.85"/>
<line x1="290.3" y1="17.8" x2="284" y2="26.3" stroke="#a85c18" stroke-width="0.85"/>
<line x1="284" y1="26.3" x2="278.6" y2="33.4" stroke="#17646b" stroke-width="0.85"/>
<line x1="289.1" y1="16.9" x2="282.7" y2="25.3" stroke="#a85c18" stroke-width="0.85"/>
<line x1="282.7" y1="25.3" x2="277.4" y2="32.5" stroke="#17646b" stroke-width="0.85"/>
<circle cx="-2.2" cy="-1.5" r="4.4" fill="url(#gSe)"/>
<circle cx="0.2" cy="0.1" r="4.6" fill="url(#gSe)"/>
<circle cx="2.3" cy="1.6" r="4.5" fill="url(#gSe)"/>
<circle cx="35.7" cy="-1.5" r="4.4" fill="url(#gSe)"/>
<circle cx="38.1" cy="0.1" r="4.6" fill="url(#gSe)"/>
<circle cx="40.2" cy="1.6" r="4.5" fill="url(#gSe)"/>
<circle cx="73.6" cy="-1.5" r="4.4" fill="url(#gSe)"/>
<circle cx="76" cy="0.1" r="4.6" fill="url(#gSe)"/>
<circle cx="78.1" cy="1.6" r="4.5" fill="url(#gSe)"/>
<circle cx="111.5" cy="-1.5" r="4.4" fill="url(#gSe)"/>
<circle cx="113.9" cy="0.1" r="4.6" fill="url(#gSe)"/>
<circle cx="116" cy="1.6" r="4.5" fill="url(#gSe)"/>
<circle cx="149.4" cy="-1.5" r="4.4" fill="url(#gSe)"/>
<circle cx="151.8" cy="0.1" r="4.6" fill="url(#gSe)"/>
<circle cx="153.9" cy="1.6" r="4.5" fill="url(#gSe)"/>
<circle cx="187.3" cy="-1.5" r="4.4" fill="url(#gSe)"/>
<circle cx="189.7" cy="0.1" r="4.6" fill="url(#gSe)"/>
<circle cx="191.8" cy="1.6" r="4.5" fill="url(#gSe)"/>
<circle cx="225.2" cy="-1.5" r="4.4" fill="url(#gSe)"/>
<circle cx="227.6" cy="0.1" r="4.6" fill="url(#gSe)"/>
<circle cx="229.7" cy="1.6" r="4.5" fill="url(#gSe)"/>
<circle cx="263.1" cy="-1.5" r="4.4" fill="url(#gSe)"/>
<circle cx="265.5" cy="0.1" r="4.6" fill="url(#gSe)"/>
<circle cx="267.6" cy="1.6" r="4.5" fill="url(#gSe)"/>
<circle cx="301" cy="-1.5" r="4.4" fill="url(#gSe)"/>
<circle cx="303.4" cy="0.1" r="4.6" fill="url(#gSe)"/>
<circle cx="305.5" cy="1.6" r="4.5" fill="url(#gSe)"/>
<circle cx="11.2" cy="33.4" r="4.4" fill="url(#gSe)"/>
<circle cx="13.6" cy="35" r="4.6" fill="url(#gSe)"/>
<circle cx="15.7" cy="36.5" r="4.5" fill="url(#gSe)"/>
<circle cx="49.1" cy="33.4" r="4.4" fill="url(#gSe)"/>
<circle cx="51.5" cy="35" r="4.6" fill="url(#gSe)"/>
<circle cx="53.6" cy="36.5" r="4.5" fill="url(#gSe)"/>
<circle cx="87" cy="33.4" r="4.4" fill="url(#gSe)"/>
<circle cx="89.4" cy="35" r="4.6" fill="url(#gSe)"/>
<circle cx="91.5" cy="36.5" r="4.5" fill="url(#gSe)"/>
<circle cx="124.9" cy="33.4" r="4.4" fill="url(#gSe)"/>
<circle cx="127.3" cy="35" r="4.6" fill="url(#gSe)"/>
<circle cx="129.4" cy="36.5" r="4.5" fill="url(#gSe)"/>
<circle cx="162.8" cy="33.4" r="4.4" fill="url(#gSe)"/>
<circle cx="165.2" cy="35" r="4.6" fill="url(#gSe)"/>
<circle cx="167.3" cy="36.5" r="4.5" fill="url(#gSe)"/>
<circle cx="200.7" cy="33.4" r="4.4" fill="url(#gSe)"/>
<circle cx="203.1" cy="35" r="4.6" fill="url(#gSe)"/>
<circle cx="205.2" cy="36.5" r="4.5" fill="url(#gSe)"/>
<circle cx="238.6" cy="33.4" r="4.4" fill="url(#gSe)"/>
<circle cx="241" cy="35" r="4.6" fill="url(#gSe)"/>
<circle cx="243.1" cy="36.5" r="4.5" fill="url(#gSe)"/>
<circle cx="276.5" cy="33.4" r="4.4" fill="url(#gSe)"/>
<circle cx="278.9" cy="35" r="4.6" fill="url(#gSe)"/>
<circle cx="281" cy="36.5" r="4.5" fill="url(#gSe)"/>
<circle cx="314.4" cy="33.4" r="4.4" fill="url(#gSe)"/>
<circle cx="316.8" cy="35" r="4.6" fill="url(#gSe)"/>
<circle cx="318.9" cy="36.5" r="4.5" fill="url(#gSe)"/>
<circle cx="23.6" cy="16.1" r="2.6" fill="url(#gSn)"/>
<circle cx="25.9" cy="18.1" r="2.9" fill="url(#gSn)"/>
<circle cx="28.4" cy="19.9" r="2.8" fill="url(#gSn)"/>
<circle cx="61.5" cy="16.1" r="2.6" fill="url(#gSn)"/>
<circle cx="63.8" cy="18.1" r="2.9" fill="url(#gSn)"/>
<circle cx="66.3" cy="19.9" r="2.8" fill="url(#gSn)"/>
<circle cx="99.4" cy="16.1" r="2.6" fill="url(#gSn)"/>
<circle cx="101.7" cy="18.1" r="2.9" fill="url(#gSn)"/>
<circle cx="104.2" cy="19.9" r="2.8" fill="url(#gSn)"/>
<circle cx="137.3" cy="16.1" r="2.6" fill="url(#gSn)"/>
<circle cx="139.6" cy="18.1" r="2.9" fill="url(#gSn)"/>
<circle cx="142.1" cy="19.9" r="2.8" fill="url(#gSn)"/>
<circle cx="175.2" cy="16.1" r="2.6" fill="url(#gSn)"/>
<circle cx="177.5" cy="18.1" r="2.9" fill="url(#gSn)"/>
<circle cx="180" cy="19.9" r="2.8" fill="url(#gSn)"/>
<circle cx="213.1" cy="16.1" r="2.6" fill="url(#gSn)"/>
<circle cx="215.4" cy="18.1" r="2.9" fill="url(#gSn)"/>
<circle cx="217.9" cy="19.9" r="2.8" fill="url(#gSn)"/>
<circle cx="251" cy="16.1" r="2.6" fill="url(#gSn)"/>
<circle cx="253.3" cy="18.1" r="2.9" fill="url(#gSn)"/>
<circle cx="255.8" cy="19.9" r="2.8" fill="url(#gSn)"/>
<circle cx="288.9" cy="16.1" r="2.6" fill="url(#gSn)"/>
<circle cx="291.2" cy="18.1" r="2.9" fill="url(#gSn)"/>
<circle cx="293.7" cy="19.9" r="2.8" fill="url(#gSn)"/>
</g>
<g id="c-l2" transform="translate(846.7,200) rotate(0.95)">
<line x1="25.6" y1="18.3" x2="13.8" y2="9.9" stroke="#9a5a22" stroke-width="2.0"/>
<line x1="13.8" y1="9.9" x2="2" y2="1.5" stroke="#1d6168" stroke-width="2.0"/>
<line x1="25.6" y1="18.3" x2="38" y2="26.1" stroke="#9a5a22" stroke-width="2.0"/>
<line x1="38" y1="26.1" x2="50.3" y2="33.9" stroke="#1d6168" stroke-width="2.0"/>
<line x1="63.5" y1="18.3" x2="51.7" y2="9.9" stroke="#9a5a22" stroke-width="2.0"/>
<line x1="51.7" y1="9.9" x2="39.9" y2="1.5" stroke="#1d6168" stroke-width="2.0"/>
<line x1="63.5" y1="18.3" x2="75.8" y2="26.1" stroke="#9a5a22" stroke-width="2.0"/>
<line x1="75.8" y1="26.1" x2="88.2" y2="33.9" stroke="#1d6168" stroke-width="2.0"/>
<line x1="101.4" y1="18.3" x2="89.6" y2="9.9" stroke="#9a5a22" stroke-width="2.0"/>
<line x1="89.6" y1="9.9" x2="77.8" y2="1.5" stroke="#1d6168" stroke-width="2.0"/>
<line x1="101.4" y1="18.3" x2="113.8" y2="26.1" stroke="#9a5a22" stroke-width="2.0"/>
<line x1="113.8" y1="26.1" x2="126.1" y2="33.9" stroke="#1d6168" stroke-width="2.0"/>
<line x1="139.3" y1="18.3" x2="127.5" y2="9.9" stroke="#9a5a22" stroke-width="2.0"/>
<line x1="127.5" y1="9.9" x2="115.7" y2="1.5" stroke="#1d6168" stroke-width="2.0"/>
<line x1="139.3" y1="18.3" x2="151.6" y2="26.1" stroke="#9a5a22" stroke-width="2.0"/>
<line x1="151.6" y1="26.1" x2="164" y2="33.9" stroke="#1d6168" stroke-width="2.0"/>
<line x1="177.2" y1="18.3" x2="165.4" y2="9.9" stroke="#9a5a22" stroke-width="2.0"/>
<line x1="165.4" y1="9.9" x2="153.6" y2="1.5" stroke="#1d6168" stroke-width="2.0"/>
<line x1="177.2" y1="18.3" x2="189.6" y2="26.1" stroke="#9a5a22" stroke-width="2.0"/>
<line x1="189.6" y1="26.1" x2="201.9" y2="33.9" stroke="#1d6168" stroke-width="2.0"/>
<line x1="215.1" y1="18.3" x2="203.3" y2="9.9" stroke="#9a5a22" stroke-width="2.0"/>
<line x1="203.3" y1="9.9" x2="191.5" y2="1.5" stroke="#1d6168" stroke-width="2.0"/>
<line x1="215.1" y1="18.3" x2="227.4" y2="26.1" stroke="#9a5a22" stroke-width="2.0"/>
<line x1="227.4" y1="26.1" x2="239.8" y2="33.9" stroke="#1d6168" stroke-width="2.0"/>
<line x1="253" y1="18.3" x2="241.2" y2="9.9" stroke="#9a5a22" stroke-width="2.0"/>
<line x1="241.2" y1="9.9" x2="229.4" y2="1.5" stroke="#1d6168" stroke-width="2.0"/>
<line x1="253" y1="18.3" x2="265.3" y2="26.1" stroke="#9a5a22" stroke-width="2.0"/>
<line x1="265.3" y1="26.1" x2="277.7" y2="33.9" stroke="#1d6168" stroke-width="2.0"/>
<line x1="290.9" y1="18.3" x2="279.1" y2="9.9" stroke="#9a5a22" stroke-width="2.0"/>
<line x1="279.1" y1="9.9" x2="267.3" y2="1.5" stroke="#1d6168" stroke-width="2.0"/>
<line x1="290.9" y1="18.3" x2="303.2" y2="26.1" stroke="#9a5a22" stroke-width="2.0"/>
<line x1="303.2" y1="26.1" x2="315.6" y2="33.9" stroke="#1d6168" stroke-width="2.0"/>
<line x1="25.6" y1="18.3" x2="32" y2="9" stroke="#6e3c10" stroke-width="6.8"/>
<line x1="32" y1="9" x2="37.4" y2="1" stroke="#0c4046" stroke-width="6.8"/>
<line x1="23.7" y1="17" x2="30.1" y2="7.7" stroke="#a85c18" stroke-width="0.85"/>
<line x1="30.1" y1="7.7" x2="35.5" y2="-0.3" stroke="#17646b" stroke-width="0.85"/>
<line x1="25" y1="17.9" x2="31.4" y2="8.5" stroke="#a85c18" stroke-width="0.85"/>
<line x1="31.4" y1="8.5" x2="36.8" y2="0.6" stroke="#17646b" stroke-width="0.85"/>
<line x1="26.2" y1="18.7" x2="32.6" y2="9.4" stroke="#a85c18" stroke-width="0.85"/>
<line x1="32.6" y1="9.4" x2="38" y2="1.4" stroke="#17646b" stroke-width="0.85"/>
<line x1="27.5" y1="19.6" x2="33.9" y2="10.3" stroke="#a85c18" stroke-width="0.85"/>
<line x1="33.9" y1="10.3" x2="39.3" y2="2.3" stroke="#17646b" stroke-width="0.85"/>
<line x1="25.6" y1="18.3" x2="19.3" y2="26.7" stroke="#6e3c10" stroke-width="6.8"/>
<line x1="19.3" y1="26.7" x2="13.9" y2="33.9" stroke="#0c4046" stroke-width="6.8"/>
<line x1="27.4" y1="19.7" x2="21.1" y2="28.1" stroke="#a85c18" stroke-width="0.85"/>
<line x1="21.1" y1="28.1" x2="15.7" y2="35.3" stroke="#17646b" stroke-width="0.85"/>
<line x1="26.2" y1="18.8" x2="19.9" y2="27.2" stroke="#a85c18" stroke-width="0.85"/>
<line x1="19.9" y1="27.2" x2="14.5" y2="34.4" stroke="#17646b" stroke-width="0.85"/>
<line x1="25" y1="17.9" x2="18.7" y2="26.3" stroke="#a85c18" stroke-width="0.85"/>
<line x1="18.7" y1="26.3" x2="13.3" y2="33.4" stroke="#17646b" stroke-width="0.85"/>
<line x1="23.8" y1="16.9" x2="17.4" y2="25.3" stroke="#a85c18" stroke-width="0.85"/>
<line x1="17.4" y1="25.3" x2="12.1" y2="32.5" stroke="#17646b" stroke-width="0.85"/>
<line x1="63.5" y1="18.3" x2="69.9" y2="9" stroke="#6e3c10" stroke-width="6.8"/>
<line x1="69.9" y1="9" x2="75.3" y2="1" stroke="#0c4046" stroke-width="6.8"/>
<line x1="61.6" y1="17" x2="68" y2="7.7" stroke="#a85c18" stroke-width="0.85"/>
<line x1="68" y1="7.7" x2="73.4" y2="-0.3" stroke="#17646b" stroke-width="0.85"/>
<line x1="62.9" y1="17.9" x2="69.3" y2="8.5" stroke="#a85c18" stroke-width="0.85"/>
<line x1="69.3" y1="8.5" x2="74.7" y2="0.6" stroke="#17646b" stroke-width="0.85"/>
<line x1="64.1" y1="18.7" x2="70.5" y2="9.4" stroke="#a85c18" stroke-width="0.85"/>
<line x1="70.5" y1="9.4" x2="75.9" y2="1.4" stroke="#17646b" stroke-width="0.85"/>
<line x1="65.4" y1="19.6" x2="71.8" y2="10.3" stroke="#a85c18" stroke-width="0.85"/>
<line x1="71.8" y1="10.3" x2="77.2" y2="2.3" stroke="#17646b" stroke-width="0.85"/>
<line x1="63.5" y1="18.3" x2="57.2" y2="26.7" stroke="#6e3c10" stroke-width="6.8"/>
<line x1="57.2" y1="26.7" x2="51.8" y2="33.9" stroke="#0c4046" stroke-width="6.8"/>
<line x1="65.3" y1="19.7" x2="59" y2="28.1" stroke="#a85c18" stroke-width="0.85"/>
<line x1="59" y1="28.1" x2="53.6" y2="35.3" stroke="#17646b" stroke-width="0.85"/>
<line x1="64.1" y1="18.8" x2="57.8" y2="27.2" stroke="#a85c18" stroke-width="0.85"/>
<line x1="57.8" y1="27.2" x2="52.4" y2="34.4" stroke="#17646b" stroke-width="0.85"/>
<line x1="62.9" y1="17.9" x2="56.6" y2="26.3" stroke="#a85c18" stroke-width="0.85"/>
<line x1="56.6" y1="26.3" x2="51.2" y2="33.4" stroke="#17646b" stroke-width="0.85"/>
<line x1="61.7" y1="16.9" x2="55.3" y2="25.3" stroke="#a85c18" stroke-width="0.85"/>
<line x1="55.3" y1="25.3" x2="50" y2="32.5" stroke="#17646b" stroke-width="0.85"/>
<line x1="101.4" y1="18.3" x2="107.8" y2="9" stroke="#6e3c10" stroke-width="6.8"/>
<line x1="107.8" y1="9" x2="113.2" y2="1" stroke="#0c4046" stroke-width="6.8"/>
<line x1="99.5" y1="17" x2="105.9" y2="7.7" stroke="#a85c18" stroke-width="0.85"/>
<line x1="105.9" y1="7.7" x2="111.3" y2="-0.3" stroke="#17646b" stroke-width="0.85"/>
<line x1="100.8" y1="17.9" x2="107.2" y2="8.5" stroke="#a85c18" stroke-width="0.85"/>
<line x1="107.2" y1="8.5" x2="112.6" y2="0.6" stroke="#17646b" stroke-width="0.85"/>
<line x1="102" y1="18.7" x2="108.4" y2="9.4" stroke="#a85c18" stroke-width="0.85"/>
<line x1="108.4" y1="9.4" x2="113.8" y2="1.4" stroke="#17646b" stroke-width="0.85"/>
<line x1="103.3" y1="19.6" x2="109.7" y2="10.3" stroke="#a85c18" stroke-width="0.85"/>
<line x1="109.7" y1="10.3" x2="115.1" y2="2.3" stroke="#17646b" stroke-width="0.85"/>
<line x1="101.4" y1="18.3" x2="95.1" y2="26.7" stroke="#6e3c10" stroke-width="6.8"/>
<line x1="95.1" y1="26.7" x2="89.7" y2="33.9" stroke="#0c4046" stroke-width="6.8"/>
<line x1="103.2" y1="19.7" x2="96.9" y2="28.1" stroke="#a85c18" stroke-width="0.85"/>
<line x1="96.9" y1="28.1" x2="91.5" y2="35.3" stroke="#17646b" stroke-width="0.85"/>
<line x1="102" y1="18.8" x2="95.7" y2="27.2" stroke="#a85c18" stroke-width="0.85"/>
<line x1="95.7" y1="27.2" x2="90.3" y2="34.4" stroke="#17646b" stroke-width="0.85"/>
<line x1="100.8" y1="17.9" x2="94.5" y2="26.3" stroke="#a85c18" stroke-width="0.85"/>
<line x1="94.5" y1="26.3" x2="89.1" y2="33.4" stroke="#17646b" stroke-width="0.85"/>
<line x1="99.6" y1="16.9" x2="93.2" y2="25.3" stroke="#a85c18" stroke-width="0.85"/>
<line x1="93.2" y1="25.3" x2="87.9" y2="32.5" stroke="#17646b" stroke-width="0.85"/>
<line x1="139.3" y1="18.3" x2="145.7" y2="9" stroke="#6e3c10" stroke-width="6.8"/>
<line x1="145.7" y1="9" x2="151.1" y2="1" stroke="#0c4046" stroke-width="6.8"/>
<line x1="137.4" y1="17" x2="143.8" y2="7.7" stroke="#a85c18" stroke-width="0.85"/>
<line x1="143.8" y1="7.7" x2="149.2" y2="-0.3" stroke="#17646b" stroke-width="0.85"/>
<line x1="138.7" y1="17.9" x2="145.1" y2="8.5" stroke="#a85c18" stroke-width="0.85"/>
<line x1="145.1" y1="8.5" x2="150.5" y2="0.6" stroke="#17646b" stroke-width="0.85"/>
<line x1="139.9" y1="18.7" x2="146.3" y2="9.4" stroke="#a85c18" stroke-width="0.85"/>
<line x1="146.3" y1="9.4" x2="151.7" y2="1.4" stroke="#17646b" stroke-width="0.85"/>
<line x1="141.2" y1="19.6" x2="147.6" y2="10.3" stroke="#a85c18" stroke-width="0.85"/>
<line x1="147.6" y1="10.3" x2="153" y2="2.3" stroke="#17646b" stroke-width="0.85"/>
<line x1="139.3" y1="18.3" x2="133" y2="26.7" stroke="#6e3c10" stroke-width="6.8"/>
<line x1="133" y1="26.7" x2="127.6" y2="33.9" stroke="#0c4046" stroke-width="6.8"/>
<line x1="141.1" y1="19.7" x2="134.8" y2="28.1" stroke="#a85c18" stroke-width="0.85"/>
<line x1="134.8" y1="28.1" x2="129.4" y2="35.3" stroke="#17646b" stroke-width="0.85"/>
<line x1="139.9" y1="18.8" x2="133.6" y2="27.2" stroke="#a85c18" stroke-width="0.85"/>
<line x1="133.6" y1="27.2" x2="128.2" y2="34.4" stroke="#17646b" stroke-width="0.85"/>
<line x1="138.7" y1="17.9" x2="132.4" y2="26.3" stroke="#a85c18" stroke-width="0.85"/>
<line x1="132.4" y1="26.3" x2="127" y2="33.4" stroke="#17646b" stroke-width="0.85"/>
<line x1="137.5" y1="16.9" x2="131.1" y2="25.3" stroke="#a85c18" stroke-width="0.85"/>
<line x1="131.1" y1="25.3" x2="125.8" y2="32.5" stroke="#17646b" stroke-width="0.85"/>
<line x1="177.2" y1="18.3" x2="183.6" y2="9" stroke="#6e3c10" stroke-width="6.8"/>
<line x1="183.6" y1="9" x2="189" y2="1" stroke="#0c4046" stroke-width="6.8"/>
<line x1="175.3" y1="17" x2="181.7" y2="7.7" stroke="#a85c18" stroke-width="0.85"/>
<line x1="181.7" y1="7.7" x2="187.1" y2="-0.3" stroke="#17646b" stroke-width="0.85"/>
<line x1="176.6" y1="17.9" x2="183" y2="8.5" stroke="#a85c18" stroke-width="0.85"/>
<line x1="183" y1="8.5" x2="188.4" y2="0.6" stroke="#17646b" stroke-width="0.85"/>
<line x1="177.8" y1="18.7" x2="184.2" y2="9.4" stroke="#a85c18" stroke-width="0.85"/>
<line x1="184.2" y1="9.4" x2="189.6" y2="1.4" stroke="#17646b" stroke-width="0.85"/>
<line x1="179.1" y1="19.6" x2="185.5" y2="10.3" stroke="#a85c18" stroke-width="0.85"/>
<line x1="185.5" y1="10.3" x2="190.9" y2="2.3" stroke="#17646b" stroke-width="0.85"/>
<line x1="177.2" y1="18.3" x2="170.9" y2="26.7" stroke="#6e3c10" stroke-width="6.8"/>
<line x1="170.9" y1="26.7" x2="165.5" y2="33.9" stroke="#0c4046" stroke-width="6.8"/>
<line x1="179" y1="19.7" x2="172.7" y2="28.1" stroke="#a85c18" stroke-width="0.85"/>
<line x1="172.7" y1="28.1" x2="167.3" y2="35.3" stroke="#17646b" stroke-width="0.85"/>
<line x1="177.8" y1="18.8" x2="171.5" y2="27.2" stroke="#a85c18" stroke-width="0.85"/>
<line x1="171.5" y1="27.2" x2="166.1" y2="34.4" stroke="#17646b" stroke-width="0.85"/>
<line x1="176.6" y1="17.9" x2="170.3" y2="26.3" stroke="#a85c18" stroke-width="0.85"/>
<line x1="170.3" y1="26.3" x2="164.9" y2="33.4" stroke="#17646b" stroke-width="0.85"/>
<line x1="175.4" y1="16.9" x2="169" y2="25.3" stroke="#a85c18" stroke-width="0.85"/>
<line x1="169" y1="25.3" x2="163.7" y2="32.5" stroke="#17646b" stroke-width="0.85"/>
<line x1="215.1" y1="18.3" x2="221.5" y2="9" stroke="#6e3c10" stroke-width="6.8"/>
<line x1="221.5" y1="9" x2="226.9" y2="1" stroke="#0c4046" stroke-width="6.8"/>
<line x1="213.2" y1="17" x2="219.6" y2="7.7" stroke="#a85c18" stroke-width="0.85"/>
<line x1="219.6" y1="7.7" x2="225" y2="-0.3" stroke="#17646b" stroke-width="0.85"/>
<line x1="214.5" y1="17.9" x2="220.9" y2="8.5" stroke="#a85c18" stroke-width="0.85"/>
<line x1="220.9" y1="8.5" x2="226.3" y2="0.6" stroke="#17646b" stroke-width="0.85"/>
<line x1="215.7" y1="18.7" x2="222.1" y2="9.4" stroke="#a85c18" stroke-width="0.85"/>
<line x1="222.1" y1="9.4" x2="227.5" y2="1.4" stroke="#17646b" stroke-width="0.85"/>
<line x1="217" y1="19.6" x2="223.4" y2="10.3" stroke="#a85c18" stroke-width="0.85"/>
<line x1="223.4" y1="10.3" x2="228.8" y2="2.3" stroke="#17646b" stroke-width="0.85"/>
<line x1="215.1" y1="18.3" x2="208.8" y2="26.7" stroke="#6e3c10" stroke-width="6.8"/>
<line x1="208.8" y1="26.7" x2="203.4" y2="33.9" stroke="#0c4046" stroke-width="6.8"/>
<line x1="216.9" y1="19.7" x2="210.6" y2="28.1" stroke="#a85c18" stroke-width="0.85"/>
<line x1="210.6" y1="28.1" x2="205.2" y2="35.3" stroke="#17646b" stroke-width="0.85"/>
<line x1="215.7" y1="18.8" x2="209.4" y2="27.2" stroke="#a85c18" stroke-width="0.85"/>
<line x1="209.4" y1="27.2" x2="204" y2="34.4" stroke="#17646b" stroke-width="0.85"/>
<line x1="214.5" y1="17.9" x2="208.2" y2="26.3" stroke="#a85c18" stroke-width="0.85"/>
<line x1="208.2" y1="26.3" x2="202.8" y2="33.4" stroke="#17646b" stroke-width="0.85"/>
<line x1="213.3" y1="16.9" x2="206.9" y2="25.3" stroke="#a85c18" stroke-width="0.85"/>
<line x1="206.9" y1="25.3" x2="201.6" y2="32.5" stroke="#17646b" stroke-width="0.85"/>
<line x1="253" y1="18.3" x2="259.4" y2="9" stroke="#6e3c10" stroke-width="6.8"/>
<line x1="259.4" y1="9" x2="264.8" y2="1" stroke="#0c4046" stroke-width="6.8"/>
<line x1="251.1" y1="17" x2="257.5" y2="7.7" stroke="#a85c18" stroke-width="0.85"/>
<line x1="257.5" y1="7.7" x2="262.9" y2="-0.3" stroke="#17646b" stroke-width="0.85"/>
<line x1="252.4" y1="17.9" x2="258.8" y2="8.5" stroke="#a85c18" stroke-width="0.85"/>
<line x1="258.8" y1="8.5" x2="264.2" y2="0.6" stroke="#17646b" stroke-width="0.85"/>
<line x1="253.6" y1="18.7" x2="260" y2="9.4" stroke="#a85c18" stroke-width="0.85"/>
<line x1="260" y1="9.4" x2="265.4" y2="1.4" stroke="#17646b" stroke-width="0.85"/>
<line x1="254.9" y1="19.6" x2="261.3" y2="10.3" stroke="#a85c18" stroke-width="0.85"/>
<line x1="261.3" y1="10.3" x2="266.7" y2="2.3" stroke="#17646b" stroke-width="0.85"/>
<line x1="253" y1="18.3" x2="246.7" y2="26.7" stroke="#6e3c10" stroke-width="6.8"/>
<line x1="246.7" y1="26.7" x2="241.3" y2="33.9" stroke="#0c4046" stroke-width="6.8"/>
<line x1="254.8" y1="19.7" x2="248.5" y2="28.1" stroke="#a85c18" stroke-width="0.85"/>
<line x1="248.5" y1="28.1" x2="243.1" y2="35.3" stroke="#17646b" stroke-width="0.85"/>
<line x1="253.6" y1="18.8" x2="247.3" y2="27.2" stroke="#a85c18" stroke-width="0.85"/>
<line x1="247.3" y1="27.2" x2="241.9" y2="34.4" stroke="#17646b" stroke-width="0.85"/>
<line x1="252.4" y1="17.9" x2="246.1" y2="26.3" stroke="#a85c18" stroke-width="0.85"/>
<line x1="246.1" y1="26.3" x2="240.7" y2="33.4" stroke="#17646b" stroke-width="0.85"/>
<line x1="251.2" y1="16.9" x2="244.8" y2="25.3" stroke="#a85c18" stroke-width="0.85"/>
<line x1="244.8" y1="25.3" x2="239.5" y2="32.5" stroke="#17646b" stroke-width="0.85"/>
<line x1="290.9" y1="18.3" x2="297.3" y2="9" stroke="#6e3c10" stroke-width="6.8"/>
<line x1="297.3" y1="9" x2="302.7" y2="1" stroke="#0c4046" stroke-width="6.8"/>
<line x1="289" y1="17" x2="295.4" y2="7.7" stroke="#a85c18" stroke-width="0.85"/>
<line x1="295.4" y1="7.7" x2="300.8" y2="-0.3" stroke="#17646b" stroke-width="0.85"/>
<line x1="290.3" y1="17.9" x2="296.7" y2="8.5" stroke="#a85c18" stroke-width="0.85"/>
<line x1="296.7" y1="8.5" x2="302.1" y2="0.6" stroke="#17646b" stroke-width="0.85"/>
<line x1="291.5" y1="18.7" x2="297.9" y2="9.4" stroke="#a85c18" stroke-width="0.85"/>
<line x1="297.9" y1="9.4" x2="303.3" y2="1.4" stroke="#17646b" stroke-width="0.85"/>
<line x1="292.8" y1="19.6" x2="299.2" y2="10.3" stroke="#a85c18" stroke-width="0.85"/>
<line x1="299.2" y1="10.3" x2="304.6" y2="2.3" stroke="#17646b" stroke-width="0.85"/>
<line x1="290.9" y1="18.3" x2="284.6" y2="26.7" stroke="#6e3c10" stroke-width="6.8"/>
<line x1="284.6" y1="26.7" x2="279.2" y2="33.9" stroke="#0c4046" stroke-width="6.8"/>
<line x1="292.7" y1="19.7" x2="286.4" y2="28.1" stroke="#a85c18" stroke-width="0.85"/>
<line x1="286.4" y1="28.1" x2="281" y2="35.3" stroke="#17646b" stroke-width="0.85"/>
<line x1="291.5" y1="18.8" x2="285.2" y2="27.2" stroke="#a85c18" stroke-width="0.85"/>
<line x1="285.2" y1="27.2" x2="279.8" y2="34.4" stroke="#17646b" stroke-width="0.85"/>
<line x1="290.3" y1="17.8" x2="284" y2="26.3" stroke="#a85c18" stroke-width="0.85"/>
<line x1="284" y1="26.3" x2="278.6" y2="33.4" stroke="#17646b" stroke-width="0.85"/>
<line x1="289.1" y1="16.9" x2="282.7" y2="25.3" stroke="#a85c18" stroke-width="0.85"/>
<line x1="282.7" y1="25.3" x2="277.4" y2="32.5" stroke="#17646b" stroke-width="0.85"/>
<circle cx="-2.2" cy="-1.5" r="4.4" fill="url(#gSe)"/>
<circle cx="0.2" cy="0.1" r="4.6" fill="url(#gSe)"/>
<circle cx="2.3" cy="1.6" r="4.5" fill="url(#gSe)"/>
<circle cx="35.7" cy="-1.5" r="4.4" fill="url(#gSe)"/>
<circle cx="38.1" cy="0.1" r="4.6" fill="url(#gSe)"/>
<circle cx="40.2" cy="1.6" r="4.5" fill="url(#gSe)"/>
<circle cx="73.6" cy="-1.5" r="4.4" fill="url(#gSe)"/>
<circle cx="76" cy="0.1" r="4.6" fill="url(#gSe)"/>
<circle cx="78.1" cy="1.6" r="4.5" fill="url(#gSe)"/>
<circle cx="111.5" cy="-1.5" r="4.4" fill="url(#gSe)"/>
<circle cx="113.9" cy="0.1" r="4.6" fill="url(#gSe)"/>
<circle cx="116" cy="1.6" r="4.5" fill="url(#gSe)"/>
<circle cx="149.4" cy="-1.5" r="4.4" fill="url(#gSe)"/>
<circle cx="151.8" cy="0.1" r="4.6" fill="url(#gSe)"/>
<circle cx="153.9" cy="1.6" r="4.5" fill="url(#gSe)"/>
<circle cx="187.3" cy="-1.5" r="4.4" fill="url(#gSe)"/>
<circle cx="189.7" cy="0.1" r="4.6" fill="url(#gSe)"/>
<circle cx="191.8" cy="1.6" r="4.5" fill="url(#gSe)"/>
<circle cx="225.2" cy="-1.5" r="4.4" fill="url(#gSe)"/>
<circle cx="227.6" cy="0.1" r="4.6" fill="url(#gSe)"/>
<circle cx="229.7" cy="1.6" r="4.5" fill="url(#gSe)"/>
<circle cx="263.1" cy="-1.5" r="4.4" fill="url(#gSe)"/>
<circle cx="265.5" cy="0.1" r="4.6" fill="url(#gSe)"/>
<circle cx="267.6" cy="1.6" r="4.5" fill="url(#gSe)"/>
<circle cx="301" cy="-1.5" r="4.4" fill="url(#gSe)"/>
<circle cx="303.4" cy="0.1" r="4.6" fill="url(#gSe)"/>
<circle cx="305.5" cy="1.6" r="4.5" fill="url(#gSe)"/>
<circle cx="11.2" cy="33.4" r="4.4" fill="url(#gSe)"/>
<circle cx="13.6" cy="35" r="4.6" fill="url(#gSe)"/>
<circle cx="15.7" cy="36.5" r="4.5" fill="url(#gSe)"/>
<circle cx="49.1" cy="33.4" r="4.4" fill="url(#gSe)"/>
<circle cx="51.5" cy="35" r="4.6" fill="url(#gSe)"/>
<circle cx="53.6" cy="36.5" r="4.5" fill="url(#gSe)"/>
<circle cx="87" cy="33.4" r="4.4" fill="url(#gSe)"/>
<circle cx="89.4" cy="35" r="4.6" fill="url(#gSe)"/>
<circle cx="91.5" cy="36.5" r="4.5" fill="url(#gSe)"/>
<circle cx="124.9" cy="33.4" r="4.4" fill="url(#gSe)"/>
<circle cx="127.3" cy="35" r="4.6" fill="url(#gSe)"/>
<circle cx="129.4" cy="36.5" r="4.5" fill="url(#gSe)"/>
<circle cx="162.8" cy="33.4" r="4.4" fill="url(#gSe)"/>
<circle cx="165.2" cy="35" r="4.6" fill="url(#gSe)"/>
<circle cx="167.3" cy="36.5" r="4.5" fill="url(#gSe)"/>
<circle cx="200.7" cy="33.4" r="4.4" fill="url(#gSe)"/>
<circle cx="203.1" cy="35" r="4.6" fill="url(#gSe)"/>
<circle cx="205.2" cy="36.5" r="4.5" fill="url(#gSe)"/>
<circle cx="238.6" cy="33.4" r="4.4" fill="url(#gSe)"/>
<circle cx="241" cy="35" r="4.6" fill="url(#gSe)"/>
<circle cx="243.1" cy="36.5" r="4.5" fill="url(#gSe)"/>
<circle cx="276.5" cy="33.4" r="4.4" fill="url(#gSe)"/>
<circle cx="278.9" cy="35" r="4.6" fill="url(#gSe)"/>
<circle cx="281" cy="36.5" r="4.5" fill="url(#gSe)"/>
<circle cx="314.4" cy="33.4" r="4.4" fill="url(#gSe)"/>
<circle cx="316.8" cy="35" r="4.6" fill="url(#gSe)"/>
<circle cx="318.9" cy="36.5" r="4.5" fill="url(#gSe)"/>
<circle cx="23.6" cy="16.1" r="2.6" fill="url(#gSn)"/>
<circle cx="25.9" cy="18.1" r="2.9" fill="url(#gSn)"/>
<circle cx="28.4" cy="19.9" r="2.8" fill="url(#gSn)"/>
<circle cx="61.5" cy="16.1" r="2.6" fill="url(#gSn)"/>
<circle cx="63.8" cy="18.1" r="2.9" fill="url(#gSn)"/>
<circle cx="66.3" cy="19.9" r="2.8" fill="url(#gSn)"/>
<circle cx="99.4" cy="16.1" r="2.6" fill="url(#gSn)"/>
<circle cx="101.7" cy="18.1" r="2.9" fill="url(#gSn)"/>
<circle cx="104.2" cy="19.9" r="2.8" fill="url(#gSn)"/>
<circle cx="137.3" cy="16.1" r="2.6" fill="url(#gSn)"/>
<circle cx="139.6" cy="18.1" r="2.9" fill="url(#gSn)"/>
<circle cx="142.1" cy="19.9" r="2.8" fill="url(#gSn)"/>
<circle cx="175.2" cy="16.1" r="2.6" fill="url(#gSn)"/>
<circle cx="177.5" cy="18.1" r="2.9" fill="url(#gSn)"/>
<circle cx="180" cy="19.9" r="2.8" fill="url(#gSn)"/>
<circle cx="213.1" cy="16.1" r="2.6" fill="url(#gSn)"/>
<circle cx="215.4" cy="18.1" r="2.9" fill="url(#gSn)"/>
<circle cx="217.9" cy="19.9" r="2.8" fill="url(#gSn)"/>
<circle cx="251" cy="16.1" r="2.6" fill="url(#gSn)"/>
<circle cx="253.3" cy="18.1" r="2.9" fill="url(#gSn)"/>
<circle cx="255.8" cy="19.9" r="2.8" fill="url(#gSn)"/>
<circle cx="288.9" cy="16.1" r="2.6" fill="url(#gSn)"/>
<circle cx="291.2" cy="18.1" r="2.9" fill="url(#gSn)"/>
<circle cx="293.7" cy="19.9" r="2.8" fill="url(#gSn)"/>
</g>
<g id="c-l3" transform="translate(846.7,373.8) rotate(0.95)">
<line x1="25.6" y1="18.3" x2="13.8" y2="9.9" stroke="#9a5a22" stroke-width="2.0"/>
<line x1="13.8" y1="9.9" x2="2" y2="1.5" stroke="#1d6168" stroke-width="2.0"/>
<line x1="25.6" y1="18.3" x2="38" y2="26.1" stroke="#9a5a22" stroke-width="2.0"/>
<line x1="38" y1="26.1" x2="50.3" y2="33.9" stroke="#1d6168" stroke-width="2.0"/>
<line x1="63.5" y1="18.3" x2="51.7" y2="9.9" stroke="#9a5a22" stroke-width="2.0"/>
<line x1="51.7" y1="9.9" x2="39.9" y2="1.5" stroke="#1d6168" stroke-width="2.0"/>
<line x1="63.5" y1="18.3" x2="75.8" y2="26.1" stroke="#9a5a22" stroke-width="2.0"/>
<line x1="75.8" y1="26.1" x2="88.2" y2="33.9" stroke="#1d6168" stroke-width="2.0"/>
<line x1="101.4" y1="18.3" x2="89.6" y2="9.9" stroke="#9a5a22" stroke-width="2.0"/>
<line x1="89.6" y1="9.9" x2="77.8" y2="1.5" stroke="#1d6168" stroke-width="2.0"/>
<line x1="101.4" y1="18.3" x2="113.8" y2="26.1" stroke="#9a5a22" stroke-width="2.0"/>
<line x1="113.8" y1="26.1" x2="126.1" y2="33.9" stroke="#1d6168" stroke-width="2.0"/>
<line x1="139.3" y1="18.3" x2="127.5" y2="9.9" stroke="#9a5a22" stroke-width="2.0"/>
<line x1="127.5" y1="9.9" x2="115.7" y2="1.5" stroke="#1d6168" stroke-width="2.0"/>
<line x1="139.3" y1="18.3" x2="151.6" y2="26.1" stroke="#9a5a22" stroke-width="2.0"/>
<line x1="151.6" y1="26.1" x2="164" y2="33.9" stroke="#1d6168" stroke-width="2.0"/>
<line x1="177.2" y1="18.3" x2="165.4" y2="9.9" stroke="#9a5a22" stroke-width="2.0"/>
<line x1="165.4" y1="9.9" x2="153.6" y2="1.5" stroke="#1d6168" stroke-width="2.0"/>
<line x1="177.2" y1="18.3" x2="189.6" y2="26.1" stroke="#9a5a22" stroke-width="2.0"/>
<line x1="189.6" y1="26.1" x2="201.9" y2="33.9" stroke="#1d6168" stroke-width="2.0"/>
<line x1="215.1" y1="18.3" x2="203.3" y2="9.9" stroke="#9a5a22" stroke-width="2.0"/>
<line x1="203.3" y1="9.9" x2="191.5" y2="1.5" stroke="#1d6168" stroke-width="2.0"/>
<line x1="215.1" y1="18.3" x2="227.4" y2="26.1" stroke="#9a5a22" stroke-width="2.0"/>
<line x1="227.4" y1="26.1" x2="239.8" y2="33.9" stroke="#1d6168" stroke-width="2.0"/>
<line x1="253" y1="18.3" x2="241.2" y2="9.9" stroke="#9a5a22" stroke-width="2.0"/>
<line x1="241.2" y1="9.9" x2="229.4" y2="1.5" stroke="#1d6168" stroke-width="2.0"/>
<line x1="253" y1="18.3" x2="265.3" y2="26.1" stroke="#9a5a22" stroke-width="2.0"/>
<line x1="265.3" y1="26.1" x2="277.7" y2="33.9" stroke="#1d6168" stroke-width="2.0"/>
<line x1="290.9" y1="18.3" x2="279.1" y2="9.9" stroke="#9a5a22" stroke-width="2.0"/>
<line x1="279.1" y1="9.9" x2="267.3" y2="1.5" stroke="#1d6168" stroke-width="2.0"/>
<line x1="290.9" y1="18.3" x2="303.2" y2="26.1" stroke="#9a5a22" stroke-width="2.0"/>
<line x1="303.2" y1="26.1" x2="315.6" y2="33.9" stroke="#1d6168" stroke-width="2.0"/>
<line x1="25.6" y1="18.3" x2="32" y2="9" stroke="#6e3c10" stroke-width="6.8"/>
<line x1="32" y1="9" x2="37.4" y2="1" stroke="#0c4046" stroke-width="6.8"/>
<line x1="23.7" y1="17" x2="30.1" y2="7.7" stroke="#a85c18" stroke-width="0.85"/>
<line x1="30.1" y1="7.7" x2="35.5" y2="-0.3" stroke="#17646b" stroke-width="0.85"/>
<line x1="25" y1="17.9" x2="31.4" y2="8.5" stroke="#a85c18" stroke-width="0.85"/>
<line x1="31.4" y1="8.5" x2="36.8" y2="0.6" stroke="#17646b" stroke-width="0.85"/>
<line x1="26.2" y1="18.7" x2="32.6" y2="9.4" stroke="#a85c18" stroke-width="0.85"/>
<line x1="32.6" y1="9.4" x2="38" y2="1.4" stroke="#17646b" stroke-width="0.85"/>
<line x1="27.5" y1="19.6" x2="33.9" y2="10.3" stroke="#a85c18" stroke-width="0.85"/>
<line x1="33.9" y1="10.3" x2="39.3" y2="2.3" stroke="#17646b" stroke-width="0.85"/>
<line x1="25.6" y1="18.3" x2="19.3" y2="26.7" stroke="#6e3c10" stroke-width="6.8"/>
<line x1="19.3" y1="26.7" x2="13.9" y2="33.9" stroke="#0c4046" stroke-width="6.8"/>
<line x1="27.4" y1="19.7" x2="21.1" y2="28.1" stroke="#a85c18" stroke-width="0.85"/>
<line x1="21.1" y1="28.1" x2="15.7" y2="35.3" stroke="#17646b" stroke-width="0.85"/>
<line x1="26.2" y1="18.8" x2="19.9" y2="27.2" stroke="#a85c18" stroke-width="0.85"/>
<line x1="19.9" y1="27.2" x2="14.5" y2="34.4" stroke="#17646b" stroke-width="0.85"/>
<line x1="25" y1="17.9" x2="18.7" y2="26.3" stroke="#a85c18" stroke-width="0.85"/>
<line x1="18.7" y1="26.3" x2="13.3" y2="33.4" stroke="#17646b" stroke-width="0.85"/>
<line x1="23.8" y1="16.9" x2="17.4" y2="25.3" stroke="#a85c18" stroke-width="0.85"/>
<line x1="17.4" y1="25.3" x2="12.1" y2="32.5" stroke="#17646b" stroke-width="0.85"/>
<line x1="63.5" y1="18.3" x2="69.9" y2="9" stroke="#6e3c10" stroke-width="6.8"/>
<line x1="69.9" y1="9" x2="75.3" y2="1" stroke="#0c4046" stroke-width="6.8"/>
<line x1="61.6" y1="17" x2="68" y2="7.7" stroke="#a85c18" stroke-width="0.85"/>
<line x1="68" y1="7.7" x2="73.4" y2="-0.3" stroke="#17646b" stroke-width="0.85"/>
<line x1="62.9" y1="17.9" x2="69.3" y2="8.5" stroke="#a85c18" stroke-width="0.85"/>
<line x1="69.3" y1="8.5" x2="74.7" y2="0.6" stroke="#17646b" stroke-width="0.85"/>
<line x1="64.1" y1="18.7" x2="70.5" y2="9.4" stroke="#a85c18" stroke-width="0.85"/>
<line x1="70.5" y1="9.4" x2="75.9" y2="1.4" stroke="#17646b" stroke-width="0.85"/>
<line x1="65.4" y1="19.6" x2="71.8" y2="10.3" stroke="#a85c18" stroke-width="0.85"/>
<line x1="71.8" y1="10.3" x2="77.2" y2="2.3" stroke="#17646b" stroke-width="0.85"/>
<line x1="63.5" y1="18.3" x2="57.2" y2="26.7" stroke="#6e3c10" stroke-width="6.8"/>
<line x1="57.2" y1="26.7" x2="51.8" y2="33.9" stroke="#0c4046" stroke-width="6.8"/>
<line x1="65.3" y1="19.7" x2="59" y2="28.1" stroke="#a85c18" stroke-width="0.85"/>
<line x1="59" y1="28.1" x2="53.6" y2="35.3" stroke="#17646b" stroke-width="0.85"/>
<line x1="64.1" y1="18.8" x2="57.8" y2="27.2" stroke="#a85c18" stroke-width="0.85"/>
<line x1="57.8" y1="27.2" x2="52.4" y2="34.4" stroke="#17646b" stroke-width="0.85"/>
<line x1="62.9" y1="17.9" x2="56.6" y2="26.3" stroke="#a85c18" stroke-width="0.85"/>
<line x1="56.6" y1="26.3" x2="51.2" y2="33.4" stroke="#17646b" stroke-width="0.85"/>
<line x1="61.7" y1="16.9" x2="55.3" y2="25.3" stroke="#a85c18" stroke-width="0.85"/>
<line x1="55.3" y1="25.3" x2="50" y2="32.5" stroke="#17646b" stroke-width="0.85"/>
<line x1="101.4" y1="18.3" x2="107.8" y2="9" stroke="#6e3c10" stroke-width="6.8"/>
<line x1="107.8" y1="9" x2="113.2" y2="1" stroke="#0c4046" stroke-width="6.8"/>
<line x1="99.5" y1="17" x2="105.9" y2="7.7" stroke="#a85c18" stroke-width="0.85"/>
<line x1="105.9" y1="7.7" x2="111.3" y2="-0.3" stroke="#17646b" stroke-width="0.85"/>
<line x1="100.8" y1="17.9" x2="107.2" y2="8.5" stroke="#a85c18" stroke-width="0.85"/>
<line x1="107.2" y1="8.5" x2="112.6" y2="0.6" stroke="#17646b" stroke-width="0.85"/>
<line x1="102" y1="18.7" x2="108.4" y2="9.4" stroke="#a85c18" stroke-width="0.85"/>
<line x1="108.4" y1="9.4" x2="113.8" y2="1.4" stroke="#17646b" stroke-width="0.85"/>
<line x1="103.3" y1="19.6" x2="109.7" y2="10.3" stroke="#a85c18" stroke-width="0.85"/>
<line x1="109.7" y1="10.3" x2="115.1" y2="2.3" stroke="#17646b" stroke-width="0.85"/>
<line x1="101.4" y1="18.3" x2="95.1" y2="26.7" stroke="#6e3c10" stroke-width="6.8"/>
<line x1="95.1" y1="26.7" x2="89.7" y2="33.9" stroke="#0c4046" stroke-width="6.8"/>
<line x1="103.2" y1="19.7" x2="96.9" y2="28.1" stroke="#a85c18" stroke-width="0.85"/>
<line x1="96.9" y1="28.1" x2="91.5" y2="35.3" stroke="#17646b" stroke-width="0.85"/>
<line x1="102" y1="18.8" x2="95.7" y2="27.2" stroke="#a85c18" stroke-width="0.85"/>
<line x1="95.7" y1="27.2" x2="90.3" y2="34.4" stroke="#17646b" stroke-width="0.85"/>
<line x1="100.8" y1="17.9" x2="94.5" y2="26.3" stroke="#a85c18" stroke-width="0.85"/>
<line x1="94.5" y1="26.3" x2="89.1" y2="33.4" stroke="#17646b" stroke-width="0.85"/>
<line x1="99.6" y1="16.9" x2="93.2" y2="25.3" stroke="#a85c18" stroke-width="0.85"/>
<line x1="93.2" y1="25.3" x2="87.9" y2="32.5" stroke="#17646b" stroke-width="0.85"/>
<line x1="139.3" y1="18.3" x2="145.7" y2="9" stroke="#6e3c10" stroke-width="6.8"/>
<line x1="145.7" y1="9" x2="151.1" y2="1" stroke="#0c4046" stroke-width="6.8"/>
<line x1="137.4" y1="17" x2="143.8" y2="7.7" stroke="#a85c18" stroke-width="0.85"/>
<line x1="143.8" y1="7.7" x2="149.2" y2="-0.3" stroke="#17646b" stroke-width="0.85"/>
<line x1="138.7" y1="17.9" x2="145.1" y2="8.5" stroke="#a85c18" stroke-width="0.85"/>
<line x1="145.1" y1="8.5" x2="150.5" y2="0.6" stroke="#17646b" stroke-width="0.85"/>
<line x1="139.9" y1="18.7" x2="146.3" y2="9.4" stroke="#a85c18" stroke-width="0.85"/>
<line x1="146.3" y1="9.4" x2="151.7" y2="1.4" stroke="#17646b" stroke-width="0.85"/>
<line x1="141.2" y1="19.6" x2="147.6" y2="10.3" stroke="#a85c18" stroke-width="0.85"/>
<line x1="147.6" y1="10.3" x2="153" y2="2.3" stroke="#17646b" stroke-width="0.85"/>
<line x1="139.3" y1="18.3" x2="133" y2="26.7" stroke="#6e3c10" stroke-width="6.8"/>
<line x1="133" y1="26.7" x2="127.6" y2="33.9" stroke="#0c4046" stroke-width="6.8"/>
<line x1="141.1" y1="19.7" x2="134.8" y2="28.1" stroke="#a85c18" stroke-width="0.85"/>
<line x1="134.8" y1="28.1" x2="129.4" y2="35.3" stroke="#17646b" stroke-width="0.85"/>
<line x1="139.9" y1="18.8" x2="133.6" y2="27.2" stroke="#a85c18" stroke-width="0.85"/>
<line x1="133.6" y1="27.2" x2="128.2" y2="34.4" stroke="#17646b" stroke-width="0.85"/>
<line x1="138.7" y1="17.9" x2="132.4" y2="26.3" stroke="#a85c18" stroke-width="0.85"/>
<line x1="132.4" y1="26.3" x2="127" y2="33.4" stroke="#17646b" stroke-width="0.85"/>
<line x1="137.5" y1="16.9" x2="131.1" y2="25.3" stroke="#a85c18" stroke-width="0.85"/>
<line x1="131.1" y1="25.3" x2="125.8" y2="32.5" stroke="#17646b" stroke-width="0.85"/>
<line x1="177.2" y1="18.3" x2="183.6" y2="9" stroke="#6e3c10" stroke-width="6.8"/>
<line x1="183.6" y1="9" x2="189" y2="1" stroke="#0c4046" stroke-width="6.8"/>
<line x1="175.3" y1="17" x2="181.7" y2="7.7" stroke="#a85c18" stroke-width="0.85"/>
<line x1="181.7" y1="7.7" x2="187.1" y2="-0.3" stroke="#17646b" stroke-width="0.85"/>
<line x1="176.6" y1="17.9" x2="183" y2="8.5" stroke="#a85c18" stroke-width="0.85"/>
<line x1="183" y1="8.5" x2="188.4" y2="0.6" stroke="#17646b" stroke-width="0.85"/>
<line x1="177.8" y1="18.7" x2="184.2" y2="9.4" stroke="#a85c18" stroke-width="0.85"/>
<line x1="184.2" y1="9.4" x2="189.6" y2="1.4" stroke="#17646b" stroke-width="0.85"/>
<line x1="179.1" y1="19.6" x2="185.5" y2="10.3" stroke="#a85c18" stroke-width="0.85"/>
<line x1="185.5" y1="10.3" x2="190.9" y2="2.3" stroke="#17646b" stroke-width="0.85"/>
<line x1="177.2" y1="18.3" x2="170.9" y2="26.7" stroke="#6e3c10" stroke-width="6.8"/>
<line x1="170.9" y1="26.7" x2="165.5" y2="33.9" stroke="#0c4046" stroke-width="6.8"/>
<line x1="179" y1="19.7" x2="172.7" y2="28.1" stroke="#a85c18" stroke-width="0.85"/>
<line x1="172.7" y1="28.1" x2="167.3" y2="35.3" stroke="#17646b" stroke-width="0.85"/>
<line x1="177.8" y1="18.8" x2="171.5" y2="27.2" stroke="#a85c18" stroke-width="0.85"/>
<line x1="171.5" y1="27.2" x2="166.1" y2="34.4" stroke="#17646b" stroke-width="0.85"/>
<line x1="176.6" y1="17.9" x2="170.3" y2="26.3" stroke="#a85c18" stroke-width="0.85"/>
<line x1="170.3" y1="26.3" x2="164.9" y2="33.4" stroke="#17646b" stroke-width="0.85"/>
<line x1="175.4" y1="16.9" x2="169" y2="25.3" stroke="#a85c18" stroke-width="0.85"/>
<line x1="169" y1="25.3" x2="163.7" y2="32.5" stroke="#17646b" stroke-width="0.85"/>
<line x1="215.1" y1="18.3" x2="221.5" y2="9" stroke="#6e3c10" stroke-width="6.8"/>
<line x1="221.5" y1="9" x2="226.9" y2="1" stroke="#0c4046" stroke-width="6.8"/>
<line x1="213.2" y1="17" x2="219.6" y2="7.7" stroke="#a85c18" stroke-width="0.85"/>
<line x1="219.6" y1="7.7" x2="225" y2="-0.3" stroke="#17646b" stroke-width="0.85"/>
<line x1="214.5" y1="17.9" x2="220.9" y2="8.5" stroke="#a85c18" stroke-width="0.85"/>
<line x1="220.9" y1="8.5" x2="226.3" y2="0.6" stroke="#17646b" stroke-width="0.85"/>
<line x1="215.7" y1="18.7" x2="222.1" y2="9.4" stroke="#a85c18" stroke-width="0.85"/>
<line x1="222.1" y1="9.4" x2="227.5" y2="1.4" stroke="#17646b" stroke-width="0.85"/>
<line x1="217" y1="19.6" x2="223.4" y2="10.3" stroke="#a85c18" stroke-width="0.85"/>
<line x1="223.4" y1="10.3" x2="228.8" y2="2.3" stroke="#17646b" stroke-width="0.85"/>
<line x1="215.1" y1="18.3" x2="208.8" y2="26.7" stroke="#6e3c10" stroke-width="6.8"/>
<line x1="208.8" y1="26.7" x2="203.4" y2="33.9" stroke="#0c4046" stroke-width="6.8"/>
<line x1="216.9" y1="19.7" x2="210.6" y2="28.1" stroke="#a85c18" stroke-width="0.85"/>
<line x1="210.6" y1="28.1" x2="205.2" y2="35.3" stroke="#17646b" stroke-width="0.85"/>
<line x1="215.7" y1="18.8" x2="209.4" y2="27.2" stroke="#a85c18" stroke-width="0.85"/>
<line x1="209.4" y1="27.2" x2="204" y2="34.4" stroke="#17646b" stroke-width="0.85"/>
<line x1="214.5" y1="17.9" x2="208.2" y2="26.3" stroke="#a85c18" stroke-width="0.85"/>
<line x1="208.2" y1="26.3" x2="202.8" y2="33.4" stroke="#17646b" stroke-width="0.85"/>
<line x1="213.3" y1="16.9" x2="206.9" y2="25.3" stroke="#a85c18" stroke-width="0.85"/>
<line x1="206.9" y1="25.3" x2="201.6" y2="32.5" stroke="#17646b" stroke-width="0.85"/>
<line x1="253" y1="18.3" x2="259.4" y2="9" stroke="#6e3c10" stroke-width="6.8"/>
<line x1="259.4" y1="9" x2="264.8" y2="1" stroke="#0c4046" stroke-width="6.8"/>
<line x1="251.1" y1="17" x2="257.5" y2="7.7" stroke="#a85c18" stroke-width="0.85"/>
<line x1="257.5" y1="7.7" x2="262.9" y2="-0.3" stroke="#17646b" stroke-width="0.85"/>
<line x1="252.4" y1="17.9" x2="258.8" y2="8.5" stroke="#a85c18" stroke-width="0.85"/>
<line x1="258.8" y1="8.5" x2="264.2" y2="0.6" stroke="#17646b" stroke-width="0.85"/>
<line x1="253.6" y1="18.7" x2="260" y2="9.4" stroke="#a85c18" stroke-width="0.85"/>
<line x1="260" y1="9.4" x2="265.4" y2="1.4" stroke="#17646b" stroke-width="0.85"/>
<line x1="254.9" y1="19.6" x2="261.3" y2="10.3" stroke="#a85c18" stroke-width="0.85"/>
<line x1="261.3" y1="10.3" x2="266.7" y2="2.3" stroke="#17646b" stroke-width="0.85"/>
<line x1="253" y1="18.3" x2="246.7" y2="26.7" stroke="#6e3c10" stroke-width="6.8"/>
<line x1="246.7" y1="26.7" x2="241.3" y2="33.9" stroke="#0c4046" stroke-width="6.8"/>
<line x1="254.8" y1="19.7" x2="248.5" y2="28.1" stroke="#a85c18" stroke-width="0.85"/>
<line x1="248.5" y1="28.1" x2="243.1" y2="35.3" stroke="#17646b" stroke-width="0.85"/>
<line x1="253.6" y1="18.8" x2="247.3" y2="27.2" stroke="#a85c18" stroke-width="0.85"/>
<line x1="247.3" y1="27.2" x2="241.9" y2="34.4" stroke="#17646b" stroke-width="0.85"/>
<line x1="252.4" y1="17.9" x2="246.1" y2="26.3" stroke="#a85c18" stroke-width="0.85"/>
<line x1="246.1" y1="26.3" x2="240.7" y2="33.4" stroke="#17646b" stroke-width="0.85"/>
<line x1="251.2" y1="16.9" x2="244.8" y2="25.3" stroke="#a85c18" stroke-width="0.85"/>
<line x1="244.8" y1="25.3" x2="239.5" y2="32.5" stroke="#17646b" stroke-width="0.85"/>
<line x1="290.9" y1="18.3" x2="297.3" y2="9" stroke="#6e3c10" stroke-width="6.8"/>
<line x1="297.3" y1="9" x2="302.7" y2="1" stroke="#0c4046" stroke-width="6.8"/>
<line x1="289" y1="17" x2="295.4" y2="7.7" stroke="#a85c18" stroke-width="0.85"/>
<line x1="295.4" y1="7.7" x2="300.8" y2="-0.3" stroke="#17646b" stroke-width="0.85"/>
<line x1="290.3" y1="17.9" x2="296.7" y2="8.5" stroke="#a85c18" stroke-width="0.85"/>
<line x1="296.7" y1="8.5" x2="302.1" y2="0.6" stroke="#17646b" stroke-width="0.85"/>
<line x1="291.5" y1="18.7" x2="297.9" y2="9.4" stroke="#a85c18" stroke-width="0.85"/>
<line x1="297.9" y1="9.4" x2="303.3" y2="1.4" stroke="#17646b" stroke-width="0.85"/>
<line x1="292.8" y1="19.6" x2="299.2" y2="10.3" stroke="#a85c18" stroke-width="0.85"/>
<line x1="299.2" y1="10.3" x2="304.6" y2="2.3" stroke="#17646b" stroke-width="0.85"/>
<line x1="290.9" y1="18.3" x2="284.6" y2="26.7" stroke="#6e3c10" stroke-width="6.8"/>
<line x1="284.6" y1="26.7" x2="279.2" y2="33.9" stroke="#0c4046" stroke-width="6.8"/>
<line x1="292.7" y1="19.7" x2="286.4" y2="28.1" stroke="#a85c18" stroke-width="0.85"/>
<line x1="286.4" y1="28.1" x2="281" y2="35.3" stroke="#17646b" stroke-width="0.85"/>
<line x1="291.5" y1="18.8" x2="285.2" y2="27.2" stroke="#a85c18" stroke-width="0.85"/>
<line x1="285.2" y1="27.2" x2="279.8" y2="34.4" stroke="#17646b" stroke-width="0.85"/>
<line x1="290.3" y1="17.8" x2="284" y2="26.3" stroke="#a85c18" stroke-width="0.85"/>
<line x1="284" y1="26.3" x2="278.6" y2="33.4" stroke="#17646b" stroke-width="0.85"/>
<line x1="289.1" y1="16.9" x2="282.7" y2="25.3" stroke="#a85c18" stroke-width="0.85"/>
<line x1="282.7" y1="25.3" x2="277.4" y2="32.5" stroke="#17646b" stroke-width="0.85"/>
<circle cx="-2.2" cy="-1.5" r="4.4" fill="url(#gSe)"/>
<circle cx="0.2" cy="0.1" r="4.6" fill="url(#gSe)"/>
<circle cx="2.3" cy="1.6" r="4.5" fill="url(#gSe)"/>
<circle cx="35.7" cy="-1.5" r="4.4" fill="url(#gSe)"/>
<circle cx="38.1" cy="0.1" r="4.6" fill="url(#gSe)"/>
<circle cx="40.2" cy="1.6" r="4.5" fill="url(#gSe)"/>
<circle cx="73.6" cy="-1.5" r="4.4" fill="url(#gSe)"/>
<circle cx="76" cy="0.1" r="4.6" fill="url(#gSe)"/>
<circle cx="78.1" cy="1.6" r="4.5" fill="url(#gSe)"/>
<circle cx="111.5" cy="-1.5" r="4.4" fill="url(#gSe)"/>
<circle cx="113.9" cy="0.1" r="4.6" fill="url(#gSe)"/>
<circle cx="116" cy="1.6" r="4.5" fill="url(#gSe)"/>
<circle cx="149.4" cy="-1.5" r="4.4" fill="url(#gSe)"/>
<circle cx="151.8" cy="0.1" r="4.6" fill="url(#gSe)"/>
<circle cx="153.9" cy="1.6" r="4.5" fill="url(#gSe)"/>
<circle cx="187.3" cy="-1.5" r="4.4" fill="url(#gSe)"/>
<circle cx="189.7" cy="0.1" r="4.6" fill="url(#gSe)"/>
<circle cx="191.8" cy="1.6" r="4.5" fill="url(#gSe)"/>
<circle cx="225.2" cy="-1.5" r="4.4" fill="url(#gSe)"/>
<circle cx="227.6" cy="0.1" r="4.6" fill="url(#gSe)"/>
<circle cx="229.7" cy="1.6" r="4.5" fill="url(#gSe)"/>
<circle cx="263.1" cy="-1.5" r="4.4" fill="url(#gSe)"/>
<circle cx="265.5" cy="0.1" r="4.6" fill="url(#gSe)"/>
<circle cx="267.6" cy="1.6" r="4.5" fill="url(#gSe)"/>
<circle cx="301" cy="-1.5" r="4.4" fill="url(#gSe)"/>
<circle cx="303.4" cy="0.1" r="4.6" fill="url(#gSe)"/>
<circle cx="305.5" cy="1.6" r="4.5" fill="url(#gSe)"/>
<circle cx="11.2" cy="33.4" r="4.4" fill="url(#gSe)"/>
<circle cx="13.6" cy="35" r="4.6" fill="url(#gSe)"/>
<circle cx="15.7" cy="36.5" r="4.5" fill="url(#gSe)"/>
<circle cx="49.1" cy="33.4" r="4.4" fill="url(#gSe)"/>
<circle cx="51.5" cy="35" r="4.6" fill="url(#gSe)"/>
<circle cx="53.6" cy="36.5" r="4.5" fill="url(#gSe)"/>
<circle cx="87" cy="33.4" r="4.4" fill="url(#gSe)"/>
<circle cx="89.4" cy="35" r="4.6" fill="url(#gSe)"/>
<circle cx="91.5" cy="36.5" r="4.5" fill="url(#gSe)"/>
<circle cx="124.9" cy="33.4" r="4.4" fill="url(#gSe)"/>
<circle cx="127.3" cy="35" r="4.6" fill="url(#gSe)"/>
<circle cx="129.4" cy="36.5" r="4.5" fill="url(#gSe)"/>
<circle cx="162.8" cy="33.4" r="4.4" fill="url(#gSe)"/>
<circle cx="165.2" cy="35" r="4.6" fill="url(#gSe)"/>
<circle cx="167.3" cy="36.5" r="4.5" fill="url(#gSe)"/>
<circle cx="200.7" cy="33.4" r="4.4" fill="url(#gSe)"/>
<circle cx="203.1" cy="35" r="4.6" fill="url(#gSe)"/>
<circle cx="205.2" cy="36.5" r="4.5" fill="url(#gSe)"/>
<circle cx="238.6" cy="33.4" r="4.4" fill="url(#gSe)"/>
<circle cx="241" cy="35" r="4.6" fill="url(#gSe)"/>
<circle cx="243.1" cy="36.5" r="4.5" fill="url(#gSe)"/>
<circle cx="276.5" cy="33.4" r="4.4" fill="url(#gSe)"/>
<circle cx="278.9" cy="35" r="4.6" fill="url(#gSe)"/>
<circle cx="281" cy="36.5" r="4.5" fill="url(#gSe)"/>
<circle cx="314.4" cy="33.4" r="4.4" fill="url(#gSe)"/>
<circle cx="316.8" cy="35" r="4.6" fill="url(#gSe)"/>
<circle cx="318.9" cy="36.5" r="4.5" fill="url(#gSe)"/>
<circle cx="23.6" cy="16.1" r="2.6" fill="url(#gSn)"/>
<circle cx="25.9" cy="18.1" r="2.9" fill="url(#gSn)"/>
<circle cx="28.4" cy="19.9" r="2.8" fill="url(#gSn)"/>
<circle cx="61.5" cy="16.1" r="2.6" fill="url(#gSn)"/>
<circle cx="63.8" cy="18.1" r="2.9" fill="url(#gSn)"/>
<circle cx="66.3" cy="19.9" r="2.8" fill="url(#gSn)"/>
<circle cx="99.4" cy="16.1" r="2.6" fill="url(#gSn)"/>
<circle cx="101.7" cy="18.1" r="2.9" fill="url(#gSn)"/>
<circle cx="104.2" cy="19.9" r="2.8" fill="url(#gSn)"/>
<circle cx="137.3" cy="16.1" r="2.6" fill="url(#gSn)"/>
<circle cx="139.6" cy="18.1" r="2.9" fill="url(#gSn)"/>
<circle cx="142.1" cy="19.9" r="2.8" fill="url(#gSn)"/>
<circle cx="175.2" cy="16.1" r="2.6" fill="url(#gSn)"/>
<circle cx="177.5" cy="18.1" r="2.9" fill="url(#gSn)"/>
<circle cx="180" cy="19.9" r="2.8" fill="url(#gSn)"/>
<circle cx="213.1" cy="16.1" r="2.6" fill="url(#gSn)"/>
<circle cx="215.4" cy="18.1" r="2.9" fill="url(#gSn)"/>
<circle cx="217.9" cy="19.9" r="2.8" fill="url(#gSn)"/>
<circle cx="251" cy="16.1" r="2.6" fill="url(#gSn)"/>
<circle cx="253.3" cy="18.1" r="2.9" fill="url(#gSn)"/>
<circle cx="255.8" cy="19.9" r="2.8" fill="url(#gSn)"/>
<circle cx="288.9" cy="16.1" r="2.6" fill="url(#gSn)"/>
<circle cx="291.2" cy="18.1" r="2.9" fill="url(#gSn)"/>
<circle cx="293.7" cy="19.9" r="2.8" fill="url(#gSn)"/>
</g>
<g clip-path="url(#clipABC)">
<g id="tba1" transform="translate(884.5,137.1)">
<line x1="0" y1="0" x2="3.8" y2="-11.6" stroke="#4a4a4a" stroke-width="2.2"/>
<line x1="3.8" y1="-11.6" x2="-3.3" y2="-22" stroke="#4a4a4a" stroke-width="2.2"/>
<line x1="-3.3" y1="-22" x2="3.5" y2="-32.3" stroke="#4a4a4a" stroke-width="2.2"/>
<line x1="3.5" y1="-32.3" x2="-3.2" y2="-47.6" stroke="#4a4a4a" stroke-width="2.2"/>
<line x1="0" y1="0" x2="-14.2" y2="2" stroke="#4a4a4a" stroke-width="2.2"/>
<line x1="-14.2" y1="2" x2="-21.2" y2="13.5" stroke="#4a4a4a" stroke-width="2.2"/>
<line x1="-21.2" y1="13.5" x2="-34" y2="13.5" stroke="#4a4a4a" stroke-width="2.2"/>
<line x1="-34" y1="13.5" x2="-43.8" y2="25.1" stroke="#4a4a4a" stroke-width="2.2"/>
<line x1="0" y1="0" x2="9.8" y2="8.8" stroke="#4a4a4a" stroke-width="2.2"/>
<line x1="9.8" y1="8.8" x2="19.9" y2="3.9" stroke="#4a4a4a" stroke-width="2.2"/>
<line x1="19.9" y1="3.9" x2="33.5" y2="10.1" stroke="#4a4a4a" stroke-width="2.2"/>
<line x1="33.5" y1="10.1" x2="50.7" y2="9.5" stroke="#4a4a4a" stroke-width="2.2"/>
<line x1="0" y1="0" x2="-0.7" y2="14.6" stroke="#4a4a4a" stroke-width="2.2"/>
<line x1="-0.7" y1="14.6" x2="9.2" y2="22.5" stroke="#4a4a4a" stroke-width="2.2"/>
<line x1="9.2" y1="22.5" x2="7.9" y2="34.9" stroke="#4a4a4a" stroke-width="2.2"/>
<line x1="7.9" y1="34.9" x2="16.9" y2="43.4" stroke="#4a4a4a" stroke-width="2.2"/>
<circle cx="3.8" cy="-11.6" r="4.5" fill="url(#gC)"/>
<circle cx="-3.3" cy="-22" r="4.5" fill="url(#gC)"/>
<circle cx="3.5" cy="-32.3" r="4.5" fill="url(#gC)"/>
<circle cx="-3.2" cy="-47.6" r="4.5" fill="url(#gC)"/>
<circle cx="-14.2" cy="2" r="4.5" fill="url(#gC)"/>
<circle cx="-21.2" cy="13.5" r="4.5" fill="url(#gC)"/>
<circle cx="-34" cy="13.5" r="4.5" fill="url(#gC)"/>
<circle cx="-43.8" cy="25.1" r="4.5" fill="url(#gC)"/>
<circle cx="9.8" cy="8.8" r="4.5" fill="url(#gC)"/>
<circle cx="19.9" cy="3.9" r="4.5" fill="url(#gC)"/>
<circle cx="33.5" cy="10.1" r="4.5" fill="url(#gC)"/>
<circle cx="50.7" cy="9.5" r="4.5" fill="url(#gC)"/>
<circle cx="-0.7" cy="14.6" r="4.5" fill="url(#gC)"/>
<circle cx="9.2" cy="22.5" r="4.5" fill="url(#gC)"/>
<circle cx="7.9" cy="34.9" r="4.5" fill="url(#gC)"/>
<circle cx="16.9" cy="43.4" r="4.5" fill="url(#gC)"/>
<circle cx="0" cy="0" r="4.6" fill="#0f9a45"/>
</g>
<g id="tba2" transform="translate(1005.7,135.8)">
<line x1="0" y1="0" x2="3.8" y2="-11.6" stroke="#4a4a4a" stroke-width="2.2"/>
<line x1="3.8" y1="-11.6" x2="-3.3" y2="-22" stroke="#4a4a4a" stroke-width="2.2"/>
<line x1="-3.3" y1="-22" x2="3.5" y2="-32.3" stroke="#4a4a4a" stroke-width="2.2"/>
<line x1="3.5" y1="-32.3" x2="-3.2" y2="-47.6" stroke="#4a4a4a" stroke-width="2.2"/>
<line x1="0" y1="0" x2="-14.2" y2="2" stroke="#4a4a4a" stroke-width="2.2"/>
<line x1="-14.2" y1="2" x2="-21.2" y2="13.5" stroke="#4a4a4a" stroke-width="2.2"/>
<line x1="-21.2" y1="13.5" x2="-34" y2="13.5" stroke="#4a4a4a" stroke-width="2.2"/>
<line x1="-34" y1="13.5" x2="-43.8" y2="25.1" stroke="#4a4a4a" stroke-width="2.2"/>
<line x1="0" y1="0" x2="9.8" y2="8.8" stroke="#4a4a4a" stroke-width="2.2"/>
<line x1="9.8" y1="8.8" x2="19.9" y2="3.9" stroke="#4a4a4a" stroke-width="2.2"/>
<line x1="19.9" y1="3.9" x2="33.5" y2="10.1" stroke="#4a4a4a" stroke-width="2.2"/>
<line x1="33.5" y1="10.1" x2="50.7" y2="9.5" stroke="#4a4a4a" stroke-width="2.2"/>
<line x1="0" y1="0" x2="-0.7" y2="14.6" stroke="#4a4a4a" stroke-width="2.2"/>
<line x1="-0.7" y1="14.6" x2="9.2" y2="22.5" stroke="#4a4a4a" stroke-width="2.2"/>
<line x1="9.2" y1="22.5" x2="7.9" y2="34.9" stroke="#4a4a4a" stroke-width="2.2"/>
<line x1="7.9" y1="34.9" x2="16.9" y2="43.4" stroke="#4a4a4a" stroke-width="2.2"/>
<circle cx="3.8" cy="-11.6" r="4.5" fill="url(#gC)"/>
<circle cx="-3.3" cy="-22" r="4.5" fill="url(#gC)"/>
<circle cx="3.5" cy="-32.3" r="4.5" fill="url(#gC)"/>
<circle cx="-3.2" cy="-47.6" r="4.5" fill="url(#gC)"/>
<circle cx="-14.2" cy="2" r="4.5" fill="url(#gC)"/>
<circle cx="-21.2" cy="13.5" r="4.5" fill="url(#gC)"/>
<circle cx="-34" cy="13.5" r="4.5" fill="url(#gC)"/>
<circle cx="-43.8" cy="25.1" r="4.5" fill="url(#gC)"/>
<circle cx="9.8" cy="8.8" r="4.5" fill="url(#gC)"/>
<circle cx="19.9" cy="3.9" r="4.5" fill="url(#gC)"/>
<circle cx="33.5" cy="10.1" r="4.5" fill="url(#gC)"/>
<circle cx="50.7" cy="9.5" r="4.5" fill="url(#gC)"/>
<circle cx="-0.7" cy="14.6" r="4.5" fill="url(#gC)"/>
<circle cx="9.2" cy="22.5" r="4.5" fill="url(#gC)"/>
<circle cx="7.9" cy="34.9" r="4.5" fill="url(#gC)"/>
<circle cx="16.9" cy="43.4" r="4.5" fill="url(#gC)"/>
<circle cx="0" cy="0" r="4.6" fill="#0f9a45"/>
</g>
<g id="tba3" transform="translate(1126.6,135.1)">
<line x1="0" y1="0" x2="3.8" y2="-11.6" stroke="#4a4a4a" stroke-width="2.2"/>
<line x1="3.8" y1="-11.6" x2="-3.3" y2="-22" stroke="#4a4a4a" stroke-width="2.2"/>
<line x1="-3.3" y1="-22" x2="3.5" y2="-32.3" stroke="#4a4a4a" stroke-width="2.2"/>
<line x1="3.5" y1="-32.3" x2="-3.2" y2="-47.6" stroke="#4a4a4a" stroke-width="2.2"/>
<line x1="0" y1="0" x2="-14.2" y2="2" stroke="#4a4a4a" stroke-width="2.2"/>
<line x1="-14.2" y1="2" x2="-21.2" y2="13.5" stroke="#4a4a4a" stroke-width="2.2"/>
<line x1="-21.2" y1="13.5" x2="-34" y2="13.5" stroke="#4a4a4a" stroke-width="2.2"/>
<line x1="-34" y1="13.5" x2="-43.8" y2="25.1" stroke="#4a4a4a" stroke-width="2.2"/>
<line x1="0" y1="0" x2="9.8" y2="8.8" stroke="#4a4a4a" stroke-width="2.2"/>
<line x1="9.8" y1="8.8" x2="19.9" y2="3.9" stroke="#4a4a4a" stroke-width="2.2"/>
<line x1="19.9" y1="3.9" x2="33.5" y2="10.1" stroke="#4a4a4a" stroke-width="2.2"/>
<line x1="33.5" y1="10.1" x2="50.7" y2="9.5" stroke="#4a4a4a" stroke-width="2.2"/>
<line x1="0" y1="0" x2="-0.7" y2="14.6" stroke="#4a4a4a" stroke-width="2.2"/>
<line x1="-0.7" y1="14.6" x2="9.2" y2="22.5" stroke="#4a4a4a" stroke-width="2.2"/>
<line x1="9.2" y1="22.5" x2="7.9" y2="34.9" stroke="#4a4a4a" stroke-width="2.2"/>
<line x1="7.9" y1="34.9" x2="16.9" y2="43.4" stroke="#4a4a4a" stroke-width="2.2"/>
<circle cx="3.8" cy="-11.6" r="4.5" fill="url(#gC)"/>
<circle cx="-3.3" cy="-22" r="4.5" fill="url(#gC)"/>
<circle cx="3.5" cy="-32.3" r="4.5" fill="url(#gC)"/>
<circle cx="-3.2" cy="-47.6" r="4.5" fill="url(#gC)"/>
<circle cx="-14.2" cy="2" r="4.5" fill="url(#gC)"/>
<circle cx="-21.2" cy="13.5" r="4.5" fill="url(#gC)"/>
<circle cx="-34" cy="13.5" r="4.5" fill="url(#gC)"/>
<circle cx="-43.8" cy="25.1" r="4.5" fill="url(#gC)"/>
<circle cx="9.8" cy="8.8" r="4.5" fill="url(#gC)"/>
<circle cx="19.9" cy="3.9" r="4.5" fill="url(#gC)"/>
<circle cx="33.5" cy="10.1" r="4.5" fill="url(#gC)"/>
<circle cx="50.7" cy="9.5" r="4.5" fill="url(#gC)"/>
<circle cx="-0.7" cy="14.6" r="4.5" fill="url(#gC)"/>
<circle cx="9.2" cy="22.5" r="4.5" fill="url(#gC)"/>
<circle cx="7.9" cy="34.9" r="4.5" fill="url(#gC)"/>
<circle cx="16.9" cy="43.4" r="4.5" fill="url(#gC)"/>
<circle cx="0" cy="0" r="4.6" fill="#0f9a45"/>
</g>
<g id="tba4" transform="translate(884.5,313)">
<line x1="0" y1="0" x2="3.8" y2="-11.6" stroke="#4a4a4a" stroke-width="2.2"/>
<line x1="3.8" y1="-11.6" x2="-3.3" y2="-22" stroke="#4a4a4a" stroke-width="2.2"/>
<line x1="-3.3" y1="-22" x2="3.5" y2="-32.3" stroke="#4a4a4a" stroke-width="2.2"/>
<line x1="3.5" y1="-32.3" x2="-3.2" y2="-47.6" stroke="#4a4a4a" stroke-width="2.2"/>
<line x1="0" y1="0" x2="-14.2" y2="2" stroke="#4a4a4a" stroke-width="2.2"/>
<line x1="-14.2" y1="2" x2="-21.2" y2="13.5" stroke="#4a4a4a" stroke-width="2.2"/>
<line x1="-21.2" y1="13.5" x2="-34" y2="13.5" stroke="#4a4a4a" stroke-width="2.2"/>
<line x1="-34" y1="13.5" x2="-43.8" y2="25.1" stroke="#4a4a4a" stroke-width="2.2"/>
<line x1="0" y1="0" x2="9.8" y2="8.8" stroke="#4a4a4a" stroke-width="2.2"/>
<line x1="9.8" y1="8.8" x2="19.9" y2="3.9" stroke="#4a4a4a" stroke-width="2.2"/>
<line x1="19.9" y1="3.9" x2="33.5" y2="10.1" stroke="#4a4a4a" stroke-width="2.2"/>
<line x1="33.5" y1="10.1" x2="50.7" y2="9.5" stroke="#4a4a4a" stroke-width="2.2"/>
<line x1="0" y1="0" x2="-0.7" y2="14.6" stroke="#4a4a4a" stroke-width="2.2"/>
<line x1="-0.7" y1="14.6" x2="9.2" y2="22.5" stroke="#4a4a4a" stroke-width="2.2"/>
<line x1="9.2" y1="22.5" x2="7.9" y2="34.9" stroke="#4a4a4a" stroke-width="2.2"/>
<line x1="7.9" y1="34.9" x2="16.9" y2="43.4" stroke="#4a4a4a" stroke-width="2.2"/>
<circle cx="3.8" cy="-11.6" r="4.5" fill="url(#gC)"/>
<circle cx="-3.3" cy="-22" r="4.5" fill="url(#gC)"/>
<circle cx="3.5" cy="-32.3" r="4.5" fill="url(#gC)"/>
<circle cx="-3.2" cy="-47.6" r="4.5" fill="url(#gC)"/>
<circle cx="-14.2" cy="2" r="4.5" fill="url(#gC)"/>
<circle cx="-21.2" cy="13.5" r="4.5" fill="url(#gC)"/>
<circle cx="-34" cy="13.5" r="4.5" fill="url(#gC)"/>
<circle cx="-43.8" cy="25.1" r="4.5" fill="url(#gC)"/>
<circle cx="9.8" cy="8.8" r="4.5" fill="url(#gC)"/>
<circle cx="19.9" cy="3.9" r="4.5" fill="url(#gC)"/>
<circle cx="33.5" cy="10.1" r="4.5" fill="url(#gC)"/>
<circle cx="50.7" cy="9.5" r="4.5" fill="url(#gC)"/>
<circle cx="-0.7" cy="14.6" r="4.5" fill="url(#gC)"/>
<circle cx="9.2" cy="22.5" r="4.5" fill="url(#gC)"/>
<circle cx="7.9" cy="34.9" r="4.5" fill="url(#gC)"/>
<circle cx="16.9" cy="43.4" r="4.5" fill="url(#gC)"/>
<circle cx="0" cy="0" r="4.6" fill="#0f9a45"/>
</g>
<g id="tba5" transform="translate(1005.2,311.8)">
<line x1="0" y1="0" x2="3.8" y2="-11.6" stroke="#4a4a4a" stroke-width="2.2"/>
<line x1="3.8" y1="-11.6" x2="-3.3" y2="-22" stroke="#4a4a4a" stroke-width="2.2"/>
<line x1="-3.3" y1="-22" x2="3.5" y2="-32.3" stroke="#4a4a4a" stroke-width="2.2"/>
<line x1="3.5" y1="-32.3" x2="-3.2" y2="-47.6" stroke="#4a4a4a" stroke-width="2.2"/>
<line x1="0" y1="0" x2="-14.2" y2="2" stroke="#4a4a4a" stroke-width="2.2"/>
<line x1="-14.2" y1="2" x2="-21.2" y2="13.5" stroke="#4a4a4a" stroke-width="2.2"/>
<line x1="-21.2" y1="13.5" x2="-34" y2="13.5" stroke="#4a4a4a" stroke-width="2.2"/>
<line x1="-34" y1="13.5" x2="-43.8" y2="25.1" stroke="#4a4a4a" stroke-width="2.2"/>
<line x1="0" y1="0" x2="9.8" y2="8.8" stroke="#4a4a4a" stroke-width="2.2"/>
<line x1="9.8" y1="8.8" x2="19.9" y2="3.9" stroke="#4a4a4a" stroke-width="2.2"/>
<line x1="19.9" y1="3.9" x2="33.5" y2="10.1" stroke="#4a4a4a" stroke-width="2.2"/>
<line x1="33.5" y1="10.1" x2="50.7" y2="9.5" stroke="#4a4a4a" stroke-width="2.2"/>
<line x1="0" y1="0" x2="-0.7" y2="14.6" stroke="#4a4a4a" stroke-width="2.2"/>
<line x1="-0.7" y1="14.6" x2="9.2" y2="22.5" stroke="#4a4a4a" stroke-width="2.2"/>
<line x1="9.2" y1="22.5" x2="7.9" y2="34.9" stroke="#4a4a4a" stroke-width="2.2"/>
<line x1="7.9" y1="34.9" x2="16.9" y2="43.4" stroke="#4a4a4a" stroke-width="2.2"/>
<circle cx="3.8" cy="-11.6" r="4.5" fill="url(#gC)"/>
<circle cx="-3.3" cy="-22" r="4.5" fill="url(#gC)"/>
<circle cx="3.5" cy="-32.3" r="4.5" fill="url(#gC)"/>
<circle cx="-3.2" cy="-47.6" r="4.5" fill="url(#gC)"/>
<circle cx="-14.2" cy="2" r="4.5" fill="url(#gC)"/>
<circle cx="-21.2" cy="13.5" r="4.5" fill="url(#gC)"/>
<circle cx="-34" cy="13.5" r="4.5" fill="url(#gC)"/>
<circle cx="-43.8" cy="25.1" r="4.5" fill="url(#gC)"/>
<circle cx="9.8" cy="8.8" r="4.5" fill="url(#gC)"/>
<circle cx="19.9" cy="3.9" r="4.5" fill="url(#gC)"/>
<circle cx="33.5" cy="10.1" r="4.5" fill="url(#gC)"/>
<circle cx="50.7" cy="9.5" r="4.5" fill="url(#gC)"/>
<circle cx="-0.7" cy="14.6" r="4.5" fill="url(#gC)"/>
<circle cx="9.2" cy="22.5" r="4.5" fill="url(#gC)"/>
<circle cx="7.9" cy="34.9" r="4.5" fill="url(#gC)"/>
<circle cx="16.9" cy="43.4" r="4.5" fill="url(#gC)"/>
<circle cx="0" cy="0" r="4.6" fill="#0f9a45"/>
</g>
<g id="tba6" transform="translate(1126.8,310.2)">
<line x1="0" y1="0" x2="3.8" y2="-11.6" stroke="#4a4a4a" stroke-width="2.2"/>
<line x1="3.8" y1="-11.6" x2="-3.3" y2="-22" stroke="#4a4a4a" stroke-width="2.2"/>
<line x1="-3.3" y1="-22" x2="3.5" y2="-32.3" stroke="#4a4a4a" stroke-width="2.2"/>
<line x1="3.5" y1="-32.3" x2="-3.2" y2="-47.6" stroke="#4a4a4a" stroke-width="2.2"/>
<line x1="0" y1="0" x2="-14.2" y2="2" stroke="#4a4a4a" stroke-width="2.2"/>
<line x1="-14.2" y1="2" x2="-21.2" y2="13.5" stroke="#4a4a4a" stroke-width="2.2"/>
<line x1="-21.2" y1="13.5" x2="-34" y2="13.5" stroke="#4a4a4a" stroke-width="2.2"/>
<line x1="-34" y1="13.5" x2="-43.8" y2="25.1" stroke="#4a4a4a" stroke-width="2.2"/>
<line x1="0" y1="0" x2="9.8" y2="8.8" stroke="#4a4a4a" stroke-width="2.2"/>
<line x1="9.8" y1="8.8" x2="19.9" y2="3.9" stroke="#4a4a4a" stroke-width="2.2"/>
<line x1="19.9" y1="3.9" x2="33.5" y2="10.1" stroke="#4a4a4a" stroke-width="2.2"/>
<line x1="33.5" y1="10.1" x2="50.7" y2="9.5" stroke="#4a4a4a" stroke-width="2.2"/>
<line x1="0" y1="0" x2="-0.7" y2="14.6" stroke="#4a4a4a" stroke-width="2.2"/>
<line x1="-0.7" y1="14.6" x2="9.2" y2="22.5" stroke="#4a4a4a" stroke-width="2.2"/>
<line x1="9.2" y1="22.5" x2="7.9" y2="34.9" stroke="#4a4a4a" stroke-width="2.2"/>
<line x1="7.9" y1="34.9" x2="16.9" y2="43.4" stroke="#4a4a4a" stroke-width="2.2"/>
<circle cx="3.8" cy="-11.6" r="4.5" fill="url(#gC)"/>
<circle cx="-3.3" cy="-22" r="4.5" fill="url(#gC)"/>
<circle cx="3.5" cy="-32.3" r="4.5" fill="url(#gC)"/>
<circle cx="-3.2" cy="-47.6" r="4.5" fill="url(#gC)"/>
<circle cx="-14.2" cy="2" r="4.5" fill="url(#gC)"/>
<circle cx="-21.2" cy="13.5" r="4.5" fill="url(#gC)"/>
<circle cx="-34" cy="13.5" r="4.5" fill="url(#gC)"/>
<circle cx="-43.8" cy="25.1" r="4.5" fill="url(#gC)"/>
<circle cx="9.8" cy="8.8" r="4.5" fill="url(#gC)"/>
<circle cx="19.9" cy="3.9" r="4.5" fill="url(#gC)"/>
<circle cx="33.5" cy="10.1" r="4.5" fill="url(#gC)"/>
<circle cx="50.7" cy="9.5" r="4.5" fill="url(#gC)"/>
<circle cx="-0.7" cy="14.6" r="4.5" fill="url(#gC)"/>
<circle cx="9.2" cy="22.5" r="4.5" fill="url(#gC)"/>
<circle cx="7.9" cy="34.9" r="4.5" fill="url(#gC)"/>
<circle cx="16.9" cy="43.4" r="4.5" fill="url(#gC)"/>
<circle cx="0" cy="0" r="4.6" fill="#0f9a45"/>
</g>
</g>
<rect x="801.8" y="21" width="27.1" height="7.6" fill="#231815"/>
<rect x="804.6" y="195.8" width="24.3" height="7.6" fill="#231815"/>
<line x1="815" y1="48.2" x2="815" y2="174.3" stroke="#231815" stroke-width="3.2"/>
<path d="M815 38.2 L809.2 56.2 L820.8 56.2 Z" fill="#231815"/>
<path d="M815 184.3 L809.2 166.3 L820.8 166.3 Z" fill="#231815"/>
<text transform="translate(795 116) rotate(-90) scale(1 1.03)" font-size="29.5" fill="#231815" stroke="#231815" stroke-width="0.45" text-anchor="middle" letter-spacing="-0.6">18.62Å</text>
<text transform="translate(1019.5 466) scale(1 1.03)" font-size="29.2" fill="#231815" stroke="#231815" stroke-width="0.45" text-anchor="middle">(TBA)<tspan font-size="20.5" dy="6.5">x</tspan><tspan dy="-6.5">SnSe</tspan><tspan font-size="20.5" dy="6.5">2</tspan></text>
<text class="pl" x="1221.2" y="32.5" font-size="37.3" fill="#000">(g)</text>
<g id="panel-g">
<rect x="1283.9" y="49.5" width="457.4" height="368.3" fill="none" stroke="#231815" stroke-width="2.0"/>
<line x1="1385.5" y1="417.8" x2="1385.5" y2="412.3" stroke="#231815" stroke-width="1.7"/>
<line x1="1385.5" y1="49.5" x2="1385.5" y2="55" stroke="#231815" stroke-width="1.7"/>
<line x1="1487.2" y1="417.8" x2="1487.2" y2="412.3" stroke="#231815" stroke-width="1.7"/>
<line x1="1487.2" y1="49.5" x2="1487.2" y2="55" stroke="#231815" stroke-width="1.7"/>
<line x1="1588.8" y1="417.8" x2="1588.8" y2="412.3" stroke="#231815" stroke-width="1.7"/>
<line x1="1588.8" y1="49.5" x2="1588.8" y2="55" stroke="#231815" stroke-width="1.7"/>
<line x1="1690.5" y1="417.8" x2="1690.5" y2="412.3" stroke="#231815" stroke-width="1.7"/>
<line x1="1690.5" y1="49.5" x2="1690.5" y2="55" stroke="#231815" stroke-width="1.7"/>
<line x1="1334.7" y1="417.8" x2="1334.7" y2="414.8" stroke="#231815" stroke-width="1.7"/>
<line x1="1334.7" y1="49.5" x2="1334.7" y2="52.5" stroke="#231815" stroke-width="1.7"/>
<line x1="1436.4" y1="417.8" x2="1436.4" y2="414.8" stroke="#231815" stroke-width="1.7"/>
<line x1="1436.4" y1="49.5" x2="1436.4" y2="52.5" stroke="#231815" stroke-width="1.7"/>
<line x1="1538" y1="417.8" x2="1538" y2="414.8" stroke="#231815" stroke-width="1.7"/>
<line x1="1538" y1="49.5" x2="1538" y2="52.5" stroke="#231815" stroke-width="1.7"/>
<line x1="1639.7" y1="417.8" x2="1639.7" y2="414.8" stroke="#231815" stroke-width="1.7"/>
<line x1="1639.7" y1="49.5" x2="1639.7" y2="52.5" stroke="#231815" stroke-width="1.7"/>
<line x1="1283.9" y1="376.9" x2="1286.9" y2="376.9" stroke="#231815" stroke-width="1.7"/>
<line x1="1741.3" y1="376.9" x2="1738.3" y2="376.9" stroke="#231815" stroke-width="1.7"/>
<line x1="1283.9" y1="336" x2="1289.4" y2="336" stroke="#231815" stroke-width="1.7"/>
<line x1="1741.3" y1="336" x2="1735.8" y2="336" stroke="#231815" stroke-width="1.7"/>
<line x1="1283.9" y1="295" x2="1286.9" y2="295" stroke="#231815" stroke-width="1.7"/>
<line x1="1741.3" y1="295" x2="1738.3" y2="295" stroke="#231815" stroke-width="1.7"/>
<line x1="1283.9" y1="254.1" x2="1289.4" y2="254.1" stroke="#231815" stroke-width="1.7"/>
<line x1="1741.3" y1="254.1" x2="1735.8" y2="254.1" stroke="#231815" stroke-width="1.7"/>
<line x1="1283.9" y1="213.2" x2="1286.9" y2="213.2" stroke="#231815" stroke-width="1.7"/>
<line x1="1741.3" y1="213.2" x2="1738.3" y2="213.2" stroke="#231815" stroke-width="1.7"/>
<line x1="1283.9" y1="172.3" x2="1289.4" y2="172.3" stroke="#231815" stroke-width="1.7"/>
<line x1="1741.3" y1="172.3" x2="1735.8" y2="172.3" stroke="#231815" stroke-width="1.7"/>
<line x1="1283.9" y1="131.3" x2="1286.9" y2="131.3" stroke="#231815" stroke-width="1.7"/>
<line x1="1741.3" y1="131.3" x2="1738.3" y2="131.3" stroke="#231815" stroke-width="1.7"/>
<line x1="1283.9" y1="90.4" x2="1289.4" y2="90.4" stroke="#231815" stroke-width="1.7"/>
<line x1="1741.3" y1="90.4" x2="1735.8" y2="90.4" stroke="#231815" stroke-width="1.7"/>
<text transform="translate(1283.9 443.3) scale(1 1.03)" font-size="24.5" fill="#231815" stroke="#231815" stroke-width="0.45" text-anchor="middle">0</text>
<text transform="translate(1385.5 443.3) scale(1 1.03)" font-size="24.5" fill="#231815" stroke="#231815" stroke-width="0.45" text-anchor="middle">5</text>
<text transform="translate(1487.2 443.3) scale(1 1.03)" font-size="24.5" fill="#231815" stroke="#231815" stroke-width="0.45" text-anchor="middle">10</text>
<text transform="translate(1588.8 443.3) scale(1 1.03)" font-size="24.5" fill="#231815" stroke="#231815" stroke-width="0.45" text-anchor="middle">15</text>
<text transform="translate(1690.5 443.3) scale(1 1.03)" font-size="24.5" fill="#231815" stroke="#231815" stroke-width="0.45" text-anchor="middle">20</text>
<text transform="translate(1277.5 422.3) scale(1 1.03)" font-size="24.5" fill="#231815" stroke="#231815" stroke-width="0.45" text-anchor="end">2</text>
<text transform="translate(1277.5 344.7) scale(1 1.03)" font-size="24.5" fill="#231815" stroke="#231815" stroke-width="0.45" text-anchor="end">4</text>
<text transform="translate(1277.5 262.8) scale(1 1.03)" font-size="24.5" fill="#231815" stroke="#231815" stroke-width="0.45" text-anchor="end">6</text>
<text transform="translate(1277.5 181) scale(1 1.03)" font-size="24.5" fill="#231815" stroke="#231815" stroke-width="0.45" text-anchor="end">8</text>
<text transform="translate(1277.5 99.1) scale(1 1.03)" font-size="24.5" fill="#231815" stroke="#231815" stroke-width="0.45" text-anchor="end">10</text>
<text transform="translate(1536.5 488.3) scale(1 1.03)" font-size="30.3" fill="#231815" stroke="#231815" stroke-width="0.45" text-anchor="middle">d (Å)</text>
<text transform="translate(1235 232) rotate(-90) scale(1 1.03)" font-size="31" fill="#231815" stroke="#231815" stroke-width="0.45" text-anchor="middle">T<tspan font-size="21.5" dy="6">c</tspan><tspan dy="-6"> (K)</tspan></text>
<rect x="1403.3" y="334.6" width="11.5" height="11.5" fill="#231815"/>
<polygon points="1421.4,295.4 1413.4,308.9 1429.4,308.9" fill="#231815"/>
<polygon points="1600.6,208.3 1576,194.6 1576,222.1" fill="#e71a1a"/>
<path d="M1402.4 342.6 L1410.2 324.7" stroke="#a61d26" stroke-width="5.6" fill="none"/>
<path d="M1418 304.6 L1425.9 286.7" stroke="#a61d26" stroke-width="5.6" fill="none"/>
<path d="M1434.8 266.5 L1444.9 249.7" stroke="#a61d26" stroke-width="5.6" fill="none"/>
<path d="M1455 230.7 L1467.3 213.9" stroke="#a61d26" stroke-width="5.6" fill="none"/>
<path d="M1479.6 197.1 Q1486.5 190 1494.1 183.7" stroke="#a61d26" stroke-width="5.6" fill="none"/>
<path d="M1512 171.4 Q1521.5 169.2 1531.7 169" stroke="#a61d26" stroke-width="5.6" fill="none"/>
<path d="M1551.9 174.8 Q1561.5 178.6 1570.2 183.3" stroke="#a61d26" stroke-width="5.6" fill="none"/>
<path d="M1588.1 195.6 L1603.8 206.1" stroke="#a61d26" stroke-width="5.6" fill="none"/>
<path d="M1619.5 220.6 L1635.1 233.4" stroke="#a61d26" stroke-width="5.6" fill="none"/>
<path d="M1650.8 248.6 L1662 259.4" stroke="#a61d26" stroke-width="5.6" fill="none"/>
<circle cx="1409.5" cy="315.3" r="7.2" fill="#231815"/>
<polygon points="1494.1,222.9 1485.8,208.4 1502.3,208.4" fill="#231815"/>
<polygon points="1517.6,151.5 1526.3,159.5 1517.6,167.5 1508.8,159.5" fill="#231815"/>
<polygon points="1519.6,188.6 1534.1,180.3 1534.1,196.8" fill="#231815"/>
<polygon points="1662.5,223.9 1674.2,230.7 1674.2,244.2 1662.5,250.9 1650.8,244.2 1650.8,230.7" fill="#e71a1a"/>
<rect x="1300.2" y="68.9" width="11.7" height="11.7" fill="#231815"/>
<circle cx="1306" cy="96.1" r="7.3" fill="#231815"/>
<polygon points="1306,107.4 1297.8,122.4 1314.2,122.4" fill="#231815"/>
<polygon points="1306,146.6 1297.8,131.6 1314.2,131.6" fill="#231815"/>
<polygon points="1306,152.4 1314.7,160.3 1306,168.2 1297.3,160.3" fill="#231815"/>
<polygon points="1296.4,181.9 1311.2,173.9 1311.2,189.9" fill="#231815"/>
<polygon points="1316.9,202.8 1300.1,193.3 1300.1,212.3" fill="#e71a1a"/>
<polygon points="1305.6,214.3 1314.1,219 1314.1,228.2 1305.6,232.8 1297.1,228.2 1297.1,219" fill="#e71a1a"/>
<text transform="translate(1326 80.3) scale(1 1.03)" font-size="13.7" fill="#231815" stroke="#231815" stroke-width="0.45" text-anchor="start">EDL-FET_SnSe<tspan font-size="9.5" dy="3.4">2</tspan></text>
<text transform="translate(1326 101.5) scale(1 1.03)" font-size="13.7" fill="#231815" stroke="#231815" stroke-width="0.45" text-anchor="start">Li<tspan font-size="9.5" dy="3.4">x</tspan><tspan dy="-3.4">SnSe</tspan><tspan font-size="9.5" dy="3.4">2</tspan></text>
<text transform="translate(1326 122.8) scale(1 1.03)" font-size="13.7" fill="#231815" stroke="#231815" stroke-width="0.45" text-anchor="start">SIC-FET_SnSe<tspan font-size="9.5" dy="3.4">2</tspan></text>
<text transform="translate(1326 144.2) scale(1 1.03)" font-size="13.7" fill="#231815" stroke="#231815" stroke-width="0.45" text-anchor="start">Li<tspan font-size="9.5" dy="3.4">x</tspan><tspan dy="-3.4">(THF)</tspan><tspan font-size="9.5" dy="3.4">y</tspan><tspan dy="-3.4">SnSe</tspan><tspan font-size="9.5" dy="3.4">2</tspan></text>
<text transform="translate(1326 165.8) scale(1 1.03)" font-size="13.7" fill="#231815" stroke="#231815" stroke-width="0.45" text-anchor="start">(Co(η-C5H5)<tspan font-size="9.5" dy="3.4">2</tspan><tspan dy="-3.4">)</tspan><tspan font-size="9.5" dy="3.4">0.3</tspan><tspan dy="-3.4">SnSe</tspan><tspan font-size="9.5" dy="3.4">2</tspan></text>
<text transform="translate(1326 187.4) scale(1 1.03)" font-size="13.7" fill="#231815" stroke="#231815" stroke-width="0.45" text-anchor="start">Li<tspan font-size="9.5" dy="3.4">x</tspan><tspan dy="-3.4">(PC)</tspan><tspan font-size="9.5" dy="3.4">y</tspan><tspan dy="-3.4">SnSe</tspan><tspan font-size="9.5" dy="3.4">2</tspan></text>
<text transform="translate(1326 208.6) scale(1 1.03)" font-size="13.7" fill="#231815" stroke="#231815" stroke-width="0.45" text-anchor="start">(CTA)<tspan font-size="9.5" dy="3.4">x</tspan><tspan dy="-3.4">SnSe</tspan><tspan font-size="9.5" dy="3.4">2</tspan></text>
<text transform="translate(1326 229.4) scale(1 1.03)" font-size="13.7" fill="#231815" stroke="#231815" stroke-width="0.45" text-anchor="start">(TBA)<tspan font-size="9.5" dy="3.4">x</tspan><tspan dy="-3.4">SnSe</tspan><tspan font-size="9.5" dy="3.4">2</tspan></text>
</g>
<text class="pl" x="32.9" y="546" font-size="37.3" fill="#000">(d)</text>
<g id="panel-d">
<rect x="119.7" y="583.8" width="401.4" height="401.8" fill="none" stroke="#000" stroke-width="2.8"/>
<line x1="164.3" y1="985.6" x2="164.3" y2="978.1" stroke="#000" stroke-width="2.2"/>
<line x1="164.3" y1="583.8" x2="164.3" y2="591.3" stroke="#000" stroke-width="2.2"/>
<line x1="208.9" y1="985.6" x2="208.9" y2="981.1" stroke="#000" stroke-width="2.2"/>
<line x1="208.9" y1="583.8" x2="208.9" y2="588.3" stroke="#000" stroke-width="2.2"/>
<line x1="253.5" y1="985.6" x2="253.5" y2="978.1" stroke="#000" stroke-width="2.2"/>
<line x1="253.5" y1="583.8" x2="253.5" y2="591.3" stroke="#000" stroke-width="2.2"/>
<line x1="298.1" y1="985.6" x2="298.1" y2="981.1" stroke="#000" stroke-width="2.2"/>
<line x1="298.1" y1="583.8" x2="298.1" y2="588.3" stroke="#000" stroke-width="2.2"/>
<line x1="342.7" y1="985.6" x2="342.7" y2="978.1" stroke="#000" stroke-width="2.2"/>
<line x1="342.7" y1="583.8" x2="342.7" y2="591.3" stroke="#000" stroke-width="2.2"/>
<line x1="387.3" y1="985.6" x2="387.3" y2="981.1" stroke="#000" stroke-width="2.2"/>
<line x1="387.3" y1="583.8" x2="387.3" y2="588.3" stroke="#000" stroke-width="2.2"/>
<line x1="431.9" y1="985.6" x2="431.9" y2="978.1" stroke="#000" stroke-width="2.2"/>
<line x1="431.9" y1="583.8" x2="431.9" y2="591.3" stroke="#000" stroke-width="2.2"/>
<line x1="476.5" y1="985.6" x2="476.5" y2="981.1" stroke="#000" stroke-width="2.2"/>
<line x1="476.5" y1="583.8" x2="476.5" y2="588.3" stroke="#000" stroke-width="2.2"/>
<line x1="521.1" y1="985.6" x2="521.1" y2="978.1" stroke="#000" stroke-width="2.2"/>
<line x1="521.1" y1="583.8" x2="521.1" y2="591.3" stroke="#000" stroke-width="2.2"/>
<line x1="119.7" y1="628.8" x2="127.2" y2="628.8" stroke="#000" stroke-width="2.2"/>
<line x1="521.1" y1="628.8" x2="513.6" y2="628.8" stroke="#000" stroke-width="2.2"/>
<line x1="119.7" y1="673.4" x2="124.2" y2="673.4" stroke="#000" stroke-width="2.2"/>
<line x1="521.1" y1="673.4" x2="516.6" y2="673.4" stroke="#000" stroke-width="2.2"/>
<line x1="119.7" y1="718" x2="127.2" y2="718" stroke="#000" stroke-width="2.2"/>
<line x1="521.1" y1="718" x2="513.6" y2="718" stroke="#000" stroke-width="2.2"/>
<line x1="119.7" y1="762.6" x2="124.2" y2="762.6" stroke="#000" stroke-width="2.2"/>
<line x1="521.1" y1="762.6" x2="516.6" y2="762.6" stroke="#000" stroke-width="2.2"/>
<line x1="119.7" y1="807.2" x2="127.2" y2="807.2" stroke="#000" stroke-width="2.2"/>
<line x1="521.1" y1="807.2" x2="513.6" y2="807.2" stroke="#000" stroke-width="2.2"/>
<line x1="119.7" y1="851.8" x2="124.2" y2="851.8" stroke="#000" stroke-width="2.2"/>
<line x1="521.1" y1="851.8" x2="516.6" y2="851.8" stroke="#000" stroke-width="2.2"/>
<line x1="119.7" y1="896.4" x2="127.2" y2="896.4" stroke="#000" stroke-width="2.2"/>
<line x1="521.1" y1="896.4" x2="513.6" y2="896.4" stroke="#000" stroke-width="2.2"/>
<line x1="119.7" y1="941" x2="124.2" y2="941" stroke="#000" stroke-width="2.2"/>
<line x1="521.1" y1="941" x2="516.6" y2="941" stroke="#000" stroke-width="2.2"/>
<line x1="119.7" y1="985.6" x2="127.2" y2="985.6" stroke="#000" stroke-width="2.2"/>
<line x1="521.1" y1="985.6" x2="513.6" y2="985.6" stroke="#000" stroke-width="2.2"/>
<polyline points="164.5,931.3 177.4,931.3 188.5,931.3 199.2,931.3 209.9,931 220.8,930.8 231.9,930.3 242.1,929.6 255.8,927.6 267.4,922.6 276.6,915.9 296.7,899.8 304.1,895.8 312.8,884.7 323.7,862.3 335.1,833.3 345.5,794.4 362.9,713.1 376.5,663 388,637 398.5,630.5 404,629 409.7,629 415.4,629 421.1,629 426.8,629 432.5,629 438.2,629 443.9,629 449.6,629 455.3,629 461,629 466.7,629 472.4,629 478.1,629 483.8,629 489.5,629 495.2,629 500.9,629 506.6,629 512.3,629 518,629" fill="none" stroke="#000" stroke-width="1.7"/>
<circle cx="164.5" cy="931.3" r="5.8" fill="#000"/>
<circle cx="177.4" cy="931.3" r="5.8" fill="#000"/>
<circle cx="188.5" cy="931.3" r="5.8" fill="#000"/>
<circle cx="199.2" cy="931.3" r="5.8" fill="#000"/>
<circle cx="209.9" cy="931" r="5.8" fill="#000"/>
<circle cx="220.8" cy="930.8" r="5.8" fill="#000"/>
<circle cx="231.9" cy="930.3" r="5.8" fill="#000"/>
<circle cx="242.1" cy="929.6" r="5.8" fill="#000"/>
<circle cx="255.8" cy="927.6" r="5.8" fill="#000"/>
<circle cx="267.4" cy="922.6" r="5.8" fill="#000"/>
<circle cx="276.6" cy="915.9" r="5.8" fill="#000"/>
<circle cx="296.7" cy="899.8" r="5.8" fill="#000"/>
<circle cx="304.1" cy="895.8" r="5.8" fill="#000"/>
<circle cx="312.8" cy="884.7" r="5.8" fill="#000"/>
<circle cx="323.7" cy="862.3" r="5.8" fill="#000"/>
<circle cx="335.1" cy="833.3" r="5.8" fill="#000"/>
<circle cx="345.5" cy="794.4" r="5.8" fill="#000"/>
<circle cx="362.9" cy="713.1" r="5.8" fill="#000"/>
<circle cx="376.5" cy="663" r="5.8" fill="#000"/>
<circle cx="388" cy="637" r="5.8" fill="#000"/>
<circle cx="398.5" cy="630.5" r="5.8" fill="#000"/>
<circle cx="404" cy="629" r="5.8" fill="#000"/>
<circle cx="409.7" cy="629" r="5.8" fill="#000"/>
<circle cx="415.4" cy="629" r="5.8" fill="#000"/>
<circle cx="421.1" cy="629" r="5.8" fill="#000"/>
<circle cx="426.8" cy="629" r="5.8" fill="#000"/>
<circle cx="432.5" cy="629" r="5.8" fill="#000"/>
<circle cx="438.2" cy="629" r="5.8" fill="#000"/>
<circle cx="443.9" cy="629" r="5.8" fill="#000"/>
<circle cx="449.6" cy="629" r="5.8" fill="#000"/>
<circle cx="455.3" cy="629" r="5.8" fill="#000"/>
<circle cx="461" cy="629" r="5.8" fill="#000"/>
<circle cx="466.7" cy="629" r="5.8" fill="#000"/>
<circle cx="472.4" cy="629" r="5.8" fill="#000"/>
<circle cx="478.1" cy="629" r="5.8" fill="#000"/>
<circle cx="483.8" cy="629" r="5.8" fill="#000"/>
<circle cx="489.5" cy="629" r="5.8" fill="#000"/>
<circle cx="495.2" cy="629" r="5.8" fill="#000"/>
<circle cx="500.9" cy="629" r="5.8" fill="#000"/>
<circle cx="506.6" cy="629" r="5.8" fill="#000"/>
<circle cx="512.3" cy="629" r="5.8" fill="#000"/>
<circle cx="518" cy="629" r="5.8" fill="#000"/>
<polyline points="165,653.1 173.2,653.1 183.8,653.1 194.2,653.1 206.2,653.1 216.6,653.1 227.7,653.1 240.1,653.1 248.8,653.1 261.7,653.1 272.4,653.1 279.8,653.1 291,653.1 295.9,652.8 317,649.4 328.7,648.1 340.1,646.9 350.5,645.6 372.8,638.2 384.7,631.5" fill="none" stroke="#000" stroke-width="1.7"/>
<circle cx="165" cy="653.1" r="5.8" fill="#000"/>
<circle cx="173.2" cy="653.1" r="5.8" fill="#000"/>
<circle cx="183.8" cy="653.1" r="5.8" fill="#000"/>
<circle cx="194.2" cy="653.1" r="5.8" fill="#000"/>
<circle cx="206.2" cy="653.1" r="5.8" fill="#000"/>
<circle cx="216.6" cy="653.1" r="5.8" fill="#000"/>
<circle cx="227.7" cy="653.1" r="5.8" fill="#000"/>
<circle cx="240.1" cy="653.1" r="5.8" fill="#000"/>
<circle cx="248.8" cy="653.1" r="5.8" fill="#000"/>
<circle cx="261.7" cy="653.1" r="5.8" fill="#000"/>
<circle cx="272.4" cy="653.1" r="5.8" fill="#000"/>
<circle cx="279.8" cy="653.1" r="5.8" fill="#000"/>
<circle cx="291" cy="653.1" r="5.8" fill="#000"/>
<circle cx="295.9" cy="652.8" r="5.8" fill="#000"/>
<circle cx="317" cy="649.4" r="5.8" fill="#000"/>
<circle cx="328.7" cy="648.1" r="5.8" fill="#000"/>
<circle cx="340.1" cy="646.9" r="5.8" fill="#000"/>
<circle cx="350.5" cy="645.6" r="5.8" fill="#000"/>
<circle cx="372.8" cy="638.2" r="5.8" fill="#000"/>
<circle cx="384.7" cy="631.5" r="5.8" fill="#000"/>
<polyline points="165,711.9 179.4,711.9 189.8,711.9 200.4,711.9 211.1,711.9 223.3,711.9 233.9,711.9 245.1,711.6 260.7,710.9 271.1,710.1 278.6,709.4 290.5,706.9 302.1,704.7 312.1,701.4 323.2,697.7 334.4,692 345.5,685.8 357.2,677.1 367.9,666.7 379.8,650.6 390.7,636.5" fill="none" stroke="#ff0000" stroke-width="1.7"/>
<circle cx="165" cy="711.9" r="5.8" fill="#ff0000"/>
<circle cx="179.4" cy="711.9" r="5.8" fill="#ff0000"/>
<circle cx="189.8" cy="711.9" r="5.8" fill="#ff0000"/>
<circle cx="200.4" cy="711.9" r="5.8" fill="#ff0000"/>
<circle cx="211.1" cy="711.9" r="5.8" fill="#ff0000"/>
<circle cx="223.3" cy="711.9" r="5.8" fill="#ff0000"/>
<circle cx="233.9" cy="711.9" r="5.8" fill="#ff0000"/>
<circle cx="245.1" cy="711.6" r="5.8" fill="#ff0000"/>
<circle cx="260.7" cy="710.9" r="5.8" fill="#ff0000"/>
<circle cx="271.1" cy="710.1" r="5.8" fill="#ff0000"/>
<circle cx="278.6" cy="709.4" r="5.8" fill="#ff0000"/>
<circle cx="290.5" cy="706.9" r="5.8" fill="#ff0000"/>
<circle cx="302.1" cy="704.7" r="5.8" fill="#ff0000"/>
<circle cx="312.1" cy="701.4" r="5.8" fill="#ff0000"/>
<circle cx="323.2" cy="697.7" r="5.8" fill="#ff0000"/>
<circle cx="334.4" cy="692" r="5.8" fill="#ff0000"/>
<circle cx="345.5" cy="685.8" r="5.8" fill="#ff0000"/>
<circle cx="357.2" cy="677.1" r="5.8" fill="#ff0000"/>
<circle cx="367.9" cy="666.7" r="5.8" fill="#ff0000"/>
<circle cx="379.8" cy="650.6" r="5.8" fill="#ff0000"/>
<circle cx="390.7" cy="636.5" r="5.8" fill="#ff0000"/>
<polyline points="165,645.6 173.2,645.6 183.8,645.6 194.2,645.6 206.2,645.6 216.6,645.6 227.7,645.6 240.1,645.4 248.8,645.1 261.7,644.9 272.4,644.4 284.8,643.9 295.4,643.4 305.9,642.7 317.5,641.7 328.7,640.2 340.1,638.7 350.5,637 361.7,635.7 372.8,634.5 384.7,630.8 395.1,629.5 400.7,628.9 406.4,628.9 412,628.9 417.6,628.9 423.2,628.9 428.8,628.9 434.5,628.9 440.1,628.9 445.7,628.9 451.3,628.9 456.9,628.9 462.6,628.9 468.2,628.9 473.8,628.9 479.4,628.9 485,628.9 490.7,628.9 496.3,628.9 501.9,628.9 507.5,628.9 513.1,628.9 518.8,628.9 521.3,628.9" fill="none" stroke="#ff0000" stroke-width="1.7"/>
<circle cx="165" cy="645.6" r="5.8" fill="#ff0000"/>
<circle cx="173.2" cy="645.6" r="5.8" fill="#ff0000"/>
<circle cx="183.8" cy="645.6" r="5.8" fill="#ff0000"/>
<circle cx="194.2" cy="645.6" r="5.8" fill="#ff0000"/>
<circle cx="206.2" cy="645.6" r="5.8" fill="#ff0000"/>
<circle cx="216.6" cy="645.6" r="5.8" fill="#ff0000"/>
<circle cx="227.7" cy="645.6" r="5.8" fill="#ff0000"/>
<circle cx="240.1" cy="645.4" r="5.8" fill="#ff0000"/>
<circle cx="248.8" cy="645.1" r="5.8" fill="#ff0000"/>
<circle cx="261.7" cy="644.9" r="5.8" fill="#ff0000"/>
<circle cx="272.4" cy="644.4" r="5.8" fill="#ff0000"/>
<circle cx="284.8" cy="643.9" r="5.8" fill="#ff0000"/>
<circle cx="295.4" cy="643.4" r="5.8" fill="#ff0000"/>
<circle cx="305.9" cy="642.7" r="5.8" fill="#ff0000"/>
<circle cx="317.5" cy="641.7" r="5.8" fill="#ff0000"/>
<circle cx="328.7" cy="640.2" r="5.8" fill="#ff0000"/>
<circle cx="340.1" cy="638.7" r="5.8" fill="#ff0000"/>
<circle cx="350.5" cy="637" r="5.8" fill="#ff0000"/>
<circle cx="361.7" cy="635.7" r="5.8" fill="#ff0000"/>
<circle cx="372.8" cy="634.5" r="5.8" fill="#ff0000"/>
<circle cx="384.7" cy="630.8" r="5.8" fill="#ff0000"/>
<circle cx="395.1" cy="629.5" r="5.8" fill="#ff0000"/>
<circle cx="400.7" cy="628.9" r="5.8" fill="#ff0000"/>
<circle cx="406.4" cy="628.9" r="5.8" fill="#ff0000"/>
<circle cx="412" cy="628.9" r="5.8" fill="#ff0000"/>
<circle cx="417.6" cy="628.9" r="5.8" fill="#ff0000"/>
<circle cx="423.2" cy="628.9" r="5.8" fill="#ff0000"/>
<circle cx="428.8" cy="628.9" r="5.8" fill="#ff0000"/>
<circle cx="434.5" cy="628.9" r="5.8" fill="#ff0000"/>
<circle cx="440.1" cy="628.9" r="5.8" fill="#ff0000"/>
<circle cx="445.7" cy="628.9" r="5.8" fill="#ff0000"/>
<circle cx="451.3" cy="628.9" r="5.8" fill="#ff0000"/>
<circle cx="456.9" cy="628.9" r="5.8" fill="#ff0000"/>
<circle cx="462.6" cy="628.9" r="5.8" fill="#ff0000"/>
<circle cx="468.2" cy="628.9" r="5.8" fill="#ff0000"/>
<circle cx="473.8" cy="628.9" r="5.8" fill="#ff0000"/>
<circle cx="479.4" cy="628.9" r="5.8" fill="#ff0000"/>
<circle cx="485" cy="628.9" r="5.8" fill="#ff0000"/>
<circle cx="490.7" cy="628.9" r="5.8" fill="#ff0000"/>
<circle cx="496.3" cy="628.9" r="5.8" fill="#ff0000"/>
<circle cx="501.9" cy="628.9" r="5.8" fill="#ff0000"/>
<circle cx="507.5" cy="628.9" r="5.8" fill="#ff0000"/>
<circle cx="513.1" cy="628.9" r="5.8" fill="#ff0000"/>
<circle cx="518.8" cy="628.9" r="5.8" fill="#ff0000"/>
<circle cx="521.3" cy="628.9" r="5.8" fill="#ff0000"/>
<text transform="translate(164.3 1012.2) scale(1 1.03)" font-size="25" fill="#000" stroke="#000" stroke-width="0.45" text-anchor="middle">2</text>
<text transform="translate(253.5 1012.2) scale(1 1.03)" font-size="25" fill="#000" stroke="#000" stroke-width="0.45" text-anchor="middle">4</text>
<text transform="translate(342.7 1012.2) scale(1 1.03)" font-size="25" fill="#000" stroke="#000" stroke-width="0.45" text-anchor="middle">6</text>
<text transform="translate(431.9 1012.2) scale(1 1.03)" font-size="25" fill="#000" stroke="#000" stroke-width="0.45" text-anchor="middle">8</text>
<text transform="translate(521.1 1012.2) scale(1 1.03)" font-size="25" fill="#000" stroke="#000" stroke-width="0.45" text-anchor="middle">10</text>
<text transform="translate(112.6 637.6) scale(1 1.03)" font-size="25" fill="#000" stroke="#000" stroke-width="0.45" text-anchor="end">0</text>
<text transform="translate(112.6 726.8) scale(1 1.03)" font-size="25" fill="#000" stroke="#000" stroke-width="0.45" text-anchor="end">-1</text>
<text transform="translate(112.6 816) scale(1 1.03)" font-size="25" fill="#000" stroke="#000" stroke-width="0.45" text-anchor="end">-2</text>
<text transform="translate(112.6 905.2) scale(1 1.03)" font-size="25" fill="#000" stroke="#000" stroke-width="0.45" text-anchor="end">-3</text>
<text transform="translate(112.6 994.4) scale(1 1.03)" font-size="25" fill="#000" stroke="#000" stroke-width="0.45" text-anchor="end">-4</text>
<text transform="translate(321 1056.6) scale(1 1.03)" font-size="29.5" fill="#000" stroke="#000" stroke-width="0.45" text-anchor="middle">T (K)</text>
<text transform="translate(70 783.5) rotate(-90) scale(1 1.03)" font-size="29" fill="#000" stroke="#000" stroke-width="0.45" text-anchor="middle"><tspan font-family="Liberation Serif, serif" font-size="27.5">χ</tspan> (10<tspan font-size="19" dy="-11">-2</tspan><tspan dy="11"> emu g</tspan><tspan font-size="19" dy="-11">-1</tspan><tspan dy="11"> Oe</tspan><tspan font-size="19" dy="-11">-1</tspan><tspan dy="11">)</tspan></text>
<text transform="translate(165 629.8) scale(1 1.03)" font-size="23" fill="#ff0000" stroke="#ff0000" stroke-width="0.45" text-anchor="start">FC</text>
<text transform="translate(232.5 624) scale(1 1.03)" font-size="29" fill="#ff0000" stroke="#ff0000" stroke-width="0.45" text-anchor="start">×10</text>
<text transform="translate(165 680.6) scale(1 1.03)" font-size="23" fill="#000" stroke="#000" stroke-width="0.45" text-anchor="start">FC</text>
<text transform="translate(164 740.2) scale(1 1.03)" font-size="23" fill="#ff0000" stroke="#ff0000" stroke-width="0.45" text-anchor="start">ZFC</text>
<text transform="translate(232.5 749) scale(1 1.03)" font-size="29" fill="#ff0000" stroke="#ff0000" stroke-width="0.45" text-anchor="start">×10</text>
<text transform="translate(164 917.8) scale(1 1.03)" font-size="23" fill="#000" stroke="#000" stroke-width="0.45" text-anchor="start">ZFC</text>
<line x1="366.6" y1="817.2" x2="432.3" y2="817.2" stroke="#000" stroke-width="1.5"/>
<circle cx="399.6" cy="817.2" r="5.8" fill="#000"/>
<line x1="366.6" y1="852.4" x2="432.3" y2="852.4" stroke="#ff0000" stroke-width="1.5"/>
<circle cx="399.6" cy="852.4" r="5.8" fill="#ff0000"/>
<text transform="translate(441 826.6) scale(1 1.03)" font-size="28.7" fill="#000" stroke="#000" stroke-width="0.45" text-anchor="start">H//c</text>
<text transform="translate(441 862) scale(1 1.03)" font-size="28.7" fill="#000" stroke="#000" stroke-width="0.45" text-anchor="start">H//ab</text>
<text transform="translate(387.5 912.2) scale(1 1.03)" font-size="28.7" fill="#000" stroke="#000" stroke-width="0.45" text-anchor="start">H=10Oe</text>
</g>
<text class="pl" x="661.3" y="546" font-size="37.3" fill="#000">(e)</text>
<g id="panel-e">
<line x1="698.6" y1="891" x2="698.6" y2="985.4" stroke="#000" stroke-width="1.2"/>
<rect x="694.9" y="904.2" width="7.4" height="7.4" fill="#000"/>
<rect x="694.9" y="959.3" width="7.4" height="7.4" fill="#000"/>
<path d="M698.6 891.2 C699.8 891.1 703.5 890.8 706 890.6 C708.5 890.4 711 890.4 713.6 890 C716.2 889.6 718 889.6 721.6 888.4 C725.2 887.2 729.4 885.2 735 882.6 C740.6 880 746.3 876.7 755.1 872.9 C763.9 869.1 776.9 864 788 859.8 C799.1 855.6 810.8 851.7 822 847.5 C833.2 843.3 843.9 839 855 834.8 C866.1 830.6 877.7 827 888.9 822.3 C900.1 817.6 910.9 812.3 922 806.5 C933.1 800.7 944.3 794.1 955.3 787.5 C966.3 780.9 976.9 774.3 988 766.6 C999.1 758.9 1010.6 749.7 1021.8 741.4 C1033 733.1 1046 723.3 1055 716.6 C1064 709.9 1069.9 705.4 1075.6 701.3 C1081.3 697.2 1087 693.5 1089.3 692" fill="none" stroke="#000" stroke-width="9.2" stroke-linejoin="round"/>
<rect x="694.5" y="887.9" width="8.6" height="8.6" fill="#000"/>
<rect x="1085" y="688.2" width="8.6" height="8.6" fill="#000"/>
<line x1="697.6" y1="935" x2="697.6" y2="985.4" stroke="#ef3f47" stroke-width="1.2"/>
<path d="M698 935.6 C699.3 935.5 703.5 935.4 706 935.2 C708.5 935 710.4 934.9 713 934.4 C715.6 933.9 717.9 933.6 721.6 932.1 C725.3 930.6 729.4 928.6 735 925.6 C740.6 922.6 746.3 919.5 755.1 914 C763.9 908.5 776.9 899.8 788 892.6 C799.1 885.4 810.8 878 822 871 C833.2 864 843.9 857.6 855 850.8 C866.1 843.9 877.7 836.9 888.9 829.9 C900.1 822.9 910.9 816.2 922 809 C933.1 801.8 944.3 794.4 955.3 786.8 C966.3 779.2 976.9 771.6 988 763.3 C999.1 754.9 1010.6 746 1021.8 736.7 C1033 727.5 1046 715.8 1055 707.8 C1064 699.8 1069.8 694 1075.6 688.6 C1081.4 683.2 1087.3 677.4 1089.6 675.2" fill="none" stroke="#ef3f47" stroke-width="9.4" stroke-linejoin="round"/>
<rect x="694" y="938.7" width="7.6" height="7.6" fill="#ef3f47"/>
<rect x="694" y="975.2" width="7.6" height="7.6" fill="#ef3f47"/>
<rect x="693.7" y="932.2" width="8.6" height="8.6" fill="#ef3f47"/>
<rect x="1085" y="671.9" width="8.6" height="8.6" fill="#ef3f47"/>
<rect x="687.5" y="981.6" width="14" height="7.4" fill="#ef3f47"/>
<path d="M1089.6 584 L688.3 584 L688.3 985.4 L1089.6 985.4" fill="none" stroke="#000" stroke-width="2.8" stroke-linecap="square"/>
<line x1="721.7" y1="985.4" x2="721.7" y2="980.9" stroke="#000" stroke-width="2.2"/>
<line x1="721.7" y1="584" x2="721.7" y2="588.5" stroke="#000" stroke-width="2.2"/>
<line x1="755.2" y1="985.4" x2="755.2" y2="977.9" stroke="#000" stroke-width="2.2"/>
<line x1="755.2" y1="584" x2="755.2" y2="591.5" stroke="#000" stroke-width="2.2"/>
<line x1="788.6" y1="985.4" x2="788.6" y2="980.9" stroke="#000" stroke-width="2.2"/>
<line x1="788.6" y1="584" x2="788.6" y2="588.5" stroke="#000" stroke-width="2.2"/>
<line x1="822.1" y1="985.4" x2="822.1" y2="977.9" stroke="#000" stroke-width="2.2"/>
<line x1="822.1" y1="584" x2="822.1" y2="591.5" stroke="#000" stroke-width="2.2"/>
<line x1="855.5" y1="985.4" x2="855.5" y2="980.9" stroke="#000" stroke-width="2.2"/>
<line x1="855.5" y1="584" x2="855.5" y2="588.5" stroke="#000" stroke-width="2.2"/>
<line x1="888.9" y1="985.4" x2="888.9" y2="977.9" stroke="#000" stroke-width="2.2"/>
<line x1="888.9" y1="584" x2="888.9" y2="591.5" stroke="#000" stroke-width="2.2"/>
<line x1="922.4" y1="985.4" x2="922.4" y2="980.9" stroke="#000" stroke-width="2.2"/>
<line x1="922.4" y1="584" x2="922.4" y2="588.5" stroke="#000" stroke-width="2.2"/>
<line x1="955.8" y1="985.4" x2="955.8" y2="977.9" stroke="#000" stroke-width="2.2"/>
<line x1="955.8" y1="584" x2="955.8" y2="591.5" stroke="#000" stroke-width="2.2"/>
<line x1="989.3" y1="985.4" x2="989.3" y2="980.9" stroke="#000" stroke-width="2.2"/>
<line x1="989.3" y1="584" x2="989.3" y2="588.5" stroke="#000" stroke-width="2.2"/>
<line x1="1022.7" y1="985.4" x2="1022.7" y2="977.9" stroke="#000" stroke-width="2.2"/>
<line x1="1022.7" y1="584" x2="1022.7" y2="591.5" stroke="#000" stroke-width="2.2"/>
<line x1="1056.2" y1="985.4" x2="1056.2" y2="980.9" stroke="#000" stroke-width="2.2"/>
<line x1="1056.2" y1="584" x2="1056.2" y2="588.5" stroke="#000" stroke-width="2.2"/>
<line x1="688.3" y1="928.1" x2="692.8" y2="928.1" stroke="#000" stroke-width="2.2"/>
<line x1="688.3" y1="870.7" x2="695.8" y2="870.7" stroke="#000" stroke-width="2.2"/>
<line x1="688.3" y1="813.4" x2="692.8" y2="813.4" stroke="#000" stroke-width="2.2"/>
<line x1="688.3" y1="756" x2="695.8" y2="756" stroke="#000" stroke-width="2.2"/>
<line x1="688.3" y1="698.7" x2="692.8" y2="698.7" stroke="#000" stroke-width="2.2"/>
<line x1="688.3" y1="641.3" x2="695.8" y2="641.3" stroke="#000" stroke-width="2.2"/>
<line x1="1089.6" y1="582.6" x2="1089.6" y2="986.8" stroke="#ff0000" stroke-width="2.8"/>
<line x1="1089.6" y1="985.4" x2="1082.1" y2="985.4" stroke="#ff0000" stroke-width="2.2"/>
<line x1="1089.6" y1="935.2" x2="1085.1" y2="935.2" stroke="#ff0000" stroke-width="2.2"/>
<line x1="1089.6" y1="885" x2="1082.1" y2="885" stroke="#ff0000" stroke-width="2.2"/>
<line x1="1089.6" y1="834.9" x2="1085.1" y2="834.9" stroke="#ff0000" stroke-width="2.2"/>
<line x1="1089.6" y1="784.7" x2="1082.1" y2="784.7" stroke="#ff0000" stroke-width="2.2"/>
<line x1="1089.6" y1="734.5" x2="1085.1" y2="734.5" stroke="#ff0000" stroke-width="2.2"/>
<line x1="1089.6" y1="684.3" x2="1082.1" y2="684.3" stroke="#ff0000" stroke-width="2.2"/>
<line x1="1089.6" y1="634.2" x2="1085.1" y2="634.2" stroke="#ff0000" stroke-width="2.2"/>
<line x1="1089.6" y1="584" x2="1082.1" y2="584" stroke="#ff0000" stroke-width="2.2"/>
<text transform="translate(688.3 1012.2) scale(1 1.03)" font-size="25" fill="#000" stroke="#000" stroke-width="0.45" text-anchor="middle">0</text>
<text transform="translate(755.2 1012.2) scale(1 1.03)" font-size="25" fill="#000" stroke="#000" stroke-width="0.45" text-anchor="middle">50</text>
<text transform="translate(822.1 1012.2) scale(1 1.03)" font-size="25" fill="#000" stroke="#000" stroke-width="0.45" text-anchor="middle">100</text>
<text transform="translate(888.9 1012.2) scale(1 1.03)" font-size="25" fill="#000" stroke="#000" stroke-width="0.45" text-anchor="middle">150</text>
<text transform="translate(955.8 1012.2) scale(1 1.03)" font-size="25" fill="#000" stroke="#000" stroke-width="0.45" text-anchor="middle">200</text>
<text transform="translate(1022.7 1012.2) scale(1 1.03)" font-size="25" fill="#000" stroke="#000" stroke-width="0.45" text-anchor="middle">250</text>
<text transform="translate(1089.6 1012.2) scale(1 1.03)" font-size="25" fill="#000" stroke="#000" stroke-width="0.45" text-anchor="middle">300</text>
<text transform="translate(681 994.2) scale(1 1.03)" font-size="25" fill="#000" stroke="#000" stroke-width="0.45" text-anchor="end">0</text>
<text transform="translate(681 879.5) scale(1 1.03)" font-size="25" fill="#000" stroke="#000" stroke-width="0.45" text-anchor="end">1</text>
<text transform="translate(681 764.8) scale(1 1.03)" font-size="25" fill="#000" stroke="#000" stroke-width="0.45" text-anchor="end">2</text>
<text transform="translate(681 650.1) scale(1 1.03)" font-size="25" fill="#000" stroke="#000" stroke-width="0.45" text-anchor="end">3</text>
<text transform="translate(1097.2 994) scale(1 1.03)" font-size="24.5" fill="#ff0000" stroke="#ff0000" stroke-width="0.45" text-anchor="start">0</text>
<text transform="translate(1097.2 893.6) scale(1 1.03)" font-size="24.5" fill="#ff0000" stroke="#ff0000" stroke-width="0.45" text-anchor="start">2500</text>
<text transform="translate(1097.2 793.3) scale(1 1.03)" font-size="24.5" fill="#ff0000" stroke="#ff0000" stroke-width="0.45" text-anchor="start">5000</text>
<text transform="translate(1097.2 692.9) scale(1 1.03)" font-size="24.5" fill="#ff0000" stroke="#ff0000" stroke-width="0.45" text-anchor="start">7500</text>
<text transform="translate(1097.2 592.6) scale(1 1.03)" font-size="24.5" fill="#ff0000" stroke="#ff0000" stroke-width="0.45" text-anchor="start">10000</text>
<text transform="translate(889.5 1056.6) scale(1 1.03)" font-size="29.5" fill="#000" stroke="#000" stroke-width="0.45" text-anchor="middle">T (K)</text>
<text transform="translate(638.5 785) rotate(-90) scale(1 1.03)" font-size="28.7" fill="#000" stroke="#000" stroke-width="0.45" text-anchor="middle">ρ<tspan font-size="20" dy="5.5">ab</tspan><tspan dy="-5.5">(mΩ cm)</tspan></text>
<text transform="translate(1170 785.5) rotate(90) scale(1 1.03)" font-size="28.7" fill="#ff0000" stroke="#ff0000" stroke-width="0.45" text-anchor="middle">ρ<tspan font-size="20" dy="5.5">c</tspan><tspan dy="-5.5">(mΩ cm)</tspan></text>
<line x1="738.2" y1="633.9" x2="804" y2="633.9" stroke="#000" stroke-width="1.5"/>
<rect x="767.7" y="630" width="7.8" height="7.8" fill="#000"/>
<line x1="738.2" y1="678.6" x2="804" y2="678.6" stroke="#ef3f47" stroke-width="1.5"/>
<rect x="767.7" y="674.7" width="7.8" height="7.8" fill="#ef3f47"/>
<text transform="translate(812.5 644.5) scale(1 1.03)" font-size="26.5" fill="#000" stroke="#000" stroke-width="0.45" text-anchor="start">ρ<tspan font-size="19" dy="6">ab</tspan></text>
<text transform="translate(812.5 689.2) scale(1 1.03)" font-size="26.5" fill="#000" stroke="#000" stroke-width="0.45" text-anchor="start">ρ<tspan font-size="19" dy="6">c</tspan></text>
</g>
<text class="pl" x="1230.3" y="546" font-size="37.3" fill="#000">(f)</text>
<g id="panel-f">
<path d="M1316.4 871.2 C1317.9 872.6 1322.4 876.8 1325.6 879.5 C1328.8 882.2 1332.4 884.9 1335.7 887.4 C1339.1 889.9 1342.4 892.4 1345.6 894.6 C1348.7 896.8 1351.4 898.8 1354.8 900.6 C1358.1 902.4 1361.9 904.2 1365.5 905.6 C1369.1 907 1371.4 907.8 1376.3 909.3 C1381.1 910.8 1388.5 913 1394.7 914.3 C1400.8 915.6 1407 916.3 1413.1 917 C1419.2 917.7 1422.1 918.2 1431.5 918.7 C1441 919.2 1457.1 919.7 1469.9 920 C1482.7 920.3 1489.1 920.4 1508.3 920.5 C1527.5 920.6 1559.4 920.7 1585 920.9 C1610.6 921.1 1636.2 921.3 1661.8 921.6 C1687.3 921.9 1725.7 922.5 1738.5 922.7" fill="none" stroke="#000" stroke-width="8.8"/>
<rect x="1312.3" y="867.1" width="8.8" height="8.8" fill="#000"/>
<rect x="1734.1" y="918.3" width="8.8" height="8.8" fill="#000"/>
<rect x="1316.4" y="575.9" width="422.1" height="412.3" fill="none" stroke="#000" stroke-width="2.8"/>
<path d="M1316.4 685.5 C1320.2 684.5 1333 681.2 1339.4 679.6 C1345.8 678 1349.1 676.9 1354.8 675.6 C1360.4 674.3 1366.8 672.8 1373.2 671.6 C1379.6 670.4 1383.4 670.1 1393.1 668.6 C1402.9 667.1 1418.7 664.4 1431.5 662.7 C1444.3 661 1457.1 659.6 1469.9 658.4 C1482.7 657.2 1489.1 656.5 1508.3 655.5 C1527.5 654.5 1559.4 653.5 1585 652.6 C1610.6 651.8 1636.2 651.1 1661.8 650.4 C1687.3 649.7 1725.7 648.8 1738.5 648.5" fill="none" stroke="#0000ff" stroke-width="9" stroke-linecap="round"/>
<line x1="1354.8" y1="988.2" x2="1354.8" y2="980.7" stroke="#000" stroke-width="2.2"/>
<line x1="1354.8" y1="575.9" x2="1354.8" y2="583.4" stroke="#000" stroke-width="2.2"/>
<line x1="1393.1" y1="988.2" x2="1393.1" y2="983.7" stroke="#000" stroke-width="2.2"/>
<line x1="1393.1" y1="575.9" x2="1393.1" y2="580.4" stroke="#000" stroke-width="2.2"/>
<line x1="1431.5" y1="988.2" x2="1431.5" y2="980.7" stroke="#000" stroke-width="2.2"/>
<line x1="1431.5" y1="575.9" x2="1431.5" y2="583.4" stroke="#000" stroke-width="2.2"/>
<line x1="1469.9" y1="988.2" x2="1469.9" y2="983.7" stroke="#000" stroke-width="2.2"/>
<line x1="1469.9" y1="575.9" x2="1469.9" y2="580.4" stroke="#000" stroke-width="2.2"/>
<line x1="1508.3" y1="988.2" x2="1508.3" y2="980.7" stroke="#000" stroke-width="2.2"/>
<line x1="1508.3" y1="575.9" x2="1508.3" y2="583.4" stroke="#000" stroke-width="2.2"/>
<line x1="1546.6" y1="988.2" x2="1546.6" y2="983.7" stroke="#000" stroke-width="2.2"/>
<line x1="1546.6" y1="575.9" x2="1546.6" y2="580.4" stroke="#000" stroke-width="2.2"/>
<line x1="1585" y1="988.2" x2="1585" y2="980.7" stroke="#000" stroke-width="2.2"/>
<line x1="1585" y1="575.9" x2="1585" y2="583.4" stroke="#000" stroke-width="2.2"/>
<line x1="1623.4" y1="988.2" x2="1623.4" y2="983.7" stroke="#000" stroke-width="2.2"/>
<line x1="1623.4" y1="575.9" x2="1623.4" y2="580.4" stroke="#000" stroke-width="2.2"/>
<line x1="1661.8" y1="988.2" x2="1661.8" y2="980.7" stroke="#000" stroke-width="2.2"/>
<line x1="1661.8" y1="575.9" x2="1661.8" y2="583.4" stroke="#000" stroke-width="2.2"/>
<line x1="1700.1" y1="988.2" x2="1700.1" y2="983.7" stroke="#000" stroke-width="2.2"/>
<line x1="1700.1" y1="575.9" x2="1700.1" y2="580.4" stroke="#000" stroke-width="2.2"/>
<line x1="1316.4" y1="946.8" x2="1320.4" y2="946.8" stroke="#000" stroke-width="2.2"/>
<line x1="1738.5" y1="946.8" x2="1734.5" y2="946.8" stroke="#000" stroke-width="2.2"/>
<line x1="1316.4" y1="922.6" x2="1320.4" y2="922.6" stroke="#000" stroke-width="2.2"/>
<line x1="1738.5" y1="922.6" x2="1734.5" y2="922.6" stroke="#000" stroke-width="2.2"/>
<line x1="1316.4" y1="905.5" x2="1320.4" y2="905.5" stroke="#000" stroke-width="2.2"/>
<line x1="1738.5" y1="905.5" x2="1734.5" y2="905.5" stroke="#000" stroke-width="2.2"/>
<line x1="1316.4" y1="892.1" x2="1320.4" y2="892.1" stroke="#000" stroke-width="2.2"/>
<line x1="1738.5" y1="892.1" x2="1734.5" y2="892.1" stroke="#000" stroke-width="2.2"/>
<line x1="1316.4" y1="881.3" x2="1320.4" y2="881.3" stroke="#000" stroke-width="2.2"/>
<line x1="1738.5" y1="881.3" x2="1734.5" y2="881.3" stroke="#000" stroke-width="2.2"/>
<line x1="1316.4" y1="872.1" x2="1320.4" y2="872.1" stroke="#000" stroke-width="2.2"/>
<line x1="1738.5" y1="872.1" x2="1734.5" y2="872.1" stroke="#000" stroke-width="2.2"/>
<line x1="1316.4" y1="864.1" x2="1320.4" y2="864.1" stroke="#000" stroke-width="2.2"/>
<line x1="1738.5" y1="864.1" x2="1734.5" y2="864.1" stroke="#000" stroke-width="2.2"/>
<line x1="1316.4" y1="857.1" x2="1320.4" y2="857.1" stroke="#000" stroke-width="2.2"/>
<line x1="1738.5" y1="857.1" x2="1734.5" y2="857.1" stroke="#000" stroke-width="2.2"/>
<line x1="1316.4" y1="850.8" x2="1323.9" y2="850.8" stroke="#000" stroke-width="2.2"/>
<line x1="1738.5" y1="850.8" x2="1731" y2="850.8" stroke="#000" stroke-width="2.2"/>
<line x1="1316.4" y1="809.4" x2="1320.4" y2="809.4" stroke="#000" stroke-width="2.2"/>
<line x1="1738.5" y1="809.4" x2="1734.5" y2="809.4" stroke="#000" stroke-width="2.2"/>
<line x1="1316.4" y1="785.2" x2="1320.4" y2="785.2" stroke="#000" stroke-width="2.2"/>
<line x1="1738.5" y1="785.2" x2="1734.5" y2="785.2" stroke="#000" stroke-width="2.2"/>
<line x1="1316.4" y1="768" x2="1320.4" y2="768" stroke="#000" stroke-width="2.2"/>
<line x1="1738.5" y1="768" x2="1734.5" y2="768" stroke="#000" stroke-width="2.2"/>
<line x1="1316.4" y1="754.7" x2="1320.4" y2="754.7" stroke="#000" stroke-width="2.2"/>
<line x1="1738.5" y1="754.7" x2="1734.5" y2="754.7" stroke="#000" stroke-width="2.2"/>
<line x1="1316.4" y1="743.8" x2="1320.4" y2="743.8" stroke="#000" stroke-width="2.2"/>
<line x1="1738.5" y1="743.8" x2="1734.5" y2="743.8" stroke="#000" stroke-width="2.2"/>
<line x1="1316.4" y1="734.6" x2="1320.4" y2="734.6" stroke="#000" stroke-width="2.2"/>
<line x1="1738.5" y1="734.6" x2="1734.5" y2="734.6" stroke="#000" stroke-width="2.2"/>
<line x1="1316.4" y1="726.7" x2="1320.4" y2="726.7" stroke="#000" stroke-width="2.2"/>
<line x1="1738.5" y1="726.7" x2="1734.5" y2="726.7" stroke="#000" stroke-width="2.2"/>
<line x1="1316.4" y1="719.6" x2="1320.4" y2="719.6" stroke="#000" stroke-width="2.2"/>
<line x1="1738.5" y1="719.6" x2="1734.5" y2="719.6" stroke="#000" stroke-width="2.2"/>
<line x1="1316.4" y1="713.3" x2="1323.9" y2="713.3" stroke="#000" stroke-width="2.2"/>
<line x1="1738.5" y1="713.3" x2="1731" y2="713.3" stroke="#000" stroke-width="2.2"/>
<line x1="1316.4" y1="672" x2="1320.4" y2="672" stroke="#000" stroke-width="2.2"/>
<line x1="1738.5" y1="672" x2="1734.5" y2="672" stroke="#000" stroke-width="2.2"/>
<line x1="1316.4" y1="647.8" x2="1320.4" y2="647.8" stroke="#000" stroke-width="2.2"/>
<line x1="1738.5" y1="647.8" x2="1734.5" y2="647.8" stroke="#000" stroke-width="2.2"/>
<line x1="1316.4" y1="630.6" x2="1320.4" y2="630.6" stroke="#000" stroke-width="2.2"/>
<line x1="1738.5" y1="630.6" x2="1734.5" y2="630.6" stroke="#000" stroke-width="2.2"/>
<line x1="1316.4" y1="617.3" x2="1320.4" y2="617.3" stroke="#000" stroke-width="2.2"/>
<line x1="1738.5" y1="617.3" x2="1734.5" y2="617.3" stroke="#000" stroke-width="2.2"/>
<line x1="1316.4" y1="606.4" x2="1320.4" y2="606.4" stroke="#000" stroke-width="2.2"/>
<line x1="1738.5" y1="606.4" x2="1734.5" y2="606.4" stroke="#000" stroke-width="2.2"/>
<line x1="1316.4" y1="597.2" x2="1320.4" y2="597.2" stroke="#000" stroke-width="2.2"/>
<line x1="1738.5" y1="597.2" x2="1734.5" y2="597.2" stroke="#000" stroke-width="2.2"/>
<line x1="1316.4" y1="589.2" x2="1320.4" y2="589.2" stroke="#000" stroke-width="2.2"/>
<line x1="1738.5" y1="589.2" x2="1734.5" y2="589.2" stroke="#000" stroke-width="2.2"/>
<line x1="1316.4" y1="582.2" x2="1320.4" y2="582.2" stroke="#000" stroke-width="2.2"/>
<line x1="1738.5" y1="582.2" x2="1734.5" y2="582.2" stroke="#000" stroke-width="2.2"/>
<text transform="translate(1354.8 1016) scale(1 1.03)" font-size="25.5" fill="#000" stroke="#000" stroke-width="0.45" text-anchor="middle">50</text>
<text transform="translate(1431.5 1016) scale(1 1.03)" font-size="25.5" fill="#000" stroke="#000" stroke-width="0.45" text-anchor="middle">100</text>
<text transform="translate(1508.3 1016) scale(1 1.03)" font-size="25.5" fill="#000" stroke="#000" stroke-width="0.45" text-anchor="middle">150</text>
<text transform="translate(1585 1016) scale(1 1.03)" font-size="25.5" fill="#000" stroke="#000" stroke-width="0.45" text-anchor="middle">200</text>
<text transform="translate(1661.8 1016) scale(1 1.03)" font-size="25.5" fill="#000" stroke="#000" stroke-width="0.45" text-anchor="middle">250</text>
<text transform="translate(1738.5 1016) scale(1 1.03)" font-size="25.5" fill="#000" stroke="#000" stroke-width="0.45" text-anchor="middle">300</text>
<text transform="translate(1308.3 998) scale(1 1.03)" font-size="24.6" fill="#000" stroke="#000" stroke-width="0.45" text-anchor="end">10<tspan font-size="17" dy="-11">1</tspan></text>
<text transform="translate(1308.3 860.6) scale(1 1.03)" font-size="24.6" fill="#000" stroke="#000" stroke-width="0.45" text-anchor="end">10<tspan font-size="17" dy="-11">2</tspan></text>
<text transform="translate(1308.3 723.1) scale(1 1.03)" font-size="24.6" fill="#000" stroke="#000" stroke-width="0.45" text-anchor="end">10<tspan font-size="17" dy="-11">3</tspan></text>
<text transform="translate(1308.3 585.7) scale(1 1.03)" font-size="24.6" fill="#000" stroke="#000" stroke-width="0.45" text-anchor="end">10<tspan font-size="17" dy="-11">4</tspan></text>
<text transform="translate(1255.5 779) rotate(-90) scale(1 1.03)" font-size="28.7" fill="#000" stroke="#000" stroke-width="0.45" text-anchor="middle">ρ<tspan font-size="20" dy="5.5">c</tspan><tspan dy="-5.5">/ρ</tspan><tspan font-size="20" dy="5.5">ab</tspan></text>
<text transform="translate(1533.5 629.8) scale(1 1.03)" font-size="24.3" fill="#0000ff" stroke="#0000ff" stroke-width="0.45" text-anchor="start">(CTA)<tspan font-size="16" dy="5">0.5</tspan><tspan dy="-5">SnSe</tspan><tspan font-size="16" dy="5">2</tspan></text>
<text transform="translate(1581.3 895.4) scale(1 1.03)" font-size="24" fill="#000" stroke="#000" stroke-width="0.45" text-anchor="start">SnSe<tspan font-size="16" dy="5">2</tspan></text>
<rect x="1530.6" y="519.6" width="2.6" height="0.9" fill="#c9c9c9"/>
<rect x="1551.5" y="519.8" width="2.6" height="0.9" fill="#c9c9c9"/>
<rect x="1530.6" y="1039.4" width="2.6" height="0.9" fill="#c9c9c9"/>
<rect x="1551.5" y="1039.6" width="2.6" height="0.9" fill="#c9c9c9"/>
</g>
</svg>
</body></html>
